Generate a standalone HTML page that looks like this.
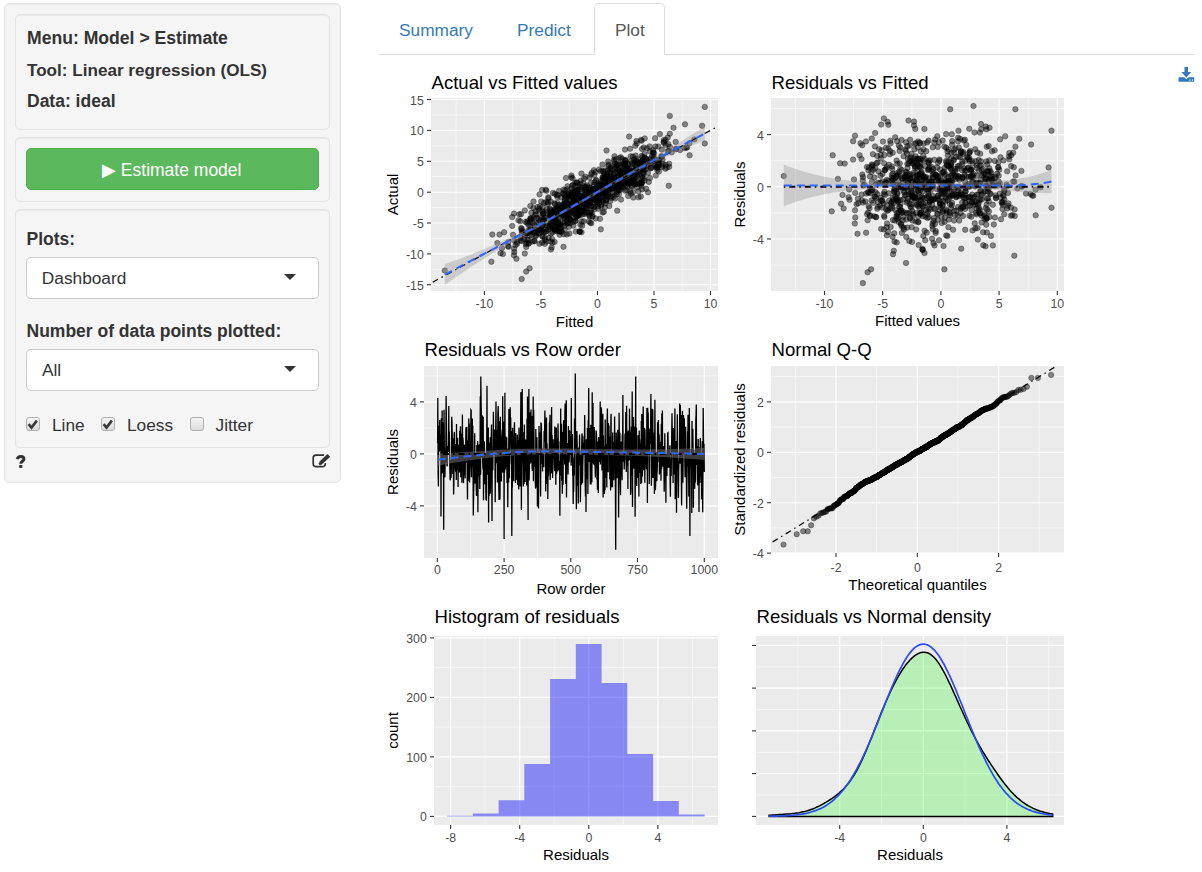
<!DOCTYPE html>
<html><head><meta charset="utf-8">
<style>
*{box-sizing:border-box;margin:0;padding:0}
html,body{width:1202px;height:872px;background:#fff;overflow:hidden;font-family:"Liberation Sans",sans-serif;color:#333}
.abs{position:absolute}
.well{position:absolute;background:#f5f5f5;border:1px solid #e3e3e3;border-radius:5px;box-shadow:inset 0 1px 1px rgba(0,0,0,.05)}
.t{position:absolute;white-space:nowrap;line-height:1}
.b{font-weight:bold;font-size:17.5px;color:#333}
.sel{position:absolute;background:#fff;border:1px solid #ccc;border-radius:5px}
.arrow{position:absolute;width:0;height:0;border-left:6px solid transparent;border-right:6px solid transparent;border-top:6px solid #333}
.cb{position:absolute;width:14px;height:14px;border:1px solid #b0b0b0;border-radius:3px;background:linear-gradient(#f4f4f4,#dcdcdc)}
.tab{position:absolute;font-size:17.3px;line-height:1;white-space:nowrap}
svg text{font-family:"Liberation Sans",sans-serif}
.tl{font-size:12.3px;fill:#4D4D4D}
.at{font-size:15px;fill:#000}
.tt{font-size:18.6px;fill:#000}
</style></head><body>
<div class="well" style="left:4px;top:3px;width:337px;height:480px"></div>
<div class="well" style="left:15px;top:14px;width:315px;height:116px"></div>
<div class="well" style="left:15px;top:137px;width:315px;height:65px"></div>
<div class="well" style="left:15px;top:209px;width:315px;height:239px"></div>

<div class="t b" style="left:27px;top:30px;font-size:17.6px">Menu: Model &gt; Estimate</div>
<div class="t b" style="left:27px;top:62px;font-size:17.1px">Tool: Linear regression (OLS)</div>
<div class="t b" style="left:27px;top:93px">Data: ideal</div>

<div class="abs" style="left:26px;top:148px;width:293px;height:42px;background:#5cb85c;border:1px solid #4cae4c;border-radius:5px"></div>
<div class="t" style="left:102px;top:162px;font-size:17.5px;color:#fff">&#9654; Estimate model</div>

<div class="t b" style="left:26.5px;top:231px">Plots:</div>
<div class="sel" style="left:26px;top:257px;width:293px;height:42px"></div>
<div class="t" style="left:41.8px;top:270px;font-size:17.3px;color:#333">Dashboard</div>
<div class="arrow" style="left:284px;top:274px"></div>

<div class="t b" style="left:26.5px;top:323px">Number of data points plotted:</div>
<div class="sel" style="left:26px;top:349px;width:293px;height:42px"></div>
<div class="t" style="left:42px;top:362px;font-size:17.3px;color:#333">All</div>
<div class="arrow" style="left:284px;top:366px"></div>

<div class="cb" style="left:26px;top:417px"></div>
<div class="t" style="left:52px;top:417px;font-size:17.3px;color:#333">Line</div>
<div class="cb" style="left:101px;top:417px"></div>
<div class="t" style="left:127px;top:417px;font-size:17.3px;color:#333">Loess</div>
<div class="cb" style="left:190px;top:417px"></div>
<div class="t" style="left:215.5px;top:417px;font-size:17.3px;color:#333">Jitter</div>


<!-- tabs -->
<div class="abs" style="left:379px;top:54px;width:815px;height:1px;background:#ddd"></div>
<div class="abs" style="left:594px;top:3px;width:71px;height:52px;background:#fff;border:1px solid #ddd;border-bottom:none;border-radius:5px 5px 0 0"></div>
<div class="tab" style="left:399px;top:22px;color:#337ab7">Summary</div>
<div class="tab" style="left:517px;top:22px;color:#337ab7">Predict</div>
<div class="tab" style="left:615px;top:22px;color:#555">Plot</div>

<svg class="abs" style="left:0;top:0" width="1202" height="872" viewBox="0 0 1202 872">
<!-- check marks -->
<path d="M28.6 424.2 l2.9 3.4 l5.4 -7" fill="none" stroke="#3a3a3a" stroke-width="2.6"/>
<path d="M103.6 424.2 l2.9 3.4 l5.4 -7" fill="none" stroke="#3a3a3a" stroke-width="2.6"/>
<!-- edit icon -->
<path d="M324 455.2 H316 a2.8 2.8 0 0 0 -2.8 2.8 V463.9 a2.8 2.8 0 0 0 2.8 2.8 H322.5 a2.8 2.8 0 0 0 2.8 -2.8 V463" fill="none" stroke="#333" stroke-width="1.7"/>
<line x1="320.6" y1="463.2" x2="328.8" y2="455.4" stroke="#f5f5f5" stroke-width="6"/>
<line x1="320.6" y1="463.2" x2="328.8" y2="455.4" stroke="#333" stroke-width="3.8"/>
<circle cx="320.3" cy="463.6" r="1.6" fill="#333"/>
<!-- question -->
<path d="M17.2 459.2 C17.8 456.8 19.3 456.4 20.8 456.4 C22.8 456.4 23.9 457.6 23.9 459 C23.9 461.2 20.8 461.4 20.8 463.8" fill="none" stroke="#333" stroke-width="3"/>
<rect x="19.2" y="465" width="3.1" height="2.9" fill="#333"/>
<!-- download icon -->
<g fill="#337ab7">
<rect x="1184.5" y="67" width="3.5" height="5.5"/>
<path d="M1181.3 72 h10 l-5 5.5 z"/>
<path d="M1178.5 77.3 h5.8 l2 2 l2 -2 h5.9 v4.4 h-15.7 z"/>
</g>
<rect x="1189.3" y="79.5" width="1.2" height="1.2" fill="#fff"/><rect x="1191.9" y="79.5" width="1" height="1.2" fill="#fff"/>
<defs>
<clipPath id="c1"><rect x="431" y="98" width="287" height="193"/></clipPath>
<clipPath id="c2"><rect x="771" y="98" width="293" height="193"/></clipPath>
<clipPath id="c3"><rect x="424" y="366" width="294" height="192"/></clipPath>
<clipPath id="c4"><rect x="771" y="366" width="293" height="187"/></clipPath>
<clipPath id="c5"><rect x="434" y="636" width="284" height="189"/></clipPath>
<clipPath id="c6"><rect x="756" y="636" width="308" height="189"/></clipPath>
</defs>
<rect x="431" y="98" width="287" height="193" fill="#EBEBEB"/>
<line x1="431" x2="718" y1="269.4" y2="269.4" stroke="#fff" stroke-width="0.55"/>
<line x1="431" x2="718" y1="238.5" y2="238.5" stroke="#fff" stroke-width="0.55"/>
<line x1="431" x2="718" y1="207.6" y2="207.6" stroke="#fff" stroke-width="0.55"/>
<line x1="431" x2="718" y1="176.7" y2="176.7" stroke="#fff" stroke-width="0.55"/>
<line x1="431" x2="718" y1="145.8" y2="145.8" stroke="#fff" stroke-width="0.55"/>
<line x1="431" x2="718" y1="114.9" y2="114.9" stroke="#fff" stroke-width="0.55"/>
<line y1="98" y2="291" x1="456.1" x2="456.1" stroke="#fff" stroke-width="0.55"/>
<line y1="98" y2="291" x1="512.7" x2="512.7" stroke="#fff" stroke-width="0.55"/>
<line y1="98" y2="291" x1="569.2" x2="569.2" stroke="#fff" stroke-width="0.55"/>
<line y1="98" y2="291" x1="625.7" x2="625.7" stroke="#fff" stroke-width="0.55"/>
<line y1="98" y2="291" x1="682.2" x2="682.2" stroke="#fff" stroke-width="0.55"/>
<line x1="431" x2="718" y1="284.8" y2="284.8" stroke="#fff" stroke-width="1.1"/>
<line x1="431" x2="718" y1="253.9" y2="253.9" stroke="#fff" stroke-width="1.1"/>
<line x1="431" x2="718" y1="223" y2="223" stroke="#fff" stroke-width="1.1"/>
<line x1="431" x2="718" y1="192.2" y2="192.2" stroke="#fff" stroke-width="1.1"/>
<line x1="431" x2="718" y1="161.3" y2="161.3" stroke="#fff" stroke-width="1.1"/>
<line x1="431" x2="718" y1="130.4" y2="130.4" stroke="#fff" stroke-width="1.1"/>
<line x1="431" x2="718" y1="99.5" y2="99.5" stroke="#fff" stroke-width="1.1"/>
<line y1="98" y2="291" x1="484.4" x2="484.4" stroke="#fff" stroke-width="1.1"/>
<line y1="98" y2="291" x1="540.9" x2="540.9" stroke="#fff" stroke-width="1.1"/>
<line y1="98" y2="291" x1="597.5" x2="597.5" stroke="#fff" stroke-width="1.1"/>
<line y1="98" y2="291" x1="654" x2="654" stroke="#fff" stroke-width="1.1"/>
<line y1="98" y2="291" x1="710.5" x2="710.5" stroke="#fff" stroke-width="1.1"/>
<g clip-path="url(#c1)">
<g fill="#000" fill-opacity="0.45" stroke="#000" stroke-opacity="0.45" stroke-width="0.7">
<circle cx="444.8" cy="270.5" r="2.75"/>
<circle cx="704.8" cy="106.9" r="2.75"/>
<circle cx="704.8" cy="143.4" r="2.75"/>
<circle cx="594.5" cy="209.3" r="2.75"/>
<circle cx="565.3" cy="196.4" r="2.75"/>
<circle cx="608.6" cy="178.8" r="2.75"/>
<circle cx="647.8" cy="163.6" r="2.75"/>
<circle cx="611.2" cy="177.3" r="2.75"/>
<circle cx="632.8" cy="156.7" r="2.75"/>
<circle cx="585.9" cy="196.9" r="2.75"/>
<circle cx="582.3" cy="196.6" r="2.75"/>
<circle cx="632.3" cy="171.1" r="2.75"/>
<circle cx="702.1" cy="125.8" r="2.75"/>
<circle cx="579.6" cy="231.7" r="2.75"/>
<circle cx="548" cy="202.2" r="2.75"/>
<circle cx="620.3" cy="179.8" r="2.75"/>
<circle cx="643.8" cy="173.6" r="2.75"/>
<circle cx="519.3" cy="214.3" r="2.75"/>
<circle cx="567.8" cy="217.6" r="2.75"/>
<circle cx="665.7" cy="139.9" r="2.75"/>
<circle cx="641.7" cy="156" r="2.75"/>
<circle cx="612.2" cy="189" r="2.75"/>
<circle cx="592.7" cy="189.2" r="2.75"/>
<circle cx="563.5" cy="246.8" r="2.75"/>
<circle cx="584.1" cy="178.5" r="2.75"/>
<circle cx="649.8" cy="151.3" r="2.75"/>
<circle cx="669.1" cy="163.7" r="2.75"/>
<circle cx="627.4" cy="186.9" r="2.75"/>
<circle cx="614.2" cy="192.5" r="2.75"/>
<circle cx="644.4" cy="164" r="2.75"/>
<circle cx="589.4" cy="200.8" r="2.75"/>
<circle cx="608" cy="188.7" r="2.75"/>
<circle cx="625" cy="149.6" r="2.75"/>
<circle cx="625.3" cy="160.8" r="2.75"/>
<circle cx="644.5" cy="157.6" r="2.75"/>
<circle cx="626.3" cy="181.2" r="2.75"/>
<circle cx="560.9" cy="218" r="2.75"/>
<circle cx="576.7" cy="199.7" r="2.75"/>
<circle cx="581.9" cy="198.7" r="2.75"/>
<circle cx="521.6" cy="230.5" r="2.75"/>
<circle cx="602.8" cy="188.3" r="2.75"/>
<circle cx="550.4" cy="216.5" r="2.75"/>
<circle cx="673.5" cy="127.8" r="2.75"/>
<circle cx="579.5" cy="197.6" r="2.75"/>
<circle cx="642.4" cy="157" r="2.75"/>
<circle cx="586.4" cy="198.6" r="2.75"/>
<circle cx="516.8" cy="241.9" r="2.75"/>
<circle cx="635.4" cy="184" r="2.75"/>
<circle cx="585" cy="210.7" r="2.75"/>
<circle cx="585.9" cy="208.8" r="2.75"/>
<circle cx="575.8" cy="206.8" r="2.75"/>
<circle cx="545.3" cy="232" r="2.75"/>
<circle cx="552.1" cy="218.4" r="2.75"/>
<circle cx="580.5" cy="183.7" r="2.75"/>
<circle cx="604.1" cy="173.7" r="2.75"/>
<circle cx="639.7" cy="162.8" r="2.75"/>
<circle cx="661.8" cy="149.6" r="2.75"/>
<circle cx="536.2" cy="235.2" r="2.75"/>
<circle cx="642.5" cy="160.4" r="2.75"/>
<circle cx="537" cy="218" r="2.75"/>
<circle cx="564.7" cy="229.3" r="2.75"/>
<circle cx="626.9" cy="190.3" r="2.75"/>
<circle cx="601.3" cy="181" r="2.75"/>
<circle cx="607.2" cy="176.3" r="2.75"/>
<circle cx="601.9" cy="196.7" r="2.75"/>
<circle cx="594.4" cy="189.5" r="2.75"/>
<circle cx="594.7" cy="188.9" r="2.75"/>
<circle cx="647.9" cy="173.1" r="2.75"/>
<circle cx="603.1" cy="186.4" r="2.75"/>
<circle cx="603.6" cy="190.2" r="2.75"/>
<circle cx="578.1" cy="215.1" r="2.75"/>
<circle cx="612.2" cy="169.9" r="2.75"/>
<circle cx="546.9" cy="222.8" r="2.75"/>
<circle cx="574.3" cy="210.4" r="2.75"/>
<circle cx="582.9" cy="207.8" r="2.75"/>
<circle cx="622.3" cy="170.9" r="2.75"/>
<circle cx="540.3" cy="230" r="2.75"/>
<circle cx="550.9" cy="233.4" r="2.75"/>
<circle cx="641.1" cy="164" r="2.75"/>
<circle cx="571.2" cy="207.1" r="2.75"/>
<circle cx="551.5" cy="223.4" r="2.75"/>
<circle cx="667.7" cy="151.2" r="2.75"/>
<circle cx="608.1" cy="195.1" r="2.75"/>
<circle cx="628.2" cy="164.3" r="2.75"/>
<circle cx="614.4" cy="177.9" r="2.75"/>
<circle cx="652.9" cy="152.7" r="2.75"/>
<circle cx="520.3" cy="221.2" r="2.75"/>
<circle cx="546.3" cy="231.2" r="2.75"/>
<circle cx="613.7" cy="173.6" r="2.75"/>
<circle cx="645.6" cy="161" r="2.75"/>
<circle cx="686.2" cy="147.8" r="2.75"/>
<circle cx="665.4" cy="168.7" r="2.75"/>
<circle cx="549.6" cy="225.5" r="2.75"/>
<circle cx="589.5" cy="177.8" r="2.75"/>
<circle cx="534.4" cy="231.9" r="2.75"/>
<circle cx="527.1" cy="222.8" r="2.75"/>
<circle cx="592.2" cy="189.4" r="2.75"/>
<circle cx="532.5" cy="241.6" r="2.75"/>
<circle cx="653.3" cy="161" r="2.75"/>
<circle cx="661.8" cy="167.2" r="2.75"/>
<circle cx="618.6" cy="176.2" r="2.75"/>
<circle cx="549.9" cy="214" r="2.75"/>
<circle cx="583.7" cy="199" r="2.75"/>
<circle cx="644.1" cy="178.3" r="2.75"/>
<circle cx="572.3" cy="210.8" r="2.75"/>
<circle cx="552" cy="219.2" r="2.75"/>
<circle cx="634.1" cy="159.5" r="2.75"/>
<circle cx="637.2" cy="162.6" r="2.75"/>
<circle cx="597.6" cy="195.4" r="2.75"/>
<circle cx="603.3" cy="193.1" r="2.75"/>
<circle cx="512.2" cy="225.9" r="2.75"/>
<circle cx="582.9" cy="210.9" r="2.75"/>
<circle cx="524.8" cy="253.6" r="2.75"/>
<circle cx="590.6" cy="189.4" r="2.75"/>
<circle cx="634.3" cy="179.6" r="2.75"/>
<circle cx="606.3" cy="200" r="2.75"/>
<circle cx="555" cy="227.8" r="2.75"/>
<circle cx="616.8" cy="164.7" r="2.75"/>
<circle cx="634.3" cy="181.9" r="2.75"/>
<circle cx="561.2" cy="197.5" r="2.75"/>
<circle cx="613.7" cy="196.8" r="2.75"/>
<circle cx="578.1" cy="211.1" r="2.75"/>
<circle cx="555.9" cy="221.2" r="2.75"/>
<circle cx="607.9" cy="180.9" r="2.75"/>
<circle cx="508.3" cy="242.2" r="2.75"/>
<circle cx="576.8" cy="182.5" r="2.75"/>
<circle cx="573" cy="184.8" r="2.75"/>
<circle cx="553.2" cy="227.4" r="2.75"/>
<circle cx="620.3" cy="174.2" r="2.75"/>
<circle cx="580.6" cy="197.7" r="2.75"/>
<circle cx="647.1" cy="148.2" r="2.75"/>
<circle cx="558.2" cy="219.9" r="2.75"/>
<circle cx="575" cy="191" r="2.75"/>
<circle cx="578.8" cy="214.7" r="2.75"/>
<circle cx="617.2" cy="210.7" r="2.75"/>
<circle cx="633" cy="192.2" r="2.75"/>
<circle cx="564.6" cy="222.7" r="2.75"/>
<circle cx="574" cy="204.1" r="2.75"/>
<circle cx="656.9" cy="167.3" r="2.75"/>
<circle cx="665.7" cy="145.1" r="2.75"/>
<circle cx="585.7" cy="207.1" r="2.75"/>
<circle cx="582.5" cy="214.5" r="2.75"/>
<circle cx="554.9" cy="214.7" r="2.75"/>
<circle cx="613.9" cy="184.8" r="2.75"/>
<circle cx="630.8" cy="180.6" r="2.75"/>
<circle cx="590.3" cy="212.2" r="2.75"/>
<circle cx="589.6" cy="216.4" r="2.75"/>
<circle cx="589.5" cy="192.3" r="2.75"/>
<circle cx="556.9" cy="223.6" r="2.75"/>
<circle cx="604" cy="194.9" r="2.75"/>
<circle cx="540.8" cy="217" r="2.75"/>
<circle cx="648" cy="192.3" r="2.75"/>
<circle cx="589.8" cy="195.4" r="2.75"/>
<circle cx="544" cy="232" r="2.75"/>
<circle cx="560" cy="208.4" r="2.75"/>
<circle cx="653.7" cy="159" r="2.75"/>
<circle cx="580.5" cy="196.8" r="2.75"/>
<circle cx="618.1" cy="184.4" r="2.75"/>
<circle cx="575.6" cy="220.8" r="2.75"/>
<circle cx="572.2" cy="211.5" r="2.75"/>
<circle cx="572.6" cy="178.3" r="2.75"/>
<circle cx="618.6" cy="190.5" r="2.75"/>
<circle cx="606.5" cy="150.5" r="2.75"/>
<circle cx="635.3" cy="145.8" r="2.75"/>
<circle cx="610.3" cy="169" r="2.75"/>
<circle cx="593.7" cy="195.4" r="2.75"/>
<circle cx="577.6" cy="204.5" r="2.75"/>
<circle cx="529.4" cy="230.9" r="2.75"/>
<circle cx="611.7" cy="166.2" r="2.75"/>
<circle cx="553.1" cy="221" r="2.75"/>
<circle cx="631.6" cy="180.8" r="2.75"/>
<circle cx="571.7" cy="188.5" r="2.75"/>
<circle cx="552.1" cy="238.9" r="2.75"/>
<circle cx="641.6" cy="164.5" r="2.75"/>
<circle cx="559.9" cy="213" r="2.75"/>
<circle cx="577.5" cy="197" r="2.75"/>
<circle cx="632.2" cy="172.5" r="2.75"/>
<circle cx="641.6" cy="182.5" r="2.75"/>
<circle cx="578" cy="215.9" r="2.75"/>
<circle cx="534.3" cy="241" r="2.75"/>
<circle cx="661.7" cy="156.8" r="2.75"/>
<circle cx="559.6" cy="234.7" r="2.75"/>
<circle cx="552.4" cy="217.5" r="2.75"/>
<circle cx="516.4" cy="258.7" r="2.75"/>
<circle cx="585.3" cy="197.3" r="2.75"/>
<circle cx="542.1" cy="190" r="2.75"/>
<circle cx="670" cy="147.1" r="2.75"/>
<circle cx="558.1" cy="221.9" r="2.75"/>
<circle cx="540.5" cy="233.1" r="2.75"/>
<circle cx="609.4" cy="179.2" r="2.75"/>
<circle cx="575.6" cy="191.5" r="2.75"/>
<circle cx="668.8" cy="185.8" r="2.75"/>
<circle cx="559.4" cy="205" r="2.75"/>
<circle cx="539.4" cy="243.8" r="2.75"/>
<circle cx="637.1" cy="165.2" r="2.75"/>
<circle cx="621.7" cy="178.3" r="2.75"/>
<circle cx="634.8" cy="169.9" r="2.75"/>
<circle cx="559.7" cy="231.7" r="2.75"/>
<circle cx="589.4" cy="213.9" r="2.75"/>
<circle cx="542.9" cy="214" r="2.75"/>
<circle cx="599.1" cy="200.3" r="2.75"/>
<circle cx="652.1" cy="156.1" r="2.75"/>
<circle cx="623.6" cy="163.9" r="2.75"/>
<circle cx="556.5" cy="231.2" r="2.75"/>
<circle cx="550.9" cy="249.5" r="2.75"/>
<circle cx="588" cy="194.8" r="2.75"/>
<circle cx="531.7" cy="235.6" r="2.75"/>
<circle cx="608.3" cy="193.8" r="2.75"/>
<circle cx="567.6" cy="204.6" r="2.75"/>
<circle cx="685" cy="124.3" r="2.75"/>
<circle cx="599.4" cy="189.4" r="2.75"/>
<circle cx="607.9" cy="185.4" r="2.75"/>
<circle cx="585.4" cy="190.5" r="2.75"/>
<circle cx="577.5" cy="191.5" r="2.75"/>
<circle cx="654" cy="153.2" r="2.75"/>
<circle cx="640.2" cy="166.7" r="2.75"/>
<circle cx="602.6" cy="212.4" r="2.75"/>
<circle cx="614" cy="179" r="2.75"/>
<circle cx="616.5" cy="165.7" r="2.75"/>
<circle cx="602.5" cy="164.5" r="2.75"/>
<circle cx="603.4" cy="189.7" r="2.75"/>
<circle cx="585.9" cy="202.9" r="2.75"/>
<circle cx="594.6" cy="182.3" r="2.75"/>
<circle cx="538.8" cy="219" r="2.75"/>
<circle cx="570.6" cy="220.4" r="2.75"/>
<circle cx="576.4" cy="202" r="2.75"/>
<circle cx="567.1" cy="189.3" r="2.75"/>
<circle cx="616.1" cy="159.2" r="2.75"/>
<circle cx="562.9" cy="193.4" r="2.75"/>
<circle cx="526.7" cy="243" r="2.75"/>
<circle cx="592.3" cy="216.8" r="2.75"/>
<circle cx="659.1" cy="164.5" r="2.75"/>
<circle cx="619.1" cy="164.6" r="2.75"/>
<circle cx="542.3" cy="211.2" r="2.75"/>
<circle cx="642.1" cy="189.4" r="2.75"/>
<circle cx="604.9" cy="170.4" r="2.75"/>
<circle cx="595.4" cy="190.8" r="2.75"/>
<circle cx="560.8" cy="211.9" r="2.75"/>
<circle cx="596.4" cy="194.1" r="2.75"/>
<circle cx="632.2" cy="186.2" r="2.75"/>
<circle cx="607.2" cy="178.3" r="2.75"/>
<circle cx="600.5" cy="183.3" r="2.75"/>
<circle cx="536.1" cy="214.2" r="2.75"/>
<circle cx="630.7" cy="182.3" r="2.75"/>
<circle cx="581.4" cy="173.6" r="2.75"/>
<circle cx="662.3" cy="165.7" r="2.75"/>
<circle cx="654.8" cy="159.3" r="2.75"/>
<circle cx="596.8" cy="200.4" r="2.75"/>
<circle cx="547.8" cy="203.9" r="2.75"/>
<circle cx="526.2" cy="271.5" r="2.75"/>
<circle cx="605.4" cy="178" r="2.75"/>
<circle cx="625.6" cy="185.6" r="2.75"/>
<circle cx="571.4" cy="177.4" r="2.75"/>
<circle cx="528.6" cy="232.8" r="2.75"/>
<circle cx="618.1" cy="188.2" r="2.75"/>
<circle cx="543.8" cy="213.1" r="2.75"/>
<circle cx="527.2" cy="233.3" r="2.75"/>
<circle cx="577.1" cy="209.6" r="2.75"/>
<circle cx="615.2" cy="182.3" r="2.75"/>
<circle cx="584.7" cy="191.2" r="2.75"/>
<circle cx="669.2" cy="166.8" r="2.75"/>
<circle cx="636.6" cy="172.5" r="2.75"/>
<circle cx="564.8" cy="216.7" r="2.75"/>
<circle cx="595.7" cy="218.4" r="2.75"/>
<circle cx="627.7" cy="173.3" r="2.75"/>
<circle cx="588" cy="194.9" r="2.75"/>
<circle cx="528.9" cy="243.3" r="2.75"/>
<circle cx="541.2" cy="201.5" r="2.75"/>
<circle cx="572.6" cy="204" r="2.75"/>
<circle cx="491.4" cy="261.7" r="2.75"/>
<circle cx="589" cy="189.6" r="2.75"/>
<circle cx="578.5" cy="196.1" r="2.75"/>
<circle cx="559.1" cy="190.9" r="2.75"/>
<circle cx="593.8" cy="185.1" r="2.75"/>
<circle cx="649.6" cy="146.4" r="2.75"/>
<circle cx="551.3" cy="213" r="2.75"/>
<circle cx="577" cy="208.2" r="2.75"/>
<circle cx="564.8" cy="199.1" r="2.75"/>
<circle cx="529.6" cy="268.3" r="2.75"/>
<circle cx="514.1" cy="248.8" r="2.75"/>
<circle cx="615.2" cy="198.4" r="2.75"/>
<circle cx="554.4" cy="203.2" r="2.75"/>
<circle cx="564.7" cy="210.5" r="2.75"/>
<circle cx="638.3" cy="161.5" r="2.75"/>
<circle cx="640.4" cy="165.1" r="2.75"/>
<circle cx="583.9" cy="212.5" r="2.75"/>
<circle cx="586" cy="195.9" r="2.75"/>
<circle cx="653.3" cy="150.1" r="2.75"/>
<circle cx="539" cy="209" r="2.75"/>
<circle cx="642.6" cy="168.2" r="2.75"/>
<circle cx="605.4" cy="188" r="2.75"/>
<circle cx="599.6" cy="192.1" r="2.75"/>
<circle cx="528.6" cy="243.6" r="2.75"/>
<circle cx="635" cy="161.7" r="2.75"/>
<circle cx="632.5" cy="183.3" r="2.75"/>
<circle cx="583" cy="201.1" r="2.75"/>
<circle cx="598" cy="189.2" r="2.75"/>
<circle cx="631.6" cy="185.9" r="2.75"/>
<circle cx="608.7" cy="183.4" r="2.75"/>
<circle cx="624.3" cy="168.4" r="2.75"/>
<circle cx="590.8" cy="210.6" r="2.75"/>
<circle cx="585.9" cy="199.3" r="2.75"/>
<circle cx="598.7" cy="184.8" r="2.75"/>
<circle cx="630" cy="179.1" r="2.75"/>
<circle cx="636.9" cy="187.4" r="2.75"/>
<circle cx="586.9" cy="185.4" r="2.75"/>
<circle cx="544.9" cy="217.6" r="2.75"/>
<circle cx="565" cy="201" r="2.75"/>
<circle cx="643.8" cy="167.8" r="2.75"/>
<circle cx="641.4" cy="183.6" r="2.75"/>
<circle cx="542.7" cy="224.4" r="2.75"/>
<circle cx="539.3" cy="210.5" r="2.75"/>
<circle cx="539.5" cy="194.4" r="2.75"/>
<circle cx="611" cy="179.3" r="2.75"/>
<circle cx="590.3" cy="222.7" r="2.75"/>
<circle cx="669.8" cy="133.7" r="2.75"/>
<circle cx="557.4" cy="197.1" r="2.75"/>
<circle cx="545.7" cy="189.7" r="2.75"/>
<circle cx="626.1" cy="176.2" r="2.75"/>
<circle cx="555.4" cy="215.5" r="2.75"/>
<circle cx="590.4" cy="202" r="2.75"/>
<circle cx="605.2" cy="203.4" r="2.75"/>
<circle cx="639.9" cy="181.9" r="2.75"/>
<circle cx="547.1" cy="209.3" r="2.75"/>
<circle cx="644.6" cy="180.6" r="2.75"/>
<circle cx="616.4" cy="167.8" r="2.75"/>
<circle cx="562.6" cy="206.6" r="2.75"/>
<circle cx="649.3" cy="160" r="2.75"/>
<circle cx="611.4" cy="197.9" r="2.75"/>
<circle cx="540.6" cy="220.7" r="2.75"/>
<circle cx="564.4" cy="203.3" r="2.75"/>
<circle cx="569.5" cy="211.8" r="2.75"/>
<circle cx="541.8" cy="230.5" r="2.75"/>
<circle cx="520.4" cy="237.9" r="2.75"/>
<circle cx="642" cy="182.8" r="2.75"/>
<circle cx="603.9" cy="171.9" r="2.75"/>
<circle cx="539.1" cy="229.2" r="2.75"/>
<circle cx="636.7" cy="143.5" r="2.75"/>
<circle cx="594.5" cy="206.7" r="2.75"/>
<circle cx="581.5" cy="232.2" r="2.75"/>
<circle cx="591.9" cy="172.8" r="2.75"/>
<circle cx="630.6" cy="173.4" r="2.75"/>
<circle cx="571.4" cy="175.5" r="2.75"/>
<circle cx="576.9" cy="216" r="2.75"/>
<circle cx="578.1" cy="209" r="2.75"/>
<circle cx="564.8" cy="204.3" r="2.75"/>
<circle cx="624.9" cy="163.4" r="2.75"/>
<circle cx="622.1" cy="158.9" r="2.75"/>
<circle cx="615.3" cy="186.9" r="2.75"/>
<circle cx="563.5" cy="214.5" r="2.75"/>
<circle cx="563.6" cy="189.6" r="2.75"/>
<circle cx="611.3" cy="176.2" r="2.75"/>
<circle cx="626.8" cy="171.3" r="2.75"/>
<circle cx="546.3" cy="202" r="2.75"/>
<circle cx="589.8" cy="202.7" r="2.75"/>
<circle cx="580.3" cy="209.6" r="2.75"/>
<circle cx="571.6" cy="194.3" r="2.75"/>
<circle cx="570.3" cy="200.6" r="2.75"/>
<circle cx="641.6" cy="140.8" r="2.75"/>
<circle cx="525.8" cy="244.3" r="2.75"/>
<circle cx="591.1" cy="174.6" r="2.75"/>
<circle cx="611.7" cy="179.5" r="2.75"/>
<circle cx="598.9" cy="194" r="2.75"/>
<circle cx="689.4" cy="143.3" r="2.75"/>
<circle cx="588.6" cy="203.2" r="2.75"/>
<circle cx="648.9" cy="162.1" r="2.75"/>
<circle cx="689.6" cy="155.3" r="2.75"/>
<circle cx="572.9" cy="222" r="2.75"/>
<circle cx="567" cy="197" r="2.75"/>
<circle cx="556" cy="212.2" r="2.75"/>
<circle cx="552.6" cy="232.6" r="2.75"/>
<circle cx="579.7" cy="200.3" r="2.75"/>
<circle cx="543.1" cy="214" r="2.75"/>
<circle cx="526.6" cy="233.4" r="2.75"/>
<circle cx="633.3" cy="197.5" r="2.75"/>
<circle cx="556.8" cy="214.7" r="2.75"/>
<circle cx="615" cy="186.2" r="2.75"/>
<circle cx="646.1" cy="188.8" r="2.75"/>
<circle cx="552.4" cy="242.7" r="2.75"/>
<circle cx="606.2" cy="195.6" r="2.75"/>
<circle cx="574.5" cy="191.4" r="2.75"/>
<circle cx="631.8" cy="171.7" r="2.75"/>
<circle cx="602.9" cy="178.9" r="2.75"/>
<circle cx="558.4" cy="208.3" r="2.75"/>
<circle cx="533.7" cy="218.1" r="2.75"/>
<circle cx="626.5" cy="168.2" r="2.75"/>
<circle cx="561.6" cy="231.9" r="2.75"/>
<circle cx="492.3" cy="234.6" r="2.75"/>
<circle cx="501.9" cy="248.2" r="2.75"/>
<circle cx="580.2" cy="187" r="2.75"/>
<circle cx="654.8" cy="164.1" r="2.75"/>
<circle cx="606.3" cy="192" r="2.75"/>
<circle cx="575" cy="201.9" r="2.75"/>
<circle cx="568.9" cy="216.1" r="2.75"/>
<circle cx="572.4" cy="209.2" r="2.75"/>
<circle cx="565" cy="209.7" r="2.75"/>
<circle cx="586.4" cy="198.3" r="2.75"/>
<circle cx="566" cy="212.9" r="2.75"/>
<circle cx="539.1" cy="230.4" r="2.75"/>
<circle cx="566" cy="198.4" r="2.75"/>
<circle cx="638.5" cy="163.9" r="2.75"/>
<circle cx="585.8" cy="187.2" r="2.75"/>
<circle cx="577" cy="182.6" r="2.75"/>
<circle cx="602.5" cy="177.3" r="2.75"/>
<circle cx="581.6" cy="187.5" r="2.75"/>
<circle cx="648.8" cy="181.9" r="2.75"/>
<circle cx="522" cy="232.8" r="2.75"/>
<circle cx="614.7" cy="168.4" r="2.75"/>
<circle cx="539.9" cy="206.3" r="2.75"/>
<circle cx="585.7" cy="212.8" r="2.75"/>
<circle cx="614.2" cy="177.9" r="2.75"/>
<circle cx="552.3" cy="219.3" r="2.75"/>
<circle cx="599.3" cy="192.5" r="2.75"/>
<circle cx="546.1" cy="241.6" r="2.75"/>
<circle cx="633.5" cy="176.1" r="2.75"/>
<circle cx="568.6" cy="205.5" r="2.75"/>
<circle cx="616.7" cy="192" r="2.75"/>
<circle cx="624.5" cy="182.4" r="2.75"/>
<circle cx="568.1" cy="211.2" r="2.75"/>
<circle cx="518.5" cy="220.3" r="2.75"/>
<circle cx="625.3" cy="164.7" r="2.75"/>
<circle cx="614.8" cy="164" r="2.75"/>
<circle cx="573.7" cy="217.5" r="2.75"/>
<circle cx="637.1" cy="176.5" r="2.75"/>
<circle cx="623.2" cy="187.4" r="2.75"/>
<circle cx="624.4" cy="172.8" r="2.75"/>
<circle cx="650.7" cy="158.4" r="2.75"/>
<circle cx="620.8" cy="157.2" r="2.75"/>
<circle cx="527.2" cy="239.7" r="2.75"/>
<circle cx="578" cy="193.7" r="2.75"/>
<circle cx="694.4" cy="139.4" r="2.75"/>
<circle cx="599.4" cy="202.5" r="2.75"/>
<circle cx="563.2" cy="203.9" r="2.75"/>
<circle cx="554.6" cy="209.2" r="2.75"/>
<circle cx="650" cy="163" r="2.75"/>
<circle cx="579.7" cy="204" r="2.75"/>
<circle cx="618.5" cy="176" r="2.75"/>
<circle cx="637" cy="174.2" r="2.75"/>
<circle cx="515.5" cy="245.2" r="2.75"/>
<circle cx="577.9" cy="189.8" r="2.75"/>
<circle cx="627.9" cy="170.2" r="2.75"/>
<circle cx="610" cy="172.8" r="2.75"/>
<circle cx="607.2" cy="178.2" r="2.75"/>
<circle cx="567.5" cy="223.2" r="2.75"/>
<circle cx="611.9" cy="184.3" r="2.75"/>
<circle cx="644.5" cy="154" r="2.75"/>
<circle cx="619" cy="189.9" r="2.75"/>
<circle cx="579.9" cy="196.3" r="2.75"/>
<circle cx="620.9" cy="171.7" r="2.75"/>
<circle cx="574.2" cy="213.3" r="2.75"/>
<circle cx="562.4" cy="215.4" r="2.75"/>
<circle cx="572.9" cy="191.1" r="2.75"/>
<circle cx="606.9" cy="181.9" r="2.75"/>
<circle cx="663.1" cy="164.1" r="2.75"/>
<circle cx="541.8" cy="226" r="2.75"/>
<circle cx="605.5" cy="193.1" r="2.75"/>
<circle cx="594.8" cy="197.8" r="2.75"/>
<circle cx="573.5" cy="213.8" r="2.75"/>
<circle cx="579.6" cy="231.3" r="2.75"/>
<circle cx="629.3" cy="168.7" r="2.75"/>
<circle cx="616.6" cy="185.3" r="2.75"/>
<circle cx="554.9" cy="193.8" r="2.75"/>
<circle cx="535.7" cy="236.3" r="2.75"/>
<circle cx="574.7" cy="198.9" r="2.75"/>
<circle cx="663.6" cy="141.7" r="2.75"/>
<circle cx="570.3" cy="219.7" r="2.75"/>
<circle cx="585.2" cy="202.1" r="2.75"/>
<circle cx="548.7" cy="237.8" r="2.75"/>
<circle cx="574.2" cy="194.5" r="2.75"/>
<circle cx="645.4" cy="158.5" r="2.75"/>
<circle cx="556.1" cy="229.4" r="2.75"/>
<circle cx="551.2" cy="213.8" r="2.75"/>
<circle cx="663.9" cy="139.9" r="2.75"/>
<circle cx="640" cy="171.1" r="2.75"/>
<circle cx="604.6" cy="176.3" r="2.75"/>
<circle cx="602.4" cy="187.4" r="2.75"/>
<circle cx="655.7" cy="165.4" r="2.75"/>
<circle cx="572" cy="185.8" r="2.75"/>
<circle cx="593.9" cy="170.2" r="2.75"/>
<circle cx="646.4" cy="158.9" r="2.75"/>
<circle cx="598" cy="206.1" r="2.75"/>
<circle cx="531.4" cy="212.8" r="2.75"/>
<circle cx="533.5" cy="201.6" r="2.75"/>
<circle cx="628.2" cy="196" r="2.75"/>
<circle cx="557.5" cy="213.5" r="2.75"/>
<circle cx="610.3" cy="187.3" r="2.75"/>
<circle cx="604.7" cy="183.5" r="2.75"/>
<circle cx="596.7" cy="187.4" r="2.75"/>
<circle cx="562.2" cy="207.2" r="2.75"/>
<circle cx="665.6" cy="164.8" r="2.75"/>
<circle cx="607.1" cy="173.5" r="2.75"/>
<circle cx="608.8" cy="189.3" r="2.75"/>
<circle cx="604.8" cy="192.2" r="2.75"/>
<circle cx="514.2" cy="240.5" r="2.75"/>
<circle cx="603.1" cy="187.1" r="2.75"/>
<circle cx="535.1" cy="215" r="2.75"/>
<circle cx="544.2" cy="219.7" r="2.75"/>
<circle cx="549.7" cy="212.6" r="2.75"/>
<circle cx="632.1" cy="168" r="2.75"/>
<circle cx="626.8" cy="168" r="2.75"/>
<circle cx="591.2" cy="201.1" r="2.75"/>
<circle cx="614.5" cy="156.3" r="2.75"/>
<circle cx="608.5" cy="190.2" r="2.75"/>
<circle cx="635.7" cy="173.1" r="2.75"/>
<circle cx="590.1" cy="191.7" r="2.75"/>
<circle cx="576.7" cy="194.1" r="2.75"/>
<circle cx="502.9" cy="254" r="2.75"/>
<circle cx="596.8" cy="200.3" r="2.75"/>
<circle cx="563.8" cy="234.3" r="2.75"/>
<circle cx="596.2" cy="199.6" r="2.75"/>
<circle cx="641.4" cy="186.1" r="2.75"/>
<circle cx="530.7" cy="230.3" r="2.75"/>
<circle cx="576.7" cy="213.7" r="2.75"/>
<circle cx="578" cy="186" r="2.75"/>
<circle cx="571.4" cy="193" r="2.75"/>
<circle cx="624.3" cy="164.5" r="2.75"/>
<circle cx="629.1" cy="136.6" r="2.75"/>
<circle cx="604.3" cy="186.4" r="2.75"/>
<circle cx="589.6" cy="196.3" r="2.75"/>
<circle cx="584.5" cy="214" r="2.75"/>
<circle cx="554.5" cy="241.9" r="2.75"/>
<circle cx="584.6" cy="203.5" r="2.75"/>
<circle cx="570.8" cy="195.8" r="2.75"/>
<circle cx="617.9" cy="176.9" r="2.75"/>
<circle cx="655.8" cy="175.6" r="2.75"/>
<circle cx="602.8" cy="201.4" r="2.75"/>
<circle cx="549.9" cy="215.3" r="2.75"/>
<circle cx="550.4" cy="241.5" r="2.75"/>
<circle cx="651" cy="168" r="2.75"/>
<circle cx="646.9" cy="162.1" r="2.75"/>
<circle cx="621.3" cy="181.4" r="2.75"/>
<circle cx="588.3" cy="196.5" r="2.75"/>
<circle cx="586.4" cy="188.9" r="2.75"/>
<circle cx="593.6" cy="199.7" r="2.75"/>
<circle cx="634.2" cy="171.1" r="2.75"/>
<circle cx="544.9" cy="243.8" r="2.75"/>
<circle cx="642" cy="176.3" r="2.75"/>
<circle cx="577.5" cy="203.6" r="2.75"/>
<circle cx="587.2" cy="208.5" r="2.75"/>
<circle cx="601.2" cy="204.8" r="2.75"/>
<circle cx="597.1" cy="189.4" r="2.75"/>
<circle cx="530.7" cy="218.9" r="2.75"/>
<circle cx="596.8" cy="184.3" r="2.75"/>
<circle cx="554.4" cy="229.6" r="2.75"/>
<circle cx="533.2" cy="231.9" r="2.75"/>
<circle cx="604.8" cy="187.9" r="2.75"/>
<circle cx="573.5" cy="199.9" r="2.75"/>
<circle cx="635.6" cy="169.7" r="2.75"/>
<circle cx="640.8" cy="162.8" r="2.75"/>
<circle cx="550.1" cy="209.6" r="2.75"/>
<circle cx="626.7" cy="171.3" r="2.75"/>
<circle cx="602.6" cy="170.9" r="2.75"/>
<circle cx="602" cy="191" r="2.75"/>
<circle cx="575.5" cy="218.1" r="2.75"/>
<circle cx="609.3" cy="206" r="2.75"/>
<circle cx="606.4" cy="185.5" r="2.75"/>
<circle cx="638.5" cy="197.3" r="2.75"/>
<circle cx="530" cy="222.1" r="2.75"/>
<circle cx="543.1" cy="220.5" r="2.75"/>
<circle cx="642.5" cy="178.2" r="2.75"/>
<circle cx="599.2" cy="203.2" r="2.75"/>
<circle cx="585.4" cy="186.4" r="2.75"/>
<circle cx="631.1" cy="161.6" r="2.75"/>
<circle cx="604.8" cy="207.3" r="2.75"/>
<circle cx="607.7" cy="170.6" r="2.75"/>
<circle cx="642.9" cy="159.8" r="2.75"/>
<circle cx="566" cy="178" r="2.75"/>
<circle cx="521.8" cy="228.8" r="2.75"/>
<circle cx="569.5" cy="211.3" r="2.75"/>
<circle cx="602.2" cy="186.4" r="2.75"/>
<circle cx="569.3" cy="195.2" r="2.75"/>
<circle cx="523.2" cy="231.8" r="2.75"/>
<circle cx="514.3" cy="252.1" r="2.75"/>
<circle cx="640.9" cy="178.5" r="2.75"/>
<circle cx="568.6" cy="194.1" r="2.75"/>
<circle cx="649.9" cy="178" r="2.75"/>
<circle cx="554" cy="211.2" r="2.75"/>
<circle cx="590" cy="187.8" r="2.75"/>
<circle cx="606.2" cy="200.9" r="2.75"/>
<circle cx="546.4" cy="190.7" r="2.75"/>
<circle cx="658.4" cy="163.2" r="2.75"/>
<circle cx="549.9" cy="208.5" r="2.75"/>
<circle cx="514" cy="213.6" r="2.75"/>
<circle cx="636.2" cy="167.8" r="2.75"/>
<circle cx="550.7" cy="222.8" r="2.75"/>
<circle cx="530.4" cy="218.2" r="2.75"/>
<circle cx="527.5" cy="221.3" r="2.75"/>
<circle cx="591" cy="182.9" r="2.75"/>
<circle cx="558" cy="205.3" r="2.75"/>
<circle cx="643.2" cy="172.7" r="2.75"/>
<circle cx="554.5" cy="221.3" r="2.75"/>
<circle cx="558.5" cy="224.6" r="2.75"/>
<circle cx="586.1" cy="197.5" r="2.75"/>
<circle cx="540.6" cy="229.7" r="2.75"/>
<circle cx="499.5" cy="234.5" r="2.75"/>
<circle cx="605.2" cy="178.3" r="2.75"/>
<circle cx="611.9" cy="179.2" r="2.75"/>
<circle cx="564.2" cy="222.6" r="2.75"/>
<circle cx="607.4" cy="196.7" r="2.75"/>
<circle cx="598.3" cy="208.7" r="2.75"/>
<circle cx="602.1" cy="183.7" r="2.75"/>
<circle cx="548.1" cy="229.4" r="2.75"/>
<circle cx="589.2" cy="215.2" r="2.75"/>
<circle cx="531.8" cy="220" r="2.75"/>
<circle cx="573.6" cy="202" r="2.75"/>
<circle cx="558" cy="213.6" r="2.75"/>
<circle cx="620.9" cy="183.2" r="2.75"/>
<circle cx="630.7" cy="173.9" r="2.75"/>
<circle cx="561" cy="210.1" r="2.75"/>
<circle cx="608.1" cy="161.5" r="2.75"/>
<circle cx="602.4" cy="194.5" r="2.75"/>
<circle cx="574.6" cy="196.5" r="2.75"/>
<circle cx="567.5" cy="186.3" r="2.75"/>
<circle cx="544.8" cy="211.6" r="2.75"/>
<circle cx="608.5" cy="164.5" r="2.75"/>
<circle cx="561" cy="214" r="2.75"/>
<circle cx="549.2" cy="226.3" r="2.75"/>
<circle cx="534.4" cy="225.5" r="2.75"/>
<circle cx="574.6" cy="199.4" r="2.75"/>
<circle cx="600.7" cy="171.3" r="2.75"/>
<circle cx="581.7" cy="221.5" r="2.75"/>
<circle cx="632.4" cy="164.1" r="2.75"/>
<circle cx="644.3" cy="162.9" r="2.75"/>
<circle cx="573.1" cy="202.2" r="2.75"/>
<circle cx="658.7" cy="159.7" r="2.75"/>
<circle cx="569" cy="226.8" r="2.75"/>
<circle cx="576.3" cy="211.7" r="2.75"/>
<circle cx="630.3" cy="191.5" r="2.75"/>
<circle cx="625.2" cy="160.6" r="2.75"/>
<circle cx="610.3" cy="196.5" r="2.75"/>
<circle cx="628.8" cy="172.5" r="2.75"/>
<circle cx="595" cy="199.7" r="2.75"/>
<circle cx="558.5" cy="224.5" r="2.75"/>
<circle cx="581.9" cy="196" r="2.75"/>
<circle cx="569.9" cy="223.2" r="2.75"/>
<circle cx="564.4" cy="194.5" r="2.75"/>
<circle cx="524.8" cy="210.4" r="2.75"/>
<circle cx="504.1" cy="232.2" r="2.75"/>
<circle cx="655.3" cy="146.5" r="2.75"/>
<circle cx="599.1" cy="200" r="2.75"/>
<circle cx="535.6" cy="211.3" r="2.75"/>
<circle cx="578.7" cy="201.1" r="2.75"/>
<circle cx="567.4" cy="195.1" r="2.75"/>
<circle cx="606.7" cy="184.5" r="2.75"/>
<circle cx="626.9" cy="167.8" r="2.75"/>
<circle cx="560" cy="224.8" r="2.75"/>
<circle cx="599.9" cy="197.5" r="2.75"/>
<circle cx="585" cy="200.8" r="2.75"/>
<circle cx="558.8" cy="230.7" r="2.75"/>
<circle cx="563.5" cy="193.7" r="2.75"/>
<circle cx="533.4" cy="208" r="2.75"/>
<circle cx="610.3" cy="201.1" r="2.75"/>
<circle cx="659.3" cy="160.3" r="2.75"/>
<circle cx="627.6" cy="182.9" r="2.75"/>
<circle cx="551" cy="216.1" r="2.75"/>
<circle cx="526.2" cy="246.9" r="2.75"/>
<circle cx="607.1" cy="176.7" r="2.75"/>
<circle cx="524.1" cy="239.1" r="2.75"/>
<circle cx="624.2" cy="176.3" r="2.75"/>
<circle cx="582.9" cy="195.5" r="2.75"/>
<circle cx="616.6" cy="194.2" r="2.75"/>
<circle cx="555.8" cy="209.2" r="2.75"/>
<circle cx="621.7" cy="186.6" r="2.75"/>
<circle cx="537.4" cy="207.1" r="2.75"/>
<circle cx="680.1" cy="150.1" r="2.75"/>
<circle cx="638.7" cy="172.8" r="2.75"/>
<circle cx="560.4" cy="228.2" r="2.75"/>
<circle cx="521.7" cy="279.1" r="2.75"/>
<circle cx="591.7" cy="212.8" r="2.75"/>
<circle cx="636.4" cy="160.7" r="2.75"/>
<circle cx="668.8" cy="150.7" r="2.75"/>
<circle cx="567.8" cy="204.4" r="2.75"/>
<circle cx="634.1" cy="183.6" r="2.75"/>
<circle cx="575.3" cy="213.3" r="2.75"/>
<circle cx="565.5" cy="215.3" r="2.75"/>
<circle cx="602.8" cy="177.7" r="2.75"/>
<circle cx="579.7" cy="211" r="2.75"/>
<circle cx="626.7" cy="168.9" r="2.75"/>
<circle cx="551.7" cy="247.4" r="2.75"/>
<circle cx="571.3" cy="210.8" r="2.75"/>
<circle cx="556.6" cy="194.9" r="2.75"/>
<circle cx="554.8" cy="210.2" r="2.75"/>
<circle cx="600.4" cy="192.6" r="2.75"/>
<circle cx="603.8" cy="178.6" r="2.75"/>
<circle cx="554.7" cy="229.4" r="2.75"/>
<circle cx="630.8" cy="193.6" r="2.75"/>
<circle cx="604.1" cy="186.2" r="2.75"/>
<circle cx="593" cy="189" r="2.75"/>
<circle cx="641.5" cy="167.5" r="2.75"/>
<circle cx="521.1" cy="228.1" r="2.75"/>
<circle cx="657.3" cy="167.9" r="2.75"/>
<circle cx="635" cy="184.2" r="2.75"/>
<circle cx="653.3" cy="152.4" r="2.75"/>
<circle cx="552.8" cy="212.5" r="2.75"/>
<circle cx="644.7" cy="138.4" r="2.75"/>
<circle cx="611.3" cy="188.3" r="2.75"/>
<circle cx="621.4" cy="181.1" r="2.75"/>
<circle cx="554.4" cy="216.7" r="2.75"/>
<circle cx="566.8" cy="208.1" r="2.75"/>
<circle cx="564" cy="217.9" r="2.75"/>
<circle cx="645.9" cy="169.1" r="2.75"/>
<circle cx="642.9" cy="169.5" r="2.75"/>
<circle cx="572.2" cy="196.2" r="2.75"/>
<circle cx="589.6" cy="190.5" r="2.75"/>
<circle cx="580.8" cy="201.4" r="2.75"/>
<circle cx="608.4" cy="166.2" r="2.75"/>
<circle cx="575.3" cy="206.2" r="2.75"/>
<circle cx="596.3" cy="201.4" r="2.75"/>
<circle cx="530.3" cy="206" r="2.75"/>
<circle cx="624.4" cy="182.3" r="2.75"/>
<circle cx="559.8" cy="208.9" r="2.75"/>
<circle cx="572.3" cy="211.5" r="2.75"/>
<circle cx="632.2" cy="163" r="2.75"/>
<circle cx="575.4" cy="220.9" r="2.75"/>
<circle cx="607.6" cy="175.4" r="2.75"/>
<circle cx="585.9" cy="190" r="2.75"/>
<circle cx="645" cy="169.4" r="2.75"/>
<circle cx="588.7" cy="187.6" r="2.75"/>
<circle cx="616.9" cy="184.5" r="2.75"/>
<circle cx="512.2" cy="217.1" r="2.75"/>
<circle cx="572.6" cy="196.2" r="2.75"/>
<circle cx="581.3" cy="201.1" r="2.75"/>
<circle cx="575.1" cy="193.9" r="2.75"/>
<circle cx="561.5" cy="231.2" r="2.75"/>
<circle cx="513.9" cy="255.2" r="2.75"/>
<circle cx="528.5" cy="230.2" r="2.75"/>
<circle cx="596.1" cy="180" r="2.75"/>
<circle cx="657.2" cy="170" r="2.75"/>
<circle cx="531" cy="229.8" r="2.75"/>
<circle cx="636.4" cy="141.1" r="2.75"/>
<circle cx="582.2" cy="225.8" r="2.75"/>
<circle cx="524.9" cy="235" r="2.75"/>
<circle cx="596" cy="180.6" r="2.75"/>
<circle cx="532.8" cy="223" r="2.75"/>
<circle cx="610.2" cy="167.7" r="2.75"/>
<circle cx="555.5" cy="222.1" r="2.75"/>
<circle cx="646.8" cy="161.5" r="2.75"/>
<circle cx="627.4" cy="163.4" r="2.75"/>
<circle cx="600.8" cy="184.7" r="2.75"/>
<circle cx="663.9" cy="142.9" r="2.75"/>
<circle cx="579.8" cy="231.7" r="2.75"/>
<circle cx="569.9" cy="211.8" r="2.75"/>
<circle cx="669.8" cy="115.9" r="2.75"/>
<circle cx="520.7" cy="240.5" r="2.75"/>
<circle cx="587.8" cy="199" r="2.75"/>
<circle cx="658.2" cy="146.5" r="2.75"/>
<circle cx="555" cy="230.6" r="2.75"/>
<circle cx="585.1" cy="199.9" r="2.75"/>
<circle cx="684.5" cy="147.9" r="2.75"/>
<circle cx="635.9" cy="177" r="2.75"/>
<circle cx="603" cy="200.6" r="2.75"/>
<circle cx="620" cy="171.2" r="2.75"/>
<circle cx="623.3" cy="169.1" r="2.75"/>
<circle cx="596.6" cy="193.2" r="2.75"/>
<circle cx="542.1" cy="242.6" r="2.75"/>
<circle cx="557.5" cy="202.9" r="2.75"/>
<circle cx="599.2" cy="190.2" r="2.75"/>
<circle cx="599.7" cy="184" r="2.75"/>
<circle cx="538.3" cy="233.4" r="2.75"/>
<circle cx="579.5" cy="207.3" r="2.75"/>
<circle cx="563.7" cy="205.7" r="2.75"/>
<circle cx="534.5" cy="240.9" r="2.75"/>
<circle cx="528.1" cy="240.1" r="2.75"/>
<circle cx="568.7" cy="192.3" r="2.75"/>
<circle cx="579.9" cy="215.6" r="2.75"/>
<circle cx="642" cy="148.9" r="2.75"/>
<circle cx="619.2" cy="163.8" r="2.75"/>
<circle cx="602.4" cy="200.2" r="2.75"/>
<circle cx="628.7" cy="170.3" r="2.75"/>
<circle cx="528.5" cy="224.9" r="2.75"/>
<circle cx="655.1" cy="138.2" r="2.75"/>
<circle cx="513" cy="234.8" r="2.75"/>
<circle cx="517.2" cy="243.7" r="2.75"/>
<circle cx="554.9" cy="218.4" r="2.75"/>
<circle cx="661.3" cy="156.1" r="2.75"/>
<circle cx="580.2" cy="189.2" r="2.75"/>
<circle cx="637" cy="184.2" r="2.75"/>
<circle cx="585.3" cy="187.2" r="2.75"/>
<circle cx="630.6" cy="173.4" r="2.75"/>
<circle cx="574" cy="201.7" r="2.75"/>
<circle cx="538.6" cy="222.4" r="2.75"/>
<circle cx="613.2" cy="187.6" r="2.75"/>
<circle cx="656.4" cy="167.3" r="2.75"/>
<circle cx="569.5" cy="210.3" r="2.75"/>
<circle cx="599.1" cy="169.4" r="2.75"/>
<circle cx="583.2" cy="183.1" r="2.75"/>
<circle cx="603.8" cy="212" r="2.75"/>
<circle cx="619.6" cy="158.1" r="2.75"/>
<circle cx="576.3" cy="190.5" r="2.75"/>
<circle cx="521" cy="214.2" r="2.75"/>
<circle cx="611.8" cy="180.6" r="2.75"/>
<circle cx="593.8" cy="191.5" r="2.75"/>
<circle cx="607.3" cy="186.2" r="2.75"/>
<circle cx="542.6" cy="236.5" r="2.75"/>
<circle cx="618.2" cy="173" r="2.75"/>
<circle cx="636.4" cy="158.7" r="2.75"/>
<circle cx="647" cy="160.2" r="2.75"/>
<circle cx="563.1" cy="205.3" r="2.75"/>
<circle cx="555.1" cy="204.4" r="2.75"/>
<circle cx="641" cy="139.9" r="2.75"/>
<circle cx="615.4" cy="179" r="2.75"/>
<circle cx="639.9" cy="184.1" r="2.75"/>
<circle cx="561.8" cy="214.3" r="2.75"/>
<circle cx="594.5" cy="198.1" r="2.75"/>
<circle cx="575.3" cy="182.8" r="2.75"/>
<circle cx="596.5" cy="203.8" r="2.75"/>
<circle cx="595.6" cy="172.1" r="2.75"/>
<circle cx="569.7" cy="218.8" r="2.75"/>
<circle cx="614.9" cy="183.5" r="2.75"/>
<circle cx="576.3" cy="204" r="2.75"/>
<circle cx="531" cy="218.2" r="2.75"/>
<circle cx="567.2" cy="202.7" r="2.75"/>
<circle cx="544.7" cy="240.1" r="2.75"/>
<circle cx="543.1" cy="225.7" r="2.75"/>
<circle cx="630.1" cy="148.7" r="2.75"/>
<circle cx="598.2" cy="193.5" r="2.75"/>
<circle cx="545.1" cy="238.1" r="2.75"/>
<circle cx="666.8" cy="167.6" r="2.75"/>
<circle cx="577.5" cy="202.2" r="2.75"/>
<circle cx="508.7" cy="246.8" r="2.75"/>
<circle cx="651" cy="168.3" r="2.75"/>
<circle cx="658.9" cy="171.6" r="2.75"/>
<circle cx="628.9" cy="183.8" r="2.75"/>
<circle cx="530" cy="235.5" r="2.75"/>
<circle cx="542.6" cy="207.1" r="2.75"/>
<circle cx="657.8" cy="163" r="2.75"/>
<circle cx="564.8" cy="206.1" r="2.75"/>
<circle cx="550.7" cy="201.6" r="2.75"/>
<circle cx="572.3" cy="197.2" r="2.75"/>
<circle cx="605.8" cy="184.7" r="2.75"/>
<circle cx="668.3" cy="144.2" r="2.75"/>
<circle cx="568.6" cy="217.8" r="2.75"/>
<circle cx="521.9" cy="240.9" r="2.75"/>
<circle cx="671.7" cy="152.3" r="2.75"/>
<circle cx="570.8" cy="201" r="2.75"/>
<circle cx="627.7" cy="182.9" r="2.75"/>
<circle cx="555.7" cy="221.8" r="2.75"/>
<circle cx="593.9" cy="206.9" r="2.75"/>
<circle cx="622.8" cy="164.1" r="2.75"/>
<circle cx="536.5" cy="232.8" r="2.75"/>
<circle cx="565" cy="190.6" r="2.75"/>
<circle cx="598.2" cy="196.7" r="2.75"/>
<circle cx="548.6" cy="198.3" r="2.75"/>
<circle cx="587.8" cy="203.3" r="2.75"/>
<circle cx="612.8" cy="188.4" r="2.75"/>
<circle cx="609" cy="190" r="2.75"/>
<circle cx="569.2" cy="213.8" r="2.75"/>
<circle cx="497.4" cy="243.1" r="2.75"/>
<circle cx="617.3" cy="191.1" r="2.75"/>
<circle cx="558.7" cy="231.3" r="2.75"/>
<circle cx="586.5" cy="205.3" r="2.75"/>
<circle cx="577.1" cy="193.4" r="2.75"/>
<circle cx="507.8" cy="246" r="2.75"/>
<circle cx="625.2" cy="183.8" r="2.75"/>
<circle cx="555.3" cy="218.5" r="2.75"/>
<circle cx="580.4" cy="224.7" r="2.75"/>
<circle cx="587.2" cy="197.6" r="2.75"/>
<circle cx="642" cy="173.3" r="2.75"/>
<circle cx="550" cy="228.2" r="2.75"/>
<circle cx="591.2" cy="205.8" r="2.75"/>
<circle cx="603.2" cy="187.1" r="2.75"/>
<circle cx="564.3" cy="209.9" r="2.75"/>
<circle cx="582" cy="190.7" r="2.75"/>
<circle cx="615.3" cy="172.3" r="2.75"/>
<circle cx="586.5" cy="204.7" r="2.75"/>
<circle cx="570.1" cy="204.6" r="2.75"/>
<circle cx="579" cy="206.8" r="2.75"/>
<circle cx="547.1" cy="226.2" r="2.75"/>
<circle cx="569.2" cy="207.8" r="2.75"/>
<circle cx="641.4" cy="168.2" r="2.75"/>
<circle cx="585.9" cy="194.4" r="2.75"/>
<circle cx="605.8" cy="199.6" r="2.75"/>
<circle cx="621" cy="199.6" r="2.75"/>
<circle cx="565.9" cy="211.7" r="2.75"/>
<circle cx="570.2" cy="212.1" r="2.75"/>
<circle cx="620.9" cy="189.8" r="2.75"/>
<circle cx="588.9" cy="195.5" r="2.75"/>
<circle cx="613.6" cy="174.7" r="2.75"/>
<circle cx="643.8" cy="147.5" r="2.75"/>
<circle cx="643.9" cy="159.6" r="2.75"/>
<circle cx="676.1" cy="149.2" r="2.75"/>
<circle cx="580.3" cy="201" r="2.75"/>
<circle cx="618.9" cy="194.3" r="2.75"/>
<circle cx="621.2" cy="166.9" r="2.75"/>
<circle cx="534" cy="229.4" r="2.75"/>
<circle cx="549.7" cy="227.2" r="2.75"/>
<circle cx="597" cy="202.1" r="2.75"/>
<circle cx="543.7" cy="219.4" r="2.75"/>
<circle cx="569.5" cy="196.3" r="2.75"/>
<circle cx="614.1" cy="161.5" r="2.75"/>
<circle cx="638.5" cy="191.3" r="2.75"/>
<circle cx="621.3" cy="179.8" r="2.75"/>
<circle cx="554.7" cy="220.5" r="2.75"/>
<circle cx="551" cy="211.3" r="2.75"/>
<circle cx="546.1" cy="217.3" r="2.75"/>
<circle cx="600" cy="218.8" r="2.75"/>
<circle cx="622.5" cy="173.5" r="2.75"/>
<circle cx="572.8" cy="205.4" r="2.75"/>
<circle cx="594.4" cy="175" r="2.75"/>
<circle cx="624.3" cy="177.1" r="2.75"/>
<circle cx="568.7" cy="209.1" r="2.75"/>
<circle cx="556.6" cy="226.5" r="2.75"/>
<circle cx="592.5" cy="215.9" r="2.75"/>
<circle cx="500.5" cy="253.2" r="2.75"/>
<circle cx="627.8" cy="179.2" r="2.75"/>
<circle cx="632.4" cy="176.8" r="2.75"/>
<circle cx="535.6" cy="229.4" r="2.75"/>
<circle cx="659.9" cy="134.1" r="2.75"/>
<circle cx="533" cy="232.1" r="2.75"/>
<circle cx="614.1" cy="159.8" r="2.75"/>
<circle cx="617.1" cy="164.9" r="2.75"/>
<circle cx="597.3" cy="190.7" r="2.75"/>
<circle cx="575.1" cy="185.8" r="2.75"/>
<circle cx="551.6" cy="225" r="2.75"/>
<circle cx="588.9" cy="221.4" r="2.75"/>
<circle cx="588.9" cy="205.3" r="2.75"/>
<circle cx="567.8" cy="203.8" r="2.75"/>
<circle cx="580.8" cy="180.8" r="2.75"/>
<circle cx="560.4" cy="224" r="2.75"/>
<circle cx="625.3" cy="190.7" r="2.75"/>
<circle cx="604.9" cy="186.7" r="2.75"/>
<circle cx="544.2" cy="202.7" r="2.75"/>
<circle cx="604" cy="188" r="2.75"/>
<circle cx="676" cy="148.8" r="2.75"/>
<circle cx="625.8" cy="159.7" r="2.75"/>
<circle cx="525.7" cy="221.9" r="2.75"/>
<circle cx="600" cy="194.1" r="2.75"/>
<circle cx="635.4" cy="182.5" r="2.75"/>
<circle cx="621" cy="186.8" r="2.75"/>
<circle cx="609.7" cy="172.6" r="2.75"/>
<circle cx="580.3" cy="211" r="2.75"/>
<circle cx="621.1" cy="177" r="2.75"/>
<circle cx="612.3" cy="195.3" r="2.75"/>
<circle cx="569.4" cy="233.5" r="2.75"/>
<circle cx="563.9" cy="226" r="2.75"/>
<circle cx="621.1" cy="184.4" r="2.75"/>
<circle cx="618.1" cy="170.1" r="2.75"/>
<circle cx="553.6" cy="222" r="2.75"/>
<circle cx="557.9" cy="195.1" r="2.75"/>
<circle cx="572.1" cy="194.5" r="2.75"/>
<circle cx="675.7" cy="141.9" r="2.75"/>
<circle cx="573.4" cy="225.5" r="2.75"/>
<circle cx="566.6" cy="221.3" r="2.75"/>
<circle cx="548.2" cy="197.3" r="2.75"/>
<circle cx="592.5" cy="191.7" r="2.75"/>
<circle cx="600.8" cy="229.3" r="2.75"/>
<circle cx="633.5" cy="181" r="2.75"/>
<circle cx="642.9" cy="167.5" r="2.75"/>
<circle cx="601" cy="192.7" r="2.75"/>
<circle cx="687.1" cy="147.4" r="2.75"/>
<circle cx="530.4" cy="226.5" r="2.75"/>
<circle cx="561.4" cy="211.9" r="2.75"/>
<circle cx="640.8" cy="196.6" r="2.75"/>
<circle cx="635.6" cy="155.6" r="2.75"/>
<circle cx="647.3" cy="164.4" r="2.75"/>
<circle cx="657.9" cy="166.4" r="2.75"/>
<circle cx="618.2" cy="168.9" r="2.75"/>
<circle cx="565.6" cy="207.7" r="2.75"/>
<circle cx="566.8" cy="234.5" r="2.75"/>
<circle cx="662.5" cy="159.5" r="2.75"/>
<circle cx="536.4" cy="223.6" r="2.75"/>
<circle cx="634.8" cy="178.1" r="2.75"/>
<circle cx="578.6" cy="214.6" r="2.75"/>
<circle cx="601" cy="206.8" r="2.75"/>
<circle cx="562.2" cy="211.9" r="2.75"/>
<circle cx="542.3" cy="236" r="2.75"/>
<circle cx="559.2" cy="225.3" r="2.75"/>
<circle cx="667.7" cy="137.6" r="2.75"/>
<circle cx="630.8" cy="156.2" r="2.75"/>
<circle cx="553" cy="192.9" r="2.75"/>
<circle cx="584.1" cy="204.8" r="2.75"/>
<circle cx="575.5" cy="206.1" r="2.75"/>
<circle cx="566.3" cy="205.4" r="2.75"/>
<circle cx="566.9" cy="217" r="2.75"/>
<circle cx="560.9" cy="226.3" r="2.75"/>
<circle cx="567.5" cy="223.5" r="2.75"/>
<circle cx="556.9" cy="207.3" r="2.75"/>
<circle cx="624.9" cy="177.1" r="2.75"/>
<circle cx="607.5" cy="183.7" r="2.75"/>
<circle cx="575.8" cy="231.6" r="2.75"/>
<circle cx="581.4" cy="206.3" r="2.75"/>
<circle cx="620.2" cy="185.1" r="2.75"/>
<circle cx="563.3" cy="207.6" r="2.75"/>
<circle cx="639.6" cy="183" r="2.75"/>
<circle cx="634.6" cy="164.3" r="2.75"/>
<circle cx="591.7" cy="205.9" r="2.75"/>
<circle cx="628.7" cy="180.3" r="2.75"/>
<circle cx="557.8" cy="223.3" r="2.75"/>
<circle cx="602.4" cy="190.1" r="2.75"/>
<circle cx="583.7" cy="221.3" r="2.75"/>
<circle cx="650.8" cy="167.1" r="2.75"/>
<circle cx="653.6" cy="156.2" r="2.75"/>
<circle cx="576.7" cy="197.5" r="2.75"/>
<circle cx="591.3" cy="223.3" r="2.75"/>
<circle cx="619.3" cy="185.2" r="2.75"/>
<circle cx="585.5" cy="176.8" r="2.75"/>
<circle cx="578.7" cy="195.5" r="2.75"/>
<circle cx="605.8" cy="188.4" r="2.75"/>
<circle cx="577.2" cy="198.4" r="2.75"/>
<circle cx="544.9" cy="229.4" r="2.75"/>
</g>
<polygon points="444.8,264.1 449.2,262.6 453.6,261 458.1,259.4 462.5,257.8 466.9,256.1 471.3,254.4 475.7,252.6 480.1,250.8 484.5,249 488.9,247.1 493.3,245.2 497.7,243.2 502.1,241.3 506.5,239.2 510.9,237.2 515.3,235.1 519.8,233 524.2,230.8 528.6,228.6 533,226.3 537.4,224 541.8,221.7 546.2,219.4 550.6,217 555,214.6 559.4,212.2 563.8,209.7 568.2,207.3 572.6,204.8 577,202.3 581.5,199.8 585.9,197.2 590.3,194.7 594.7,192.2 599.1,189.7 603.5,187.1 607.9,184.6 612.3,182 616.7,179.4 621.1,176.9 625.5,174.3 629.9,171.8 634.3,169.2 638.7,166.6 643.1,164 647.6,161.4 652,158.8 656.4,156.2 660.8,153.6 665.2,151 669.6,148.4 674,145.7 678.4,143 682.8,140.3 687.2,137.6 691.6,134.8 696,132.1 700.4,129.2 704.8,126.4 704.8,140.6 700.4,142.3 696,144.1 691.6,145.9 687.2,147.7 682.8,149.6 678.4,151.5 674,153.5 669.6,155.5 665.2,157.6 660.8,159.7 656.4,161.8 652,164 647.6,166.3 643.1,168.5 638.7,170.8 634.3,173.2 629.9,175.5 625.5,177.9 621.1,180.4 616.7,182.8 612.3,185.3 607.9,187.8 603.5,190.3 599.1,192.8 594.7,195.3 590.3,197.8 585.9,200.3 581.5,202.9 577,205.4 572.6,207.9 568.2,210.4 563.8,212.9 559.4,215.3 555,217.8 550.6,220.3 546.2,222.8 541.8,225.2 537.4,227.7 533,230.2 528.6,232.7 524.2,235.2 519.8,237.6 515.3,240.2 510.9,242.7 506.5,245.2 502.1,247.8 497.7,250.4 493.3,253 488.9,255.7 484.5,258.4 480.1,261.2 475.7,264 471.3,266.8 466.9,269.7 462.5,272.7 458.1,275.7 453.6,278.8 449.2,281.9 444.8,285.1" fill="#999" fill-opacity="0.4"/>
<line x1="427.9" y1="284.8" x2="721.8" y2="124.2" stroke="#000" stroke-width="1.2" stroke-dasharray="1.5 4 6 4"/>
<polyline points="444.8,274.6 449.2,272.3 453.6,269.9 458.1,267.6 462.5,265.2 466.9,262.9 471.3,260.6 475.7,258.3 480.1,256 484.5,253.7 488.9,251.4 493.3,249.1 497.7,246.8 502.1,244.5 506.5,242.2 510.9,239.9 515.3,237.6 519.8,235.3 524.2,233 528.6,230.6 533,228.3 537.4,225.9 541.8,223.5 546.2,221.1 550.6,218.7 555,216.2 559.4,213.8 563.8,211.3 568.2,208.8 572.6,206.3 577,203.8 581.5,201.3 585.9,198.8 590.3,196.3 594.7,193.7 599.1,191.2 603.5,188.7 607.9,186.2 612.3,183.6 616.7,181.1 621.1,178.6 625.5,176.1 629.9,173.6 634.3,171.2 638.7,168.7 643.1,166.3 647.6,163.8 652,161.4 656.4,159 660.8,156.7 665.2,154.3 669.6,151.9 674,149.6 678.4,147.3 682.8,145 687.2,142.7 691.6,140.4 696,138.1 700.4,135.8 704.8,133.5" fill="none" stroke="#3366FF" stroke-width="2" stroke-dasharray="8 5"/>
</g>
<line x1="427" x2="431" y1="284.8" y2="284.8" stroke="#333" stroke-width="1.1"/>
<text x="423.8" y="289.8" class="tl" text-anchor="end">-15</text>
<line x1="427" x2="431" y1="253.9" y2="253.9" stroke="#333" stroke-width="1.1"/>
<text x="423.8" y="258.9" class="tl" text-anchor="end">-10</text>
<line x1="427" x2="431" y1="223" y2="223" stroke="#333" stroke-width="1.1"/>
<text x="423.8" y="228" class="tl" text-anchor="end">-5</text>
<line x1="427" x2="431" y1="192.2" y2="192.2" stroke="#333" stroke-width="1.1"/>
<text x="423.8" y="197.2" class="tl" text-anchor="end">0</text>
<line x1="427" x2="431" y1="161.3" y2="161.3" stroke="#333" stroke-width="1.1"/>
<text x="423.8" y="166.3" class="tl" text-anchor="end">5</text>
<line x1="427" x2="431" y1="130.4" y2="130.4" stroke="#333" stroke-width="1.1"/>
<text x="423.8" y="135.4" class="tl" text-anchor="end">10</text>
<line x1="427" x2="431" y1="99.5" y2="99.5" stroke="#333" stroke-width="1.1"/>
<text x="423.8" y="104.5" class="tl" text-anchor="end">15</text>
<line y1="291" y2="295" x1="484.4" x2="484.4" stroke="#333" stroke-width="1.1"/>
<text x="484.4" y="307.8" class="tl" text-anchor="middle">-10</text>
<line y1="291" y2="295" x1="540.9" x2="540.9" stroke="#333" stroke-width="1.1"/>
<text x="540.9" y="307.8" class="tl" text-anchor="middle">-5</text>
<line y1="291" y2="295" x1="597.5" x2="597.5" stroke="#333" stroke-width="1.1"/>
<text x="597.5" y="307.8" class="tl" text-anchor="middle">0</text>
<line y1="291" y2="295" x1="654" x2="654" stroke="#333" stroke-width="1.1"/>
<text x="654" y="307.8" class="tl" text-anchor="middle">5</text>
<line y1="291" y2="295" x1="710.5" x2="710.5" stroke="#333" stroke-width="1.1"/>
<text x="710.5" y="307.8" class="tl" text-anchor="middle">10</text>
<text x="431.5" y="88.8" class="tt">Actual vs Fitted values</text>
<text x="574.5" y="326.6" class="at" text-anchor="middle">Fitted</text>
<text transform="translate(397.8 194.5) rotate(-90)" class="at" text-anchor="middle">Actual</text>
<rect x="771" y="98" width="293" height="193" fill="#EBEBEB"/>
<line x1="771" x2="1064" y1="265.1" y2="265.1" stroke="#fff" stroke-width="0.55"/>
<line x1="771" x2="1064" y1="212.9" y2="212.9" stroke="#fff" stroke-width="0.55"/>
<line x1="771" x2="1064" y1="160.7" y2="160.7" stroke="#fff" stroke-width="0.55"/>
<line x1="771" x2="1064" y1="108.5" y2="108.5" stroke="#fff" stroke-width="0.55"/>
<line y1="98" y2="291" x1="795.4" x2="795.4" stroke="#fff" stroke-width="0.55"/>
<line y1="98" y2="291" x1="853.6" x2="853.6" stroke="#fff" stroke-width="0.55"/>
<line y1="98" y2="291" x1="911.8" x2="911.8" stroke="#fff" stroke-width="0.55"/>
<line y1="98" y2="291" x1="970" x2="970" stroke="#fff" stroke-width="0.55"/>
<line y1="98" y2="291" x1="1028.2" x2="1028.2" stroke="#fff" stroke-width="0.55"/>
<line x1="771" x2="1064" y1="239" y2="239" stroke="#fff" stroke-width="1.1"/>
<line x1="771" x2="1064" y1="186.8" y2="186.8" stroke="#fff" stroke-width="1.1"/>
<line x1="771" x2="1064" y1="134.6" y2="134.6" stroke="#fff" stroke-width="1.1"/>
<line y1="98" y2="291" x1="824.5" x2="824.5" stroke="#fff" stroke-width="1.1"/>
<line y1="98" y2="291" x1="882.7" x2="882.7" stroke="#fff" stroke-width="1.1"/>
<line y1="98" y2="291" x1="940.9" x2="940.9" stroke="#fff" stroke-width="1.1"/>
<line y1="98" y2="291" x1="999.1" x2="999.1" stroke="#fff" stroke-width="1.1"/>
<line y1="98" y2="291" x1="1057.3" x2="1057.3" stroke="#fff" stroke-width="1.1"/>
<g clip-path="url(#c2)">
<g fill="#000" fill-opacity="0.45" stroke="#000" stroke-opacity="0.45" stroke-width="0.7">
<circle cx="783.8" cy="176.1" r="2.75"/>
<circle cx="1051.5" cy="130.7" r="2.75"/>
<circle cx="1051.5" cy="207.7" r="2.75"/>
<circle cx="937.8" cy="219.7" r="2.75"/>
<circle cx="907.8" cy="158.7" r="2.75"/>
<circle cx="952.4" cy="171.4" r="2.75"/>
<circle cx="992.8" cy="184.6" r="2.75"/>
<circle cx="955.1" cy="171.3" r="2.75"/>
<circle cx="977.3" cy="152.6" r="2.75"/>
<circle cx="929" cy="183.6" r="2.75"/>
<circle cx="925.3" cy="178.8" r="2.75"/>
<circle cx="976.7" cy="182.5" r="2.75"/>
<circle cx="1048.6" cy="167.4" r="2.75"/>
<circle cx="922.5" cy="249.7" r="2.75"/>
<circle cx="890" cy="151" r="2.75"/>
<circle cx="964.4" cy="187" r="2.75"/>
<circle cx="988.7" cy="201.3" r="2.75"/>
<circle cx="860.5" cy="143.3" r="2.75"/>
<circle cx="910.4" cy="206.4" r="2.75"/>
<circle cx="1011.2" cy="155.2" r="2.75"/>
<circle cx="986.4" cy="161.4" r="2.75"/>
<circle cx="956" cy="197.2" r="2.75"/>
<circle cx="936.1" cy="175.2" r="2.75"/>
<circle cx="906" cy="263" r="2.75"/>
<circle cx="927.1" cy="142.5" r="2.75"/>
<circle cx="994.8" cy="160.9" r="2.75"/>
<circle cx="1014.6" cy="209.4" r="2.75"/>
<circle cx="971.7" cy="210.3" r="2.75"/>
<circle cx="958.1" cy="206.9" r="2.75"/>
<circle cx="989.2" cy="181.4" r="2.75"/>
<circle cx="932.7" cy="195.7" r="2.75"/>
<circle cx="951.8" cy="191.7" r="2.75"/>
<circle cx="969.3" cy="128.8" r="2.75"/>
<circle cx="969.5" cy="152.8" r="2.75"/>
<circle cx="989.3" cy="168.2" r="2.75"/>
<circle cx="970.6" cy="197" r="2.75"/>
<circle cx="903.3" cy="199.3" r="2.75"/>
<circle cx="919.5" cy="178.8" r="2.75"/>
<circle cx="924.9" cy="182.8" r="2.75"/>
<circle cx="862.8" cy="180.4" r="2.75"/>
<circle cx="946.4" cy="184.9" r="2.75"/>
<circle cx="892.4" cy="184" r="2.75"/>
<circle cx="1019.2" cy="138.7" r="2.75"/>
<circle cx="922.4" cy="177.6" r="2.75"/>
<circle cx="987.2" cy="164.4" r="2.75"/>
<circle cx="929.6" cy="187.7" r="2.75"/>
<circle cx="857.9" cy="198.8" r="2.75"/>
<circle cx="979.9" cy="213.3" r="2.75"/>
<circle cx="928.1" cy="211.6" r="2.75"/>
<circle cx="929" cy="208.6" r="2.75"/>
<circle cx="918.6" cy="192.8" r="2.75"/>
<circle cx="887.2" cy="210.8" r="2.75"/>
<circle cx="894.2" cy="189.9" r="2.75"/>
<circle cx="923.5" cy="149.4" r="2.75"/>
<circle cx="947.8" cy="155.6" r="2.75"/>
<circle cx="984.5" cy="173.6" r="2.75"/>
<circle cx="1007.2" cy="171.3" r="2.75"/>
<circle cx="877.8" cy="207" r="2.75"/>
<circle cx="987.3" cy="171.6" r="2.75"/>
<circle cx="878.6" cy="171.5" r="2.75"/>
<circle cx="907.2" cy="227.6" r="2.75"/>
<circle cx="971.3" cy="216.8" r="2.75"/>
<circle cx="944.8" cy="167.7" r="2.75"/>
<circle cx="951" cy="164.7" r="2.75"/>
<circle cx="945.4" cy="201.5" r="2.75"/>
<circle cx="937.8" cy="177.8" r="2.75"/>
<circle cx="938.1" cy="176.8" r="2.75"/>
<circle cx="992.9" cy="204.8" r="2.75"/>
<circle cx="946.7" cy="181.1" r="2.75"/>
<circle cx="947.2" cy="189.8" r="2.75"/>
<circle cx="921" cy="212.9" r="2.75"/>
<circle cx="956.1" cy="156.9" r="2.75"/>
<circle cx="888.8" cy="193.2" r="2.75"/>
<circle cx="917" cy="198.7" r="2.75"/>
<circle cx="926" cy="203.1" r="2.75"/>
<circle cx="966.4" cy="170.6" r="2.75"/>
<circle cx="882.1" cy="200.9" r="2.75"/>
<circle cx="892.9" cy="220.1" r="2.75"/>
<circle cx="985.9" cy="177.7" r="2.75"/>
<circle cx="913.9" cy="188" r="2.75"/>
<circle cx="893.6" cy="199.8" r="2.75"/>
<circle cx="1013.2" cy="181.5" r="2.75"/>
<circle cx="951.8" cy="205.3" r="2.75"/>
<circle cx="972.6" cy="163.5" r="2.75"/>
<circle cx="958.4" cy="176.3" r="2.75"/>
<circle cx="998" cy="167.5" r="2.75"/>
<circle cx="861.5" cy="159.1" r="2.75"/>
<circle cx="888.2" cy="210.2" r="2.75"/>
<circle cx="957.7" cy="166.3" r="2.75"/>
<circle cx="990.5" cy="176.6" r="2.75"/>
<circle cx="1032.2" cy="195.4" r="2.75"/>
<circle cx="1010.9" cy="215.7" r="2.75"/>
<circle cx="891.6" cy="202" r="2.75"/>
<circle cx="932.8" cy="147.3" r="2.75"/>
<circle cx="876" cy="197.9" r="2.75"/>
<circle cx="868.5" cy="170.3" r="2.75"/>
<circle cx="935.5" cy="174.9" r="2.75"/>
<circle cx="874" cy="216.3" r="2.75"/>
<circle cx="998.4" cy="185.6" r="2.75"/>
<circle cx="1007.1" cy="208.4" r="2.75"/>
<circle cx="962.7" cy="177.6" r="2.75"/>
<circle cx="891.9" cy="178" r="2.75"/>
<circle cx="926.8" cy="185.5" r="2.75"/>
<circle cx="988.9" cy="211.4" r="2.75"/>
<circle cx="915" cy="197.2" r="2.75"/>
<circle cx="894.1" cy="191.5" r="2.75"/>
<circle cx="978.6" cy="160.1" r="2.75"/>
<circle cx="981.8" cy="170.4" r="2.75"/>
<circle cx="941.1" cy="193.9" r="2.75"/>
<circle cx="946.9" cy="195.5" r="2.75"/>
<circle cx="853.1" cy="159.6" r="2.75"/>
<circle cx="925.9" cy="209.7" r="2.75"/>
<circle cx="866.1" cy="232.7" r="2.75"/>
<circle cx="933.9" cy="173.1" r="2.75"/>
<circle cx="978.8" cy="202.9" r="2.75"/>
<circle cx="950" cy="213.5" r="2.75"/>
<circle cx="897.2" cy="213.1" r="2.75"/>
<circle cx="960.9" cy="151.1" r="2.75"/>
<circle cx="978.9" cy="207.8" r="2.75"/>
<circle cx="903.6" cy="156.2" r="2.75"/>
<circle cx="957.6" cy="215.4" r="2.75"/>
<circle cx="921" cy="204.4" r="2.75"/>
<circle cx="898.2" cy="200.2" r="2.75"/>
<circle cx="951.6" cy="175" r="2.75"/>
<circle cx="849.1" cy="189.6" r="2.75"/>
<circle cx="919.7" cy="142.6" r="2.75"/>
<circle cx="915.8" cy="143.1" r="2.75"/>
<circle cx="895.4" cy="210.2" r="2.75"/>
<circle cx="964.4" cy="175.2" r="2.75"/>
<circle cx="923.6" cy="179.1" r="2.75"/>
<circle cx="992" cy="151.3" r="2.75"/>
<circle cx="900.5" cy="200.1" r="2.75"/>
<circle cx="917.8" cy="158.5" r="2.75"/>
<circle cx="921.7" cy="212.9" r="2.75"/>
<circle cx="961.2" cy="248.7" r="2.75"/>
<circle cx="977.5" cy="228" r="2.75"/>
<circle cx="907.1" cy="213.5" r="2.75"/>
<circle cx="916.8" cy="185.1" r="2.75"/>
<circle cx="1002.1" cy="202.9" r="2.75"/>
<circle cx="1011.1" cy="166.1" r="2.75"/>
<circle cx="928.8" cy="204.8" r="2.75"/>
<circle cx="925.5" cy="216.8" r="2.75"/>
<circle cx="897.1" cy="185.3" r="2.75"/>
<circle cx="957.8" cy="190.2" r="2.75"/>
<circle cx="975.2" cy="201" r="2.75"/>
<circle cx="933.5" cy="221" r="2.75"/>
<circle cx="932.8" cy="229.1" r="2.75"/>
<circle cx="932.7" cy="177.9" r="2.75"/>
<circle cx="899.1" cy="206.5" r="2.75"/>
<circle cx="947.6" cy="200.2" r="2.75"/>
<circle cx="882.5" cy="173.9" r="2.75"/>
<circle cx="992.9" cy="245.4" r="2.75"/>
<circle cx="933" cy="184.9" r="2.75"/>
<circle cx="885.9" cy="209.2" r="2.75"/>
<circle cx="902.3" cy="177.9" r="2.75"/>
<circle cx="998.8" cy="181.7" r="2.75"/>
<circle cx="923.4" cy="177.1" r="2.75"/>
<circle cx="962.2" cy="194.3" r="2.75"/>
<circle cx="918.4" cy="222.1" r="2.75"/>
<circle cx="914.9" cy="198.6" r="2.75"/>
<circle cx="915.3" cy="128.9" r="2.75"/>
<circle cx="962.6" cy="207.6" r="2.75"/>
<circle cx="950.2" cy="109.2" r="2.75"/>
<circle cx="979.8" cy="132.6" r="2.75"/>
<circle cx="954.1" cy="152.7" r="2.75"/>
<circle cx="937.1" cy="189.3" r="2.75"/>
<circle cx="920.5" cy="190" r="2.75"/>
<circle cx="870.9" cy="190.3" r="2.75"/>
<circle cx="955.5" cy="148.4" r="2.75"/>
<circle cx="895.2" cy="196.5" r="2.75"/>
<circle cx="976.1" cy="202.2" r="2.75"/>
<circle cx="914.4" cy="149.4" r="2.75"/>
<circle cx="894.2" cy="233.3" r="2.75"/>
<circle cx="986.4" cy="179.3" r="2.75"/>
<circle cx="902.2" cy="187.5" r="2.75"/>
<circle cx="920.4" cy="174.1" r="2.75"/>
<circle cx="976.6" cy="185.3" r="2.75"/>
<circle cx="986.4" cy="217.4" r="2.75"/>
<circle cx="920.8" cy="214.5" r="2.75"/>
<circle cx="875.9" cy="217.1" r="2.75"/>
<circle cx="1007.1" cy="186.2" r="2.75"/>
<circle cx="901.9" cy="232.9" r="2.75"/>
<circle cx="894.6" cy="188.5" r="2.75"/>
<circle cx="857.5" cy="233.8" r="2.75"/>
<circle cx="928.4" cy="183.7" r="2.75"/>
<circle cx="883.9" cy="118.4" r="2.75"/>
<circle cx="1015.6" cy="175.4" r="2.75"/>
<circle cx="900.4" cy="204.3" r="2.75"/>
<circle cx="882.2" cy="207.6" r="2.75"/>
<circle cx="953.3" cy="173.4" r="2.75"/>
<circle cx="918.4" cy="160.2" r="2.75"/>
<circle cx="1014.3" cy="255.7" r="2.75"/>
<circle cx="901.7" cy="170" r="2.75"/>
<circle cx="881.1" cy="228.9" r="2.75"/>
<circle cx="981.7" cy="175.5" r="2.75"/>
<circle cx="965.8" cy="185.5" r="2.75"/>
<circle cx="979.3" cy="182.9" r="2.75"/>
<circle cx="902.1" cy="226.8" r="2.75"/>
<circle cx="932.6" cy="223.4" r="2.75"/>
<circle cx="884.7" cy="169.9" r="2.75"/>
<circle cx="942.5" cy="205.8" r="2.75"/>
<circle cx="997.1" cy="173.8" r="2.75"/>
<circle cx="967.8" cy="157.2" r="2.75"/>
<circle cx="898.7" cy="222" r="2.75"/>
<circle cx="893" cy="254.2" r="2.75"/>
<circle cx="931.2" cy="181.5" r="2.75"/>
<circle cx="873.2" cy="202.8" r="2.75"/>
<circle cx="952" cy="202.7" r="2.75"/>
<circle cx="910.2" cy="178.7" r="2.75"/>
<circle cx="1031.1" cy="144.5" r="2.75"/>
<circle cx="942.9" cy="183.2" r="2.75"/>
<circle cx="951.7" cy="184.7" r="2.75"/>
<circle cx="928.5" cy="169.4" r="2.75"/>
<circle cx="920.3" cy="162.4" r="2.75"/>
<circle cx="999.2" cy="169.8" r="2.75"/>
<circle cx="984.9" cy="182.3" r="2.75"/>
<circle cx="946.2" cy="235.4" r="2.75"/>
<circle cx="958" cy="178.1" r="2.75"/>
<circle cx="960.6" cy="153" r="2.75"/>
<circle cx="946.1" cy="134.1" r="2.75"/>
<circle cx="947.1" cy="188.5" r="2.75"/>
<circle cx="929" cy="196.1" r="2.75"/>
<circle cx="938" cy="162.7" r="2.75"/>
<circle cx="880.5" cy="175.8" r="2.75"/>
<circle cx="913.2" cy="215.4" r="2.75"/>
<circle cx="919.3" cy="183.4" r="2.75"/>
<circle cx="909.6" cy="145.6" r="2.75"/>
<circle cx="960.1" cy="138.8" r="2.75"/>
<circle cx="905.3" cy="149.5" r="2.75"/>
<circle cx="868.1" cy="212.6" r="2.75"/>
<circle cx="935.6" cy="233" r="2.75"/>
<circle cx="1004.4" cy="199.6" r="2.75"/>
<circle cx="963.2" cy="153.7" r="2.75"/>
<circle cx="884.1" cy="163.3" r="2.75"/>
<circle cx="986.8" cy="232.5" r="2.75"/>
<circle cx="948.5" cy="149.5" r="2.75"/>
<circle cx="938.8" cy="181.6" r="2.75"/>
<circle cx="903.1" cy="186.3" r="2.75"/>
<circle cx="939.9" cy="189.7" r="2.75"/>
<circle cx="976.6" cy="214.4" r="2.75"/>
<circle cx="950.9" cy="168.8" r="2.75"/>
<circle cx="944.1" cy="171.6" r="2.75"/>
<circle cx="877.7" cy="162.5" r="2.75"/>
<circle cx="975.1" cy="204.4" r="2.75"/>
<circle cx="924.4" cy="129" r="2.75"/>
<circle cx="1007.7" cy="205.7" r="2.75"/>
<circle cx="999.9" cy="183.7" r="2.75"/>
<circle cx="940.2" cy="203.4" r="2.75"/>
<circle cx="889.8" cy="154.3" r="2.75"/>
<circle cx="867.6" cy="272.3" r="2.75"/>
<circle cx="949.1" cy="166" r="2.75"/>
<circle cx="969.9" cy="205.4" r="2.75"/>
<circle cx="914" cy="125.4" r="2.75"/>
<circle cx="870.1" cy="193.2" r="2.75"/>
<circle cx="962.2" cy="202.4" r="2.75"/>
<circle cx="885.7" cy="169.1" r="2.75"/>
<circle cx="868.6" cy="192.7" r="2.75"/>
<circle cx="920" cy="200.2" r="2.75"/>
<circle cx="959.1" cy="186.5" r="2.75"/>
<circle cx="927.8" cy="170.1" r="2.75"/>
<circle cx="1014.8" cy="216" r="2.75"/>
<circle cx="981.2" cy="190.5" r="2.75"/>
<circle cx="907.3" cy="200.9" r="2.75"/>
<circle cx="939.1" cy="240.3" r="2.75"/>
<circle cx="972" cy="181.9" r="2.75"/>
<circle cx="931.2" cy="181.7" r="2.75"/>
<circle cx="870.3" cy="215.6" r="2.75"/>
<circle cx="883" cy="141.6" r="2.75"/>
<circle cx="915.3" cy="183.2" r="2.75"/>
<circle cx="831.7" cy="211.3" r="2.75"/>
<circle cx="932.2" cy="171.6" r="2.75"/>
<circle cx="921.4" cy="173.2" r="2.75"/>
<circle cx="901.5" cy="140" r="2.75"/>
<circle cx="937.1" cy="167.6" r="2.75"/>
<circle cx="994.6" cy="150.3" r="2.75"/>
<circle cx="893.4" cy="177.7" r="2.75"/>
<circle cx="919.8" cy="197" r="2.75"/>
<circle cx="907.3" cy="163.9" r="2.75"/>
<circle cx="871.1" cy="269.3" r="2.75"/>
<circle cx="855" cy="210.3" r="2.75"/>
<circle cx="959.2" cy="220.6" r="2.75"/>
<circle cx="896.6" cy="160.5" r="2.75"/>
<circle cx="907.2" cy="187.8" r="2.75"/>
<circle cx="983" cy="169.2" r="2.75"/>
<circle cx="985.1" cy="179.2" r="2.75"/>
<circle cx="926.9" cy="214.2" r="2.75"/>
<circle cx="929.1" cy="181.6" r="2.75"/>
<circle cx="998.4" cy="162.4" r="2.75"/>
<circle cx="880.7" cy="155" r="2.75"/>
<circle cx="987.4" cy="188.4" r="2.75"/>
<circle cx="949.1" cy="187.2" r="2.75"/>
<circle cx="943.1" cy="189" r="2.75"/>
<circle cx="870" cy="216.1" r="2.75"/>
<circle cx="979.6" cy="165.7" r="2.75"/>
<circle cx="977" cy="208.5" r="2.75"/>
<circle cx="926" cy="189" r="2.75"/>
<circle cx="941.5" cy="181.2" r="2.75"/>
<circle cx="976" cy="212.9" r="2.75"/>
<circle cx="952.4" cy="181.2" r="2.75"/>
<circle cx="968.5" cy="167.6" r="2.75"/>
<circle cx="934.1" cy="218.1" r="2.75"/>
<circle cx="929" cy="188.5" r="2.75"/>
<circle cx="942.2" cy="172.8" r="2.75"/>
<circle cx="974.4" cy="196.9" r="2.75"/>
<circle cx="981.6" cy="222.4" r="2.75"/>
<circle cx="930" cy="160.4" r="2.75"/>
<circle cx="886.8" cy="179.9" r="2.75"/>
<circle cx="907.5" cy="167.9" r="2.75"/>
<circle cx="988.6" cy="188.9" r="2.75"/>
<circle cx="986.1" cy="219.4" r="2.75"/>
<circle cx="884.5" cy="191.7" r="2.75"/>
<circle cx="881" cy="158.4" r="2.75"/>
<circle cx="881.2" cy="124.6" r="2.75"/>
<circle cx="954.8" cy="175.3" r="2.75"/>
<circle cx="933.5" cy="243.1" r="2.75"/>
<circle cx="1015.4" cy="146.7" r="2.75"/>
<circle cx="899.6" cy="151" r="2.75"/>
<circle cx="887.6" cy="121.8" r="2.75"/>
<circle cx="970.4" cy="186.3" r="2.75"/>
<circle cx="897.6" cy="187.5" r="2.75"/>
<circle cx="933.6" cy="199.5" r="2.75"/>
<circle cx="948.9" cy="219.6" r="2.75"/>
<circle cx="984.6" cy="214.2" r="2.75"/>
<circle cx="889" cy="164.8" r="2.75"/>
<circle cx="989.4" cy="216.9" r="2.75"/>
<circle cx="960.4" cy="157.3" r="2.75"/>
<circle cx="905" cy="177.1" r="2.75"/>
<circle cx="994.3" cy="178.6" r="2.75"/>
<circle cx="955.2" cy="215.1" r="2.75"/>
<circle cx="882.4" cy="181.5" r="2.75"/>
<circle cx="906.9" cy="172.3" r="2.75"/>
<circle cx="912.1" cy="196.1" r="2.75"/>
<circle cx="883.6" cy="203.6" r="2.75"/>
<circle cx="861.6" cy="194.5" r="2.75"/>
<circle cx="986.8" cy="218.5" r="2.75"/>
<circle cx="947.5" cy="151.5" r="2.75"/>
<circle cx="880.8" cy="197.8" r="2.75"/>
<circle cx="981.3" cy="129.3" r="2.75"/>
<circle cx="937.8" cy="214.1" r="2.75"/>
<circle cx="924.5" cy="253" r="2.75"/>
<circle cx="935.2" cy="139.5" r="2.75"/>
<circle cx="975" cy="185.5" r="2.75"/>
<circle cx="914" cy="121.6" r="2.75"/>
<circle cx="919.8" cy="213.5" r="2.75"/>
<circle cx="921" cy="200.2" r="2.75"/>
<circle cx="907.2" cy="174.7" r="2.75"/>
<circle cx="969.2" cy="157.7" r="2.75"/>
<circle cx="966.3" cy="144.9" r="2.75"/>
<circle cx="959.3" cy="196.3" r="2.75"/>
<circle cx="906" cy="194.9" r="2.75"/>
<circle cx="906" cy="142.3" r="2.75"/>
<circle cx="955.1" cy="169.1" r="2.75"/>
<circle cx="971.1" cy="176.7" r="2.75"/>
<circle cx="888.2" cy="148.6" r="2.75"/>
<circle cx="933" cy="200.2" r="2.75"/>
<circle cx="923.2" cy="203.8" r="2.75"/>
<circle cx="914.2" cy="161.5" r="2.75"/>
<circle cx="912.9" cy="173.3" r="2.75"/>
<circle cx="986.4" cy="129.3" r="2.75"/>
<circle cx="867.1" cy="214.2" r="2.75"/>
<circle cx="934.4" cy="142.6" r="2.75"/>
<circle cx="955.6" cy="176.6" r="2.75"/>
<circle cx="942.4" cy="192.3" r="2.75"/>
<circle cx="1035.6" cy="189.7" r="2.75"/>
<circle cx="931.8" cy="200" r="2.75"/>
<circle cx="993.9" cy="182.8" r="2.75"/>
<circle cx="1035.7" cy="215.3" r="2.75"/>
<circle cx="915.7" cy="221.6" r="2.75"/>
<circle cx="909.6" cy="161.9" r="2.75"/>
<circle cx="898.2" cy="181.3" r="2.75"/>
<circle cx="894.8" cy="220.6" r="2.75"/>
<circle cx="922.6" cy="183.5" r="2.75"/>
<circle cx="884.9" cy="170.2" r="2.75"/>
<circle cx="868" cy="192.2" r="2.75"/>
<circle cx="977.8" cy="239.6" r="2.75"/>
<circle cx="899.1" cy="187.6" r="2.75"/>
<circle cx="959" cy="194.5" r="2.75"/>
<circle cx="991" cy="235.9" r="2.75"/>
<circle cx="894.5" cy="241.6" r="2.75"/>
<circle cx="949.9" cy="204.1" r="2.75"/>
<circle cx="917.2" cy="158.7" r="2.75"/>
<circle cx="976.2" cy="183.2" r="2.75"/>
<circle cx="946.6" cy="165.1" r="2.75"/>
<circle cx="900.7" cy="175.9" r="2.75"/>
<circle cx="875.2" cy="167.9" r="2.75"/>
<circle cx="970.8" cy="169.7" r="2.75"/>
<circle cx="904" cy="229.5" r="2.75"/>
<circle cx="832.7" cy="155.2" r="2.75"/>
<circle cx="842.5" cy="194.9" r="2.75"/>
<circle cx="923.2" cy="156" r="2.75"/>
<circle cx="999.9" cy="193.6" r="2.75"/>
<circle cx="950" cy="196.6" r="2.75"/>
<circle cx="917.8" cy="181.4" r="2.75"/>
<circle cx="911.5" cy="204.3" r="2.75"/>
<circle cx="915.1" cy="194" r="2.75"/>
<circle cx="907.4" cy="186.4" r="2.75"/>
<circle cx="929.5" cy="187" r="2.75"/>
<circle cx="908.5" cy="194.3" r="2.75"/>
<circle cx="880.8" cy="200.2" r="2.75"/>
<circle cx="908.6" cy="163.7" r="2.75"/>
<circle cx="983.2" cy="174.6" r="2.75"/>
<circle cx="928.9" cy="162.9" r="2.75"/>
<circle cx="919.9" cy="143.2" r="2.75"/>
<circle cx="946.1" cy="161.1" r="2.75"/>
<circle cx="924.6" cy="158.8" r="2.75"/>
<circle cx="993.8" cy="224.5" r="2.75"/>
<circle cx="863.2" cy="185.6" r="2.75"/>
<circle cx="958.7" cy="156.5" r="2.75"/>
<circle cx="881.7" cy="150.2" r="2.75"/>
<circle cx="928.8" cy="217" r="2.75"/>
<circle cx="958.1" cy="176.1" r="2.75"/>
<circle cx="894.4" cy="192" r="2.75"/>
<circle cx="942.9" cy="189.7" r="2.75"/>
<circle cx="888" cy="232" r="2.75"/>
<circle cx="978" cy="194.6" r="2.75"/>
<circle cx="911.2" cy="181.7" r="2.75"/>
<circle cx="960.7" cy="208.7" r="2.75"/>
<circle cx="968.7" cy="197.3" r="2.75"/>
<circle cx="910.7" cy="193.1" r="2.75"/>
<circle cx="859.6" cy="155.2" r="2.75"/>
<circle cx="969.6" cy="161.1" r="2.75"/>
<circle cx="958.8" cy="147.4" r="2.75"/>
<circle cx="916.4" cy="212.9" r="2.75"/>
<circle cx="981.8" cy="199.6" r="2.75"/>
<circle cx="967.4" cy="206.4" r="2.75"/>
<circle cx="968.7" cy="177.1" r="2.75"/>
<circle cx="995.7" cy="177" r="2.75"/>
<circle cx="964.9" cy="139.8" r="2.75"/>
<circle cx="868.6" cy="206.2" r="2.75"/>
<circle cx="920.9" cy="167.8" r="2.75"/>
<circle cx="1040.7" cy="187.2" r="2.75"/>
<circle cx="942.9" cy="210.9" r="2.75"/>
<circle cx="905.7" cy="172.1" r="2.75"/>
<circle cx="896.7" cy="173.3" r="2.75"/>
<circle cx="995.1" cy="186" r="2.75"/>
<circle cx="922.7" cy="191.4" r="2.75"/>
<circle cx="962.5" cy="176.9" r="2.75"/>
<circle cx="981.7" cy="194.6" r="2.75"/>
<circle cx="856.5" cy="204.2" r="2.75"/>
<circle cx="920.7" cy="159.2" r="2.75"/>
<circle cx="972.3" cy="175.5" r="2.75"/>
<circle cx="953.8" cy="160.3" r="2.75"/>
<circle cx="950.9" cy="168.6" r="2.75"/>
<circle cx="910.1" cy="217.8" r="2.75"/>
<circle cx="955.8" cy="187" r="2.75"/>
<circle cx="989.3" cy="160.4" r="2.75"/>
<circle cx="963.1" cy="206.9" r="2.75"/>
<circle cx="922.8" cy="175.2" r="2.75"/>
<circle cx="965.1" cy="170.7" r="2.75"/>
<circle cx="916.9" cy="204.5" r="2.75"/>
<circle cx="904.8" cy="195.4" r="2.75"/>
<circle cx="915.6" cy="156.3" r="2.75"/>
<circle cx="950.7" cy="176" r="2.75"/>
<circle cx="1008.5" cy="203.4" r="2.75"/>
<circle cx="883.6" cy="194" r="2.75"/>
<circle cx="949.2" cy="198.1" r="2.75"/>
<circle cx="938.1" cy="195.6" r="2.75"/>
<circle cx="916.2" cy="204.8" r="2.75"/>
<circle cx="922.5" cy="248.9" r="2.75"/>
<circle cx="973.7" cy="174.1" r="2.75"/>
<circle cx="960.6" cy="194.4" r="2.75"/>
<circle cx="897.1" cy="141.2" r="2.75"/>
<circle cx="877.3" cy="208.8" r="2.75"/>
<circle cx="917.4" cy="174.7" r="2.75"/>
<circle cx="1009" cy="156.5" r="2.75"/>
<circle cx="913" cy="213.7" r="2.75"/>
<circle cx="928.3" cy="193.6" r="2.75"/>
<circle cx="890.7" cy="226.9" r="2.75"/>
<circle cx="916.9" cy="164.8" r="2.75"/>
<circle cx="990.3" cy="171.1" r="2.75"/>
<circle cx="898.3" cy="217.8" r="2.75"/>
<circle cx="893.2" cy="179.1" r="2.75"/>
<circle cx="1009.3" cy="153" r="2.75"/>
<circle cx="984.7" cy="191.5" r="2.75"/>
<circle cx="948.3" cy="161.5" r="2.75"/>
<circle cx="946" cy="182.5" r="2.75"/>
<circle cx="1000.9" cy="197.5" r="2.75"/>
<circle cx="914.7" cy="143.9" r="2.75"/>
<circle cx="937.3" cy="136.3" r="2.75"/>
<circle cx="991.3" cy="173" r="2.75"/>
<circle cx="941.5" cy="217" r="2.75"/>
<circle cx="872.9" cy="154.2" r="2.75"/>
<circle cx="875.1" cy="133" r="2.75"/>
<circle cx="972.5" cy="230.4" r="2.75"/>
<circle cx="899.8" cy="185.7" r="2.75"/>
<circle cx="954.1" cy="191.5" r="2.75"/>
<circle cx="948.4" cy="176.9" r="2.75"/>
<circle cx="940.2" cy="175.9" r="2.75"/>
<circle cx="904.6" cy="177.8" r="2.75"/>
<circle cx="1011" cy="207.6" r="2.75"/>
<circle cx="950.9" cy="158.7" r="2.75"/>
<circle cx="952.6" cy="194" r="2.75"/>
<circle cx="948.5" cy="195.3" r="2.75"/>
<circle cx="855.2" cy="192.9" r="2.75"/>
<circle cx="946.7" cy="182.6" r="2.75"/>
<circle cx="876.7" cy="163" r="2.75"/>
<circle cx="886.1" cy="183.5" r="2.75"/>
<circle cx="891.8" cy="174.9" r="2.75"/>
<circle cx="976.6" cy="175.7" r="2.75"/>
<circle cx="971.1" cy="169.7" r="2.75"/>
<circle cx="934.5" cy="198.6" r="2.75"/>
<circle cx="958.5" cy="130.7" r="2.75"/>
<circle cx="952.2" cy="195.4" r="2.75"/>
<circle cx="980.3" cy="190.8" r="2.75"/>
<circle cx="933.3" cy="177.3" r="2.75"/>
<circle cx="919.5" cy="167" r="2.75"/>
<circle cx="843.6" cy="208.4" r="2.75"/>
<circle cx="940.2" cy="203.4" r="2.75"/>
<circle cx="906.3" cy="237" r="2.75"/>
<circle cx="939.6" cy="201" r="2.75"/>
<circle cx="986.2" cy="224.7" r="2.75"/>
<circle cx="872.2" cy="190.5" r="2.75"/>
<circle cx="919.6" cy="208.4" r="2.75"/>
<circle cx="920.8" cy="151.4" r="2.75"/>
<circle cx="914.1" cy="158.6" r="2.75"/>
<circle cx="968.6" cy="159.4" r="2.75"/>
<circle cx="973.5" cy="106" r="2.75"/>
<circle cx="948" cy="182.6" r="2.75"/>
<circle cx="932.8" cy="186.5" r="2.75"/>
<circle cx="927.6" cy="218" r="2.75"/>
<circle cx="896.7" cy="242.4" r="2.75"/>
<circle cx="927.7" cy="196" r="2.75"/>
<circle cx="913.5" cy="163.7" r="2.75"/>
<circle cx="962" cy="178.2" r="2.75"/>
<circle cx="1001" cy="219.2" r="2.75"/>
<circle cx="946.4" cy="212.6" r="2.75"/>
<circle cx="891.9" cy="180.7" r="2.75"/>
<circle cx="892.5" cy="236.7" r="2.75"/>
<circle cx="996" cy="197.6" r="2.75"/>
<circle cx="991.8" cy="180.5" r="2.75"/>
<circle cx="965.4" cy="191.6" r="2.75"/>
<circle cx="931.5" cy="185.4" r="2.75"/>
<circle cx="929.5" cy="167.2" r="2.75"/>
<circle cx="936.9" cy="198.2" r="2.75"/>
<circle cx="978.7" cy="184.7" r="2.75"/>
<circle cx="886.8" cy="235.3" r="2.75"/>
<circle cx="986.7" cy="204.6" r="2.75"/>
<circle cx="920.3" cy="188" r="2.75"/>
<circle cx="930.3" cy="209.5" r="2.75"/>
<circle cx="944.8" cy="217.8" r="2.75"/>
<circle cx="940.6" cy="180.5" r="2.75"/>
<circle cx="872.2" cy="166.3" r="2.75"/>
<circle cx="940.2" cy="169.4" r="2.75"/>
<circle cx="896.5" cy="216.2" r="2.75"/>
<circle cx="874.8" cy="196.7" r="2.75"/>
<circle cx="948.5" cy="186.3" r="2.75"/>
<circle cx="916.3" cy="175.7" r="2.75"/>
<circle cx="980.2" cy="183.4" r="2.75"/>
<circle cx="985.6" cy="174.8" r="2.75"/>
<circle cx="892.1" cy="168.9" r="2.75"/>
<circle cx="971" cy="176.6" r="2.75"/>
<circle cx="946.2" cy="147.8" r="2.75"/>
<circle cx="945.5" cy="189.6" r="2.75"/>
<circle cx="918.3" cy="216.4" r="2.75"/>
<circle cx="953.1" cy="229.7" r="2.75"/>
<circle cx="950.2" cy="183.1" r="2.75"/>
<circle cx="983.2" cy="245.2" r="2.75"/>
<circle cx="871.4" cy="172.1" r="2.75"/>
<circle cx="884.9" cy="183.9" r="2.75"/>
<circle cx="987.3" cy="209.4" r="2.75"/>
<circle cx="942.7" cy="212.2" r="2.75"/>
<circle cx="928.5" cy="160.7" r="2.75"/>
<circle cx="975.6" cy="161.2" r="2.75"/>
<circle cx="948.4" cy="227.2" r="2.75"/>
<circle cx="951.4" cy="153" r="2.75"/>
<circle cx="987.7" cy="171" r="2.75"/>
<circle cx="908.5" cy="120.6" r="2.75"/>
<circle cx="863" cy="177" r="2.75"/>
<circle cx="912.1" cy="194.9" r="2.75"/>
<circle cx="945.7" cy="180.1" r="2.75"/>
<circle cx="911.9" cy="160.8" r="2.75"/>
<circle cx="864.4" cy="184.8" r="2.75"/>
<circle cx="855.3" cy="217.4" r="2.75"/>
<circle cx="985.7" cy="208.1" r="2.75"/>
<circle cx="911.1" cy="157.5" r="2.75"/>
<circle cx="994.9" cy="217.4" r="2.75"/>
<circle cx="896.2" cy="176.8" r="2.75"/>
<circle cx="933.3" cy="169.1" r="2.75"/>
<circle cx="949.9" cy="215.4" r="2.75"/>
<circle cx="888.4" cy="124.8" r="2.75"/>
<circle cx="1003.6" cy="196.1" r="2.75"/>
<circle cx="891.9" cy="166.4" r="2.75"/>
<circle cx="855" cy="135.7" r="2.75"/>
<circle cx="980.8" cy="180" r="2.75"/>
<circle cx="892.7" cy="197.6" r="2.75"/>
<circle cx="871.9" cy="164.4" r="2.75"/>
<circle cx="868.9" cy="167.6" r="2.75"/>
<circle cx="934.3" cy="159.8" r="2.75"/>
<circle cx="900.3" cy="169" r="2.75"/>
<circle cx="988" cy="198.4" r="2.75"/>
<circle cx="896.7" cy="198.8" r="2.75"/>
<circle cx="900.8" cy="210.4" r="2.75"/>
<circle cx="929.2" cy="185" r="2.75"/>
<circle cx="882.4" cy="200.6" r="2.75"/>
<circle cx="840.1" cy="163.3" r="2.75"/>
<circle cx="948.9" cy="166.5" r="2.75"/>
<circle cx="955.7" cy="176.1" r="2.75"/>
<circle cx="906.7" cy="212.8" r="2.75"/>
<circle cx="951.2" cy="207.9" r="2.75"/>
<circle cx="941.8" cy="222.9" r="2.75"/>
<circle cx="945.7" cy="174.3" r="2.75"/>
<circle cx="890.1" cy="208.5" r="2.75"/>
<circle cx="932.4" cy="225.9" r="2.75"/>
<circle cx="873.3" cy="169.7" r="2.75"/>
<circle cx="916.4" cy="180" r="2.75"/>
<circle cx="900.3" cy="186.5" r="2.75"/>
<circle cx="965.1" cy="195" r="2.75"/>
<circle cx="975.2" cy="186.6" r="2.75"/>
<circle cx="903.4" cy="182.7" r="2.75"/>
<circle cx="951.8" cy="134.2" r="2.75"/>
<circle cx="946" cy="197.5" r="2.75"/>
<circle cx="917.4" cy="169.6" r="2.75"/>
<circle cx="910.1" cy="139.8" r="2.75"/>
<circle cx="886.7" cy="167.2" r="2.75"/>
<circle cx="952.2" cy="141.1" r="2.75"/>
<circle cx="903.3" cy="190.8" r="2.75"/>
<circle cx="891.3" cy="203.3" r="2.75"/>
<circle cx="876" cy="184.5" r="2.75"/>
<circle cx="917.4" cy="175.7" r="2.75"/>
<circle cx="944.3" cy="146.6" r="2.75"/>
<circle cx="924.6" cy="230.7" r="2.75"/>
<circle cx="976.9" cy="168" r="2.75"/>
<circle cx="989.2" cy="179.1" r="2.75"/>
<circle cx="915.8" cy="179.9" r="2.75"/>
<circle cx="1004" cy="189" r="2.75"/>
<circle cx="911.6" cy="227.2" r="2.75"/>
<circle cx="919.1" cy="203.6" r="2.75"/>
<circle cx="974.7" cy="223.3" r="2.75"/>
<circle cx="969.5" cy="152.2" r="2.75"/>
<circle cx="954.2" cy="210.9" r="2.75"/>
<circle cx="973.1" cy="181.5" r="2.75"/>
<circle cx="938.3" cy="199.8" r="2.75"/>
<circle cx="900.8" cy="210.2" r="2.75"/>
<circle cx="924.9" cy="177.1" r="2.75"/>
<circle cx="912.5" cy="220.6" r="2.75"/>
<circle cx="906.8" cy="153.6" r="2.75"/>
<circle cx="866" cy="141.4" r="2.75"/>
<circle cx="844.7" cy="163.6" r="2.75"/>
<circle cx="1000.5" cy="157.2" r="2.75"/>
<circle cx="942.6" cy="205.2" r="2.75"/>
<circle cx="877.2" cy="155.9" r="2.75"/>
<circle cx="921.6" cy="184.2" r="2.75"/>
<circle cx="910" cy="158.4" r="2.75"/>
<circle cx="950.4" cy="181.2" r="2.75"/>
<circle cx="971.2" cy="169.3" r="2.75"/>
<circle cx="902.3" cy="212.5" r="2.75"/>
<circle cx="943.4" cy="201" r="2.75"/>
<circle cx="928.1" cy="190.7" r="2.75"/>
<circle cx="901.1" cy="223.6" r="2.75"/>
<circle cx="905.9" cy="150.8" r="2.75"/>
<circle cx="875" cy="146.4" r="2.75"/>
<circle cx="954.1" cy="220.5" r="2.75"/>
<circle cx="1004.5" cy="190.9" r="2.75"/>
<circle cx="971.9" cy="202.1" r="2.75"/>
<circle cx="893.1" cy="183.8" r="2.75"/>
<circle cx="867.6" cy="220.3" r="2.75"/>
<circle cx="950.9" cy="165.3" r="2.75"/>
<circle cx="865.4" cy="201.4" r="2.75"/>
<circle cx="968.5" cy="184.3" r="2.75"/>
<circle cx="925.9" cy="177" r="2.75"/>
<circle cx="960.6" cy="213.2" r="2.75"/>
<circle cx="898" cy="174.7" r="2.75"/>
<circle cx="965.9" cy="203" r="2.75"/>
<circle cx="879.1" cy="149.2" r="2.75"/>
<circle cx="1026" cy="193.5" r="2.75"/>
<circle cx="983.3" cy="193.6" r="2.75"/>
<circle cx="902.7" cy="220.2" r="2.75"/>
<circle cx="862.9" cy="283.1" r="2.75"/>
<circle cx="935" cy="223.9" r="2.75"/>
<circle cx="981" cy="165.3" r="2.75"/>
<circle cx="1014.4" cy="181.7" r="2.75"/>
<circle cx="910.4" cy="178.5" r="2.75"/>
<circle cx="978.7" cy="211.1" r="2.75"/>
<circle cx="918.1" cy="206" r="2.75"/>
<circle cx="908" cy="198.8" r="2.75"/>
<circle cx="946.4" cy="162.5" r="2.75"/>
<circle cx="922.6" cy="206.2" r="2.75"/>
<circle cx="971.1" cy="171.4" r="2.75"/>
<circle cx="893.8" cy="250.7" r="2.75"/>
<circle cx="914" cy="196.1" r="2.75"/>
<circle cx="898.8" cy="145.5" r="2.75"/>
<circle cx="897" cy="175.7" r="2.75"/>
<circle cx="943.9" cy="191.1" r="2.75"/>
<circle cx="947.4" cy="165.5" r="2.75"/>
<circle cx="896.9" cy="216.1" r="2.75"/>
<circle cx="975.3" cy="228.4" r="2.75"/>
<circle cx="947.8" cy="181.9" r="2.75"/>
<circle cx="936.3" cy="175.1" r="2.75"/>
<circle cx="986.3" cy="185.6" r="2.75"/>
<circle cx="862.3" cy="174.5" r="2.75"/>
<circle cx="1002.6" cy="204.7" r="2.75"/>
<circle cx="979.6" cy="213.3" r="2.75"/>
<circle cx="998.4" cy="167.2" r="2.75"/>
<circle cx="894.9" cy="178.3" r="2.75"/>
<circle cx="989.5" cy="127.8" r="2.75"/>
<circle cx="955.1" cy="194.6" r="2.75"/>
<circle cx="965.6" cy="191.2" r="2.75"/>
<circle cx="896.6" cy="189" r="2.75"/>
<circle cx="909.3" cy="185.2" r="2.75"/>
<circle cx="906.5" cy="202.6" r="2.75"/>
<circle cx="990.8" cy="194" r="2.75"/>
<circle cx="987.7" cy="191.5" r="2.75"/>
<circle cx="914.9" cy="166.3" r="2.75"/>
<circle cx="932.8" cy="174.4" r="2.75"/>
<circle cx="923.8" cy="187.1" r="2.75"/>
<circle cx="952.1" cy="144.6" r="2.75"/>
<circle cx="918.1" cy="190.8" r="2.75"/>
<circle cx="939.7" cy="205.1" r="2.75"/>
<circle cx="871.8" cy="138.5" r="2.75"/>
<circle cx="968.6" cy="197.1" r="2.75"/>
<circle cx="902.2" cy="178.7" r="2.75"/>
<circle cx="915" cy="198.6" r="2.75"/>
<circle cx="976.7" cy="165.3" r="2.75"/>
<circle cx="918.2" cy="222.1" r="2.75"/>
<circle cx="951.4" cy="163.2" r="2.75"/>
<circle cx="929" cy="169" r="2.75"/>
<circle cx="989.9" cy="193.6" r="2.75"/>
<circle cx="931.9" cy="167.1" r="2.75"/>
<circle cx="960.9" cy="193" r="2.75"/>
<circle cx="853.1" cy="141.2" r="2.75"/>
<circle cx="915.3" cy="166.7" r="2.75"/>
<circle cx="924.3" cy="187" r="2.75"/>
<circle cx="917.9" cy="164.7" r="2.75"/>
<circle cx="903.9" cy="227.8" r="2.75"/>
<circle cx="854.8" cy="223.6" r="2.75"/>
<circle cx="869.9" cy="187.6" r="2.75"/>
<circle cx="939.5" cy="159.5" r="2.75"/>
<circle cx="1002.4" cy="209" r="2.75"/>
<circle cx="872.4" cy="189.5" r="2.75"/>
<circle cx="981" cy="124" r="2.75"/>
<circle cx="925.2" cy="240.2" r="2.75"/>
<circle cx="866.2" cy="193.6" r="2.75"/>
<circle cx="939.4" cy="160.7" r="2.75"/>
<circle cx="874.4" cy="177.5" r="2.75"/>
<circle cx="954" cy="149.8" r="2.75"/>
<circle cx="897.8" cy="201.8" r="2.75"/>
<circle cx="991.7" cy="179" r="2.75"/>
<circle cx="971.7" cy="160.7" r="2.75"/>
<circle cx="944.4" cy="175" r="2.75"/>
<circle cx="1009.3" cy="159.3" r="2.75"/>
<circle cx="922.7" cy="249.9" r="2.75"/>
<circle cx="912.5" cy="196.5" r="2.75"/>
<circle cx="1015.4" cy="109.2" r="2.75"/>
<circle cx="861.9" cy="200.3" r="2.75"/>
<circle cx="930.9" cy="190.1" r="2.75"/>
<circle cx="1003.5" cy="160.4" r="2.75"/>
<circle cx="897.2" cy="218.9" r="2.75"/>
<circle cx="928.2" cy="189" r="2.75"/>
<circle cx="1030.5" cy="193.9" r="2.75"/>
<circle cx="980.5" cy="199.1" r="2.75"/>
<circle cx="946.6" cy="211.1" r="2.75"/>
<circle cx="964.1" cy="168.6" r="2.75"/>
<circle cx="967.5" cy="168.1" r="2.75"/>
<circle cx="940.1" cy="188.1" r="2.75"/>
<circle cx="883.9" cy="229.4" r="2.75"/>
<circle cx="899.8" cy="163.4" r="2.75"/>
<circle cx="942.7" cy="184.8" r="2.75"/>
<circle cx="943.3" cy="172.2" r="2.75"/>
<circle cx="880" cy="205.7" r="2.75"/>
<circle cx="922.5" cy="198.1" r="2.75"/>
<circle cx="906.1" cy="176.4" r="2.75"/>
<circle cx="876.1" cy="217.1" r="2.75"/>
<circle cx="869.5" cy="208.2" r="2.75"/>
<circle cx="911.3" cy="153.8" r="2.75"/>
<circle cx="922.8" cy="216.2" r="2.75"/>
<circle cx="986.8" cy="146.8" r="2.75"/>
<circle cx="963.3" cy="152" r="2.75"/>
<circle cx="946" cy="209.5" r="2.75"/>
<circle cx="973.1" cy="176.8" r="2.75"/>
<circle cx="869.9" cy="176.4" r="2.75"/>
<circle cx="1000.2" cy="139.3" r="2.75"/>
<circle cx="854" cy="179.4" r="2.75"/>
<circle cx="858.3" cy="203.2" r="2.75"/>
<circle cx="897.1" cy="193.1" r="2.75"/>
<circle cx="1006.6" cy="184.4" r="2.75"/>
<circle cx="923.1" cy="160.6" r="2.75"/>
<circle cx="981.7" cy="215.7" r="2.75"/>
<circle cx="928.4" cy="162.5" r="2.75"/>
<circle cx="975" cy="185.4" r="2.75"/>
<circle cx="916.8" cy="179.9" r="2.75"/>
<circle cx="880.3" cy="182.8" r="2.75"/>
<circle cx="957.1" cy="195.4" r="2.75"/>
<circle cx="1001.6" cy="202.3" r="2.75"/>
<circle cx="912.1" cy="192.8" r="2.75"/>
<circle cx="942.6" cy="140.6" r="2.75"/>
<circle cx="926.3" cy="151.2" r="2.75"/>
<circle cx="947.4" cy="236" r="2.75"/>
<circle cx="963.7" cy="140.5" r="2.75"/>
<circle cx="919.2" cy="159" r="2.75"/>
<circle cx="862.2" cy="145.2" r="2.75"/>
<circle cx="955.7" cy="178.9" r="2.75"/>
<circle cx="937.1" cy="181.1" r="2.75"/>
<circle cx="951.1" cy="185.6" r="2.75"/>
<circle cx="884.4" cy="217.1" r="2.75"/>
<circle cx="962.2" cy="170.2" r="2.75"/>
<circle cx="981" cy="161.2" r="2.75"/>
<circle cx="991.9" cy="176.6" r="2.75"/>
<circle cx="905.5" cy="175" r="2.75"/>
<circle cx="897.3" cy="163.7" r="2.75"/>
<circle cx="985.8" cy="126.6" r="2.75"/>
<circle cx="959.4" cy="179.7" r="2.75"/>
<circle cx="984.7" cy="218.8" r="2.75"/>
<circle cx="904.2" cy="192.4" r="2.75"/>
<circle cx="937.9" cy="195.9" r="2.75"/>
<circle cx="918.1" cy="141.4" r="2.75"/>
<circle cx="940" cy="210.5" r="2.75"/>
<circle cx="939" cy="142.3" r="2.75"/>
<circle cx="912.3" cy="211.1" r="2.75"/>
<circle cx="958.8" cy="188.5" r="2.75"/>
<circle cx="919.1" cy="187.5" r="2.75"/>
<circle cx="872.5" cy="165.2" r="2.75"/>
<circle cx="909.8" cy="174.3" r="2.75"/>
<circle cx="886.6" cy="227.2" r="2.75"/>
<circle cx="885" cy="194.9" r="2.75"/>
<circle cx="974.5" cy="132.5" r="2.75"/>
<circle cx="941.7" cy="190.5" r="2.75"/>
<circle cx="887" cy="223.4" r="2.75"/>
<circle cx="1012.3" cy="215.1" r="2.75"/>
<circle cx="920.3" cy="184.9" r="2.75"/>
<circle cx="849.5" cy="199.8" r="2.75"/>
<circle cx="996" cy="198.3" r="2.75"/>
<circle cx="1004.2" cy="214.3" r="2.75"/>
<circle cx="973.2" cy="205.3" r="2.75"/>
<circle cx="871.5" cy="200.5" r="2.75"/>
<circle cx="884.4" cy="155" r="2.75"/>
<circle cx="1003.1" cy="195" r="2.75"/>
<circle cx="907.3" cy="178.6" r="2.75"/>
<circle cx="892.7" cy="152.8" r="2.75"/>
<circle cx="915" cy="168.4" r="2.75"/>
<circle cx="949.5" cy="180.6" r="2.75"/>
<circle cx="1013.8" cy="167.3" r="2.75"/>
<circle cx="911.2" cy="207.6" r="2.75"/>
<circle cx="863.1" cy="202.6" r="2.75"/>
<circle cx="1017.4" cy="188.4" r="2.75"/>
<circle cx="913.5" cy="174.7" r="2.75"/>
<circle cx="972" cy="202.2" r="2.75"/>
<circle cx="897.9" cy="201.2" r="2.75"/>
<circle cx="937.2" cy="213.8" r="2.75"/>
<circle cx="967" cy="156.9" r="2.75"/>
<circle cx="878.1" cy="202.2" r="2.75"/>
<circle cx="907.5" cy="146.1" r="2.75"/>
<circle cx="941.7" cy="197.2" r="2.75"/>
<circle cx="890.6" cy="143.3" r="2.75"/>
<circle cx="931" cy="199.2" r="2.75"/>
<circle cx="956.7" cy="196.7" r="2.75"/>
<circle cx="952.8" cy="195.6" r="2.75"/>
<circle cx="911.8" cy="199.8" r="2.75"/>
<circle cx="837.9" cy="178.9" r="2.75"/>
<circle cx="961.3" cy="207.5" r="2.75"/>
<circle cx="901" cy="224.8" r="2.75"/>
<circle cx="929.6" cy="201.9" r="2.75"/>
<circle cx="920" cy="166" r="2.75"/>
<circle cx="848.6" cy="197.2" r="2.75"/>
<circle cx="969.5" cy="201.2" r="2.75"/>
<circle cx="897.5" cy="193.8" r="2.75"/>
<circle cx="923.3" cy="235.9" r="2.75"/>
<circle cx="930.4" cy="186.6" r="2.75"/>
<circle cx="986.8" cy="198.4" r="2.75"/>
<circle cx="892.1" cy="208.3" r="2.75"/>
<circle cx="934.4" cy="208.3" r="2.75"/>
<circle cx="946.8" cy="182.6" r="2.75"/>
<circle cx="906.8" cy="185.9" r="2.75"/>
<circle cx="925" cy="166" r="2.75"/>
<circle cx="959.3" cy="165.6" r="2.75"/>
<circle cx="929.7" cy="200.7" r="2.75"/>
<circle cx="912.7" cy="181.5" r="2.75"/>
<circle cx="922" cy="196.5" r="2.75"/>
<circle cx="889.1" cy="200.6" r="2.75"/>
<circle cx="911.8" cy="187.1" r="2.75"/>
<circle cx="986.1" cy="186.8" r="2.75"/>
<circle cx="929" cy="178.2" r="2.75"/>
<circle cx="949.5" cy="212.3" r="2.75"/>
<circle cx="965.2" cy="229.8" r="2.75"/>
<circle cx="908.4" cy="191.6" r="2.75"/>
<circle cx="912.9" cy="197.5" r="2.75"/>
<circle cx="965.1" cy="208.9" r="2.75"/>
<circle cx="932.1" cy="184" r="2.75"/>
<circle cx="957.6" cy="168.6" r="2.75"/>
<circle cx="988.6" cy="146" r="2.75"/>
<circle cx="988.7" cy="171.7" r="2.75"/>
<circle cx="1021.9" cy="186.8" r="2.75"/>
<circle cx="923.2" cy="185.7" r="2.75"/>
<circle cx="963" cy="216" r="2.75"/>
<circle cx="965.3" cy="160.8" r="2.75"/>
<circle cx="875.6" cy="192.2" r="2.75"/>
<circle cx="891.8" cy="205.8" r="2.75"/>
<circle cx="940.5" cy="207.3" r="2.75"/>
<circle cx="885.6" cy="182.3" r="2.75"/>
<circle cx="912.1" cy="163.3" r="2.75"/>
<circle cx="958" cy="141.3" r="2.75"/>
<circle cx="983.1" cy="232.3" r="2.75"/>
<circle cx="965.5" cy="188.2" r="2.75"/>
<circle cx="896.9" cy="197.4" r="2.75"/>
<circle cx="893" cy="173.7" r="2.75"/>
<circle cx="888.1" cy="180.8" r="2.75"/>
<circle cx="943.5" cy="246" r="2.75"/>
<circle cx="966.7" cy="176.4" r="2.75"/>
<circle cx="915.5" cy="186.3" r="2.75"/>
<circle cx="937.8" cy="147" r="2.75"/>
<circle cx="968.5" cy="186" r="2.75"/>
<circle cx="911.3" cy="189.5" r="2.75"/>
<circle cx="898.9" cy="212.2" r="2.75"/>
<circle cx="935.8" cy="231.1" r="2.75"/>
<circle cx="841.1" cy="203.8" r="2.75"/>
<circle cx="972.2" cy="194.6" r="2.75"/>
<circle cx="976.9" cy="194.7" r="2.75"/>
<circle cx="877.2" cy="194.1" r="2.75"/>
<circle cx="1005.2" cy="136.3" r="2.75"/>
<circle cx="874.5" cy="196.8" r="2.75"/>
<circle cx="958.1" cy="137.7" r="2.75"/>
<circle cx="961.2" cy="152" r="2.75"/>
<circle cx="940.7" cy="183.6" r="2.75"/>
<circle cx="917.9" cy="147.6" r="2.75"/>
<circle cx="893.7" cy="203.3" r="2.75"/>
<circle cx="932.1" cy="238.7" r="2.75"/>
<circle cx="932.1" cy="204.7" r="2.75"/>
<circle cx="910.4" cy="177.3" r="2.75"/>
<circle cx="923.7" cy="143.5" r="2.75"/>
<circle cx="902.8" cy="211.3" r="2.75"/>
<circle cx="969.5" cy="215.7" r="2.75"/>
<circle cx="948.6" cy="183.9" r="2.75"/>
<circle cx="886" cy="147.7" r="2.75"/>
<circle cx="947.6" cy="185.5" r="2.75"/>
<circle cx="1021.8" cy="185.9" r="2.75"/>
<circle cx="970.1" cy="150.9" r="2.75"/>
<circle cx="867" cy="166.9" r="2.75"/>
<circle cx="943.6" cy="193.8" r="2.75"/>
<circle cx="980" cy="210.1" r="2.75"/>
<circle cx="965.1" cy="202.7" r="2.75"/>
<circle cx="953.5" cy="159.6" r="2.75"/>
<circle cx="923.3" cy="206.9" r="2.75"/>
<circle cx="965.2" cy="182" r="2.75"/>
<circle cx="956.2" cy="210.6" r="2.75"/>
<circle cx="912" cy="241.9" r="2.75"/>
<circle cx="906.3" cy="219.6" r="2.75"/>
<circle cx="965.2" cy="197.7" r="2.75"/>
<circle cx="962.2" cy="164.1" r="2.75"/>
<circle cx="895.7" cy="199.3" r="2.75"/>
<circle cx="900.2" cy="147.4" r="2.75"/>
<circle cx="914.8" cy="162.6" r="2.75"/>
<circle cx="1021.4" cy="170.9" r="2.75"/>
<circle cx="916.2" cy="229.4" r="2.75"/>
<circle cx="909.1" cy="212.7" r="2.75"/>
<circle cx="890.2" cy="140.8" r="2.75"/>
<circle cx="935.8" cy="180.2" r="2.75"/>
<circle cx="944.4" cy="269.3" r="2.75"/>
<circle cx="978" cy="204.9" r="2.75"/>
<circle cx="987.7" cy="187.3" r="2.75"/>
<circle cx="944.6" cy="192.1" r="2.75"/>
<circle cx="1033.2" cy="195.8" r="2.75"/>
<circle cx="871.9" cy="181.9" r="2.75"/>
<circle cx="903.8" cy="186.9" r="2.75"/>
<circle cx="985.5" cy="246.3" r="2.75"/>
<circle cx="980.2" cy="153.7" r="2.75"/>
<circle cx="992.2" cy="185.7" r="2.75"/>
<circle cx="1003.1" cy="202.1" r="2.75"/>
<circle cx="962.3" cy="161.6" r="2.75"/>
<circle cx="908.1" cy="182.9" r="2.75"/>
<circle cx="909.3" cy="240.9" r="2.75"/>
<circle cx="1007.9" cy="192.9" r="2.75"/>
<circle cx="878" cy="182.7" r="2.75"/>
<circle cx="979.4" cy="200.2" r="2.75"/>
<circle cx="921.5" cy="212.5" r="2.75"/>
<circle cx="944.6" cy="221.9" r="2.75"/>
<circle cx="904.6" cy="187.8" r="2.75"/>
<circle cx="884.1" cy="215.7" r="2.75"/>
<circle cx="901.5" cy="212.7" r="2.75"/>
<circle cx="1013.2" cy="152.7" r="2.75"/>
<circle cx="975.2" cy="149.2" r="2.75"/>
<circle cx="895.2" cy="137.2" r="2.75"/>
<circle cx="927.1" cy="198.1" r="2.75"/>
<circle cx="918.3" cy="190.9" r="2.75"/>
<circle cx="908.8" cy="178.9" r="2.75"/>
<circle cx="909.5" cy="204" r="2.75"/>
<circle cx="903.3" cy="216.9" r="2.75"/>
<circle cx="910" cy="218.5" r="2.75"/>
<circle cx="899.1" cy="171.9" r="2.75"/>
<circle cx="969.2" cy="186.8" r="2.75"/>
<circle cx="951.2" cy="180.5" r="2.75"/>
<circle cx="918.6" cy="245.1" r="2.75"/>
<circle cx="924.3" cy="198.1" r="2.75"/>
<circle cx="964.4" cy="198.3" r="2.75"/>
<circle cx="905.8" cy="180.1" r="2.75"/>
<circle cx="984.3" cy="216.1" r="2.75"/>
<circle cx="979.1" cy="170.8" r="2.75"/>
<circle cx="934.9" cy="209.2" r="2.75"/>
<circle cx="973" cy="197.8" r="2.75"/>
<circle cx="900.1" cy="206.9" r="2.75"/>
<circle cx="946" cy="188.1" r="2.75"/>
<circle cx="926.7" cy="232.6" r="2.75"/>
<circle cx="995.8" cy="195.4" r="2.75"/>
<circle cx="998.7" cy="175.7" r="2.75"/>
<circle cx="919.5" cy="174.1" r="2.75"/>
<circle cx="934.5" cy="245.4" r="2.75"/>
<circle cx="963.4" cy="197.3" r="2.75"/>
<circle cx="928.6" cy="140.6" r="2.75"/>
<circle cx="921.6" cy="172.3" r="2.75"/>
<circle cx="949.5" cy="188.5" r="2.75"/>
<circle cx="920.1" cy="176.7" r="2.75"/>
<circle cx="886.8" cy="204.9" r="2.75"/>
</g>
<polygon points="783.8,164.6 788.3,166.4 792.8,168.1 797.4,169.6 801.9,171.1 806.4,172.4 811,173.6 815.5,174.8 820.1,175.8 824.6,176.8 829.1,177.6 833.7,178.4 838.2,179.1 842.7,179.7 847.3,180.2 851.8,180.7 856.4,181.1 860.9,181.5 865.4,181.8 870,182.1 874.5,182.3 879.1,182.4 883.6,182.6 888.1,182.7 892.7,182.8 897.2,182.8 901.7,182.9 906.3,182.9 910.8,182.9 915.4,182.9 919.9,182.9 924.4,182.9 929,182.9 933.5,182.9 938,182.9 942.6,182.8 947.1,182.8 951.7,182.7 956.2,182.7 960.7,182.6 965.3,182.5 969.8,182.3 974.3,182.2 978.9,182 983.4,181.8 988,181.6 992.5,181.3 997,181 1001.6,180.6 1006.1,180.2 1010.6,179.8 1015.2,179.3 1019.7,178.6 1024.3,177.8 1028.8,176.9 1033.3,175.8 1037.9,174.5 1042.4,173.1 1046.9,171.6 1051.5,169.8 1051.5,193.3 1046.9,193.3 1042.4,193.1 1037.9,193 1033.3,192.8 1028.8,192.6 1024.3,192.3 1019.7,192 1015.2,191.6 1010.6,191.2 1006.1,190.7 1001.6,190.4 997,190 992.5,189.7 988,189.4 983.4,189.2 978.9,189 974.3,188.8 969.8,188.6 965.3,188.5 960.7,188.4 956.2,188.3 951.7,188.3 947.1,188.2 942.6,188.2 938,188.1 933.5,188.1 929,188.1 924.4,188.1 919.9,188.1 915.4,188.1 910.8,188.1 906.3,188.1 901.7,188.1 897.2,188.2 892.7,188.2 888.1,188.3 883.6,188.4 879.1,188.5 874.5,188.7 870,188.9 865.4,189.2 860.9,189.5 856.4,189.9 851.8,190.3 847.3,190.8 842.7,191.3 838.2,191.9 833.7,192.6 829.1,193.4 824.6,194.2 820.1,195.2 815.5,196.2 811,197.3 806.4,198.6 801.9,199.9 797.4,201.3 792.8,202.9 788.3,204.6 783.8,206.4" fill="#999" fill-opacity="0.4"/>
<line x1="783.8" y1="186.8" x2="1051.5" y2="186.8" stroke="#000" stroke-width="2" stroke-dasharray="1.5 4 6 4"/>
<polyline points="783.8,185.5 788.3,185.5 792.8,185.5 797.4,185.5 801.9,185.5 806.4,185.5 811,185.5 815.5,185.5 820.1,185.5 824.6,185.5 829.1,185.5 833.7,185.5 838.2,185.5 842.7,185.5 847.3,185.5 851.8,185.5 856.4,185.5 860.9,185.5 865.4,185.5 870,185.5 874.5,185.5 879.1,185.5 883.6,185.5 888.1,185.5 892.7,185.5 897.2,185.5 901.7,185.5 906.3,185.5 910.8,185.5 915.4,185.5 919.9,185.5 924.4,185.5 929,185.5 933.5,185.5 938,185.5 942.6,185.5 947.1,185.5 951.7,185.5 956.2,185.5 960.7,185.5 965.3,185.5 969.8,185.5 974.3,185.5 978.9,185.5 983.4,185.5 988,185.5 992.5,185.5 997,185.5 1001.6,185.5 1006.1,185.5 1010.6,185.5 1015.2,185.4 1019.7,185.3 1024.3,185.1 1028.8,184.7 1033.3,184.3 1037.9,183.8 1042.4,183.1 1046.9,182.4 1051.5,181.6" fill="none" stroke="#3366FF" stroke-width="2" stroke-dasharray="8 5"/>
</g>
<line x1="767" x2="771" y1="239" y2="239" stroke="#333" stroke-width="1.1"/>
<text x="763.8" y="244" class="tl" text-anchor="end">-4</text>
<line x1="767" x2="771" y1="186.8" y2="186.8" stroke="#333" stroke-width="1.1"/>
<text x="763.8" y="191.8" class="tl" text-anchor="end">0</text>
<line x1="767" x2="771" y1="134.6" y2="134.6" stroke="#333" stroke-width="1.1"/>
<text x="763.8" y="139.6" class="tl" text-anchor="end">4</text>
<line y1="291" y2="295" x1="824.5" x2="824.5" stroke="#333" stroke-width="1.1"/>
<text x="824.5" y="307.8" class="tl" text-anchor="middle">-10</text>
<line y1="291" y2="295" x1="882.7" x2="882.7" stroke="#333" stroke-width="1.1"/>
<text x="882.7" y="307.8" class="tl" text-anchor="middle">-5</text>
<line y1="291" y2="295" x1="940.9" x2="940.9" stroke="#333" stroke-width="1.1"/>
<text x="940.9" y="307.8" class="tl" text-anchor="middle">0</text>
<line y1="291" y2="295" x1="999.1" x2="999.1" stroke="#333" stroke-width="1.1"/>
<text x="999.1" y="307.8" class="tl" text-anchor="middle">5</text>
<line y1="291" y2="295" x1="1057.3" x2="1057.3" stroke="#333" stroke-width="1.1"/>
<text x="1057.3" y="307.8" class="tl" text-anchor="middle">10</text>
<text x="771.5" y="89.3" class="tt">Residuals vs Fitted</text>
<text x="917.5" y="326.2" class="at" text-anchor="middle">Fitted values</text>
<text transform="translate(744.8 194.5) rotate(-90)" class="at" text-anchor="middle">Residuals</text>
<rect x="424" y="366" width="294" height="192" fill="#EBEBEB"/>
<line x1="424" x2="718" y1="531.9" y2="531.9" stroke="#fff" stroke-width="0.55"/>
<line x1="424" x2="718" y1="479.9" y2="479.9" stroke="#fff" stroke-width="0.55"/>
<line x1="424" x2="718" y1="427.9" y2="427.9" stroke="#fff" stroke-width="0.55"/>
<line x1="424" x2="718" y1="375.9" y2="375.9" stroke="#fff" stroke-width="0.55"/>
<line y1="366" y2="558" x1="470.7" x2="470.7" stroke="#fff" stroke-width="0.55"/>
<line y1="366" y2="558" x1="537.4" x2="537.4" stroke="#fff" stroke-width="0.55"/>
<line y1="366" y2="558" x1="604.2" x2="604.2" stroke="#fff" stroke-width="0.55"/>
<line y1="366" y2="558" x1="670.9" x2="670.9" stroke="#fff" stroke-width="0.55"/>
<line x1="424" x2="718" y1="505.9" y2="505.9" stroke="#fff" stroke-width="1.1"/>
<line x1="424" x2="718" y1="453.9" y2="453.9" stroke="#fff" stroke-width="1.1"/>
<line x1="424" x2="718" y1="401.9" y2="401.9" stroke="#fff" stroke-width="1.1"/>
<line y1="366" y2="558" x1="437.3" x2="437.3" stroke="#fff" stroke-width="1.1"/>
<line y1="366" y2="558" x1="504.1" x2="504.1" stroke="#fff" stroke-width="1.1"/>
<line y1="366" y2="558" x1="570.8" x2="570.8" stroke="#fff" stroke-width="1.1"/>
<line y1="366" y2="558" x1="637.5" x2="637.5" stroke="#fff" stroke-width="1.1"/>
<line y1="366" y2="558" x1="704.3" x2="704.3" stroke="#fff" stroke-width="1.1"/>
<g clip-path="url(#c3)">
<polyline points="437.6,443.2 437.8,398 438.1,474.7 438.4,486.6 438.6,425.9 438.9,438.6 439.2,451.7 439.4,438.5 439.7,419.9 440,450.7 440.2,445.9 440.5,449.6 440.8,434.6 441,516.6 441.3,418.3 441.6,454.1 441.8,468.3 442.1,410.6 442.4,473.4 442.6,422.4 442.9,428.6 443.2,464.3 443.4,442.3 443.7,529.8 444,409.8 444.2,428.1 444.5,476.4 444.8,477.3 445,473.9 445.3,448.5 445.6,462.8 445.8,458.7 446.1,396.1 446.4,420 446.6,435.4 446.9,464.1 447.2,466.3 447.4,445.9 447.7,449.9 448,447.5 448.2,452 448.5,451.1 448.8,406 449,444.8 449.3,431.6 449.6,454.8 449.8,465.9 450.1,480.3 450.4,478.6 450.7,475.6 450.9,459.9 451.2,477.8 451.5,457 451.7,416.7 452,422.8 452.3,440.8 452.5,438.4 452.8,474 453.1,438.8 453.3,438.7 453.6,494.6 453.9,483.8 454.1,434.9 454.4,431.9 454.7,468.6 454.9,444.9 455.2,443.9 455.5,471.8 455.7,448.2 456,456.8 456.3,479.9 456.5,424.1 456.8,460.3 457.1,465.8 457.3,470.2 457.6,437.8 457.9,467.9 458.1,487.1 458.4,444.8 458.7,455.1 458.9,466.8 459.2,448.6 459.5,472.4 459.7,430.7 460,443.4 460.3,434.7 460.5,426.3 460.8,477.3 461.1,433.5 461.3,443.8 461.6,462.5 461.9,482.7 462.1,469 462.4,414.5 462.7,464.9 462.9,437.5 463.2,442.1 463.5,483.3 463.7,452.7 464,475.4 464.3,444.7 464.5,445.1 464.8,452.6 465.1,478.4 465.3,464.2 465.6,458.6 465.9,427.3 466.1,437.5 466.4,461 466.7,462.6 466.9,426.8 467.2,476.7 467.5,499.6 467.7,440.3 468,469.9 468.3,480.5 468.5,480.1 468.8,418.4 469.1,474.8 469.3,423.5 469.6,482.4 469.9,471.4 470.1,467.3 470.4,442.1 470.7,456.7 470.9,409.9 471.2,410.4 471.5,477.2 471.7,442.3 472,446.2 472.3,418.6 472.5,467.2 472.8,425.8 473.1,479.9 473.3,515.5 473.6,494.9 473.9,480.4 474.1,452.2 474.4,469.9 474.7,433.3 474.9,471.8 475.2,483.8 475.5,452.4 475.7,457.3 476,468 476.3,487.9 476.5,496 476.8,445 477.1,473.5 477.4,467.2 477.6,441 477.9,512.3 478.2,452 478.4,476.2 478.7,445 479,448.8 479.2,444.2 479.5,461.4 479.8,489.1 480,465.6 480.3,396.2 480.6,474.7 480.8,376.5 481.1,399.9 481.4,419.9 481.6,456.4 481.9,457.1 482.2,457.4 482.4,415.6 482.7,463.5 483,469.3 483.2,416.7 483.5,500.2 483.8,446.4 484,454.6 484.3,441.2 484.6,452.4 484.8,484.3 485.1,481.5 485.4,484.1 485.6,453.3 485.9,499.8 486.2,455.6 486.4,500.7 486.7,450.8 487,385.8 487.2,442.5 487.5,471.3 487.8,474.6 488,440.5 488.3,427.4 488.6,522.5 488.8,437.2 489.1,495.9 489.4,442.6 489.6,452.6 489.9,450 490.2,493.8 490.4,490.4 490.7,437.1 491,472.9 491.2,440.9 491.5,424.4 491.8,489 492,521 492.3,448.7 492.6,469.8 492.8,469.8 493.1,445.8 493.4,411.8 493.6,450.3 493.9,451.8 494.2,436.6 494.4,429.6 494.7,436.9 495,449.4 495.2,502.3 495.5,445.2 495.8,420.2 496,401.4 496.3,455.6 496.6,463.2 496.8,429.9 497.1,443 497.4,482.4 497.6,450.5 497.9,412.9 498.2,406.1 498.4,416.8 498.7,479.6 499,499.9 499.2,466.6 499.5,420.9 499.8,430.5 500,499.5 500.3,416.8 500.6,448.7 500.8,453.4 501.1,456.7 501.4,481.4 501.6,436 501.9,438.7 502.2,429.7 502.4,471.4 502.7,396.3 503,472.7 503.2,450.8 503.5,470.4 503.8,421.6 504.1,539 504.3,433.2 504.6,472.4 504.9,392.8 505.1,460.3 505.4,469.4 505.7,436.3 505.9,459.7 506.2,467.3 506.5,453.6 506.7,437.3 507,483 507.3,457.6 507.5,468 507.8,507.2 508.1,449 508.3,448.8 508.6,482.6 508.9,408.9 509.1,450.3 509.4,478.3 509.7,438.8 509.9,440.4 510.2,407.3 510.5,434.8 510.7,417.5 511,444.8 511.3,464.1 511.5,431.1 511.8,536.1 512.1,477.3 512.3,487.5 512.6,427.7 512.9,454.9 513.1,436.3 513.4,446.4 513.7,481.2 513.9,448.7 514.2,429.6 514.5,422.2 514.7,455.5 515,454.3 515.3,456.1 515.5,483.1 515.8,432.9 516.1,475.6 516.3,456.1 516.6,448.3 516.9,479.9 517.1,448.3 517.4,434.7 517.7,485.1 517.9,455.6 518.2,439.9 518.5,463.9 518.7,489.4 519,427.6 519.3,447.1 519.5,435.1 519.8,456 520.1,486.4 520.3,458.8 520.6,425.6 520.9,391.9 521.1,442.4 521.4,510 521.7,414 521.9,418.2 522.2,389.1 522.5,453.4 522.7,454.6 523,466.5 523.3,486.5 523.5,481.2 523.8,432 524.1,483.9 524.3,424.5 524.6,444.2 524.9,445.8 525.1,482.1 525.4,448.6 525.7,439.4 525.9,463.1 526.2,470.6 526.5,461.6 526.7,485.5 527,418.7 527.3,464.9 527.5,396.6 527.8,481.1 528.1,519.9 528.3,406.8 528.6,452.6 528.9,388.9 529.1,480.5 529.4,467.2 529.7,441.9 529.9,424.9 530.2,412.2 530.5,463.3 530.8,462 531,409.6 531.3,436.2 531.6,443.8 531.8,415.9 532.1,467.2 532.4,470.9 532.6,428.7 532.9,440.4 533.2,396.6 533.4,481.2 533.7,409.8 534,443.8 534.2,459.4 534.5,456.8 534.8,467 535,449.9 535.3,482.2 535.6,488.6 535.8,429.1 536.1,448.4 536.4,487.6 536.6,450.6 536.9,437.3 537.2,459.3 537.4,506.5 537.7,454.7 538,461.5 538.2,502.8 538.5,508.5 538.8,471.1 539,425.9 539.3,450.3 539.6,432.3 539.8,443 540.1,435.1 540.4,436.8 540.6,496.4 540.9,422.4 541.2,462 541.4,423.2 541.7,460.7 542,463.7 542.2,448.5 542.5,471.4 542.8,461.1 543,453.5 543.3,454.1 543.6,461.4 543.8,467.2 544.1,430.9 544.4,441.7 544.6,430.1 544.9,410.4 545.2,428.3 545.4,426 545.7,491.5 546,452.7 546.2,423.7 546.5,417.5 546.8,484 547,443.2 547.3,459.1 547.6,456.8 547.8,498.9 548.1,461.6 548.4,448.8 548.6,475.7 548.9,464.4 549.2,460.2 549.4,422.4 549.7,428.3 550,414.7 550.2,479.9 550.5,466.6 550.8,473.5 551,444.2 551.3,444.1 551.6,407.1 551.8,473.2 552.1,434.9 552.4,454.3 552.6,477.9 552.9,439.2 553.2,440.4 553.4,453.1 553.7,458.5 554,444.1 554.2,461.6 554.5,471.3 554.8,426.5 555,442.7 555.3,427.5 555.6,435.8 555.8,484.8 556.1,454.1 556.4,427.6 556.6,474 556.9,442.4 557.2,437.9 557.5,471.6 557.7,462.5 558,423.5 558.3,443.2 558.5,470.4 558.8,461.1 559.1,465.2 559.3,462.6 559.6,471.9 559.9,515.8 560.1,441.2 560.4,461.5 560.7,408.5 560.9,475.8 561.2,441.8 561.5,423.7 561.7,480.7 562,460.7 562.3,493.8 562.5,432 562.8,438.2 563.1,484.8 563.3,446.2 563.6,420.3 563.9,458.6 564.1,428.7 564.4,449.6 564.7,464.6 564.9,411.2 565.2,403.6 565.5,440.2 565.7,483.9 566,421.4 566.3,400.3 566.5,497.4 566.8,452.8 567.1,458.5 567.3,444.1 567.6,443.1 567.9,445 568.1,474.6 568.4,425.9 568.7,461 568.9,462.3 569.2,460 569.5,449.7 569.7,430.2 570,450.6 570.3,442 570.5,442.9 570.8,436.8 571.1,465.7 571.3,398 571.6,462.5 571.9,457.9 572.1,444.4 572.4,434.1 572.7,475.5 572.9,470.4 573.2,503.9 573.5,468 573.7,491.7 574,457.6 574.3,475.4 574.5,418.6 574.8,425.9 575.1,426.6 575.3,373.4 575.6,449.8 575.9,453.6 576.1,485 576.4,509.3 576.7,463 576.9,430.9 577.2,445.4 577.5,486.2 577.7,479.6 578,447.9 578.3,503.6 578.5,464.6 578.8,447.6 579.1,458.7 579.3,452.5 579.6,434.4 579.9,465.3 580.1,451.8 580.4,502.2 580.7,471.6 580.9,455.1 581.2,476.5 581.5,484.8 581.7,447.7 582,433.4 582.3,436.6 582.5,483.2 582.8,463.8 583.1,453.4 583.3,442.8 583.6,450.5 583.9,442 584.1,436.1 584.4,443.7 584.7,415.1 585,456.7 585.2,483.4 585.5,496.6 585.8,450.2 586,512.1 586.3,439.3 586.6,451.1 586.8,476.4 587.1,479.2 587.4,427.9 587.6,428.4 587.9,494.1 588.2,420.3 588.4,438.2 588.7,387.9 589,444.1 589.2,462 589.5,447.2 589.8,428 590,452 590.3,484.4 590.6,475.1 590.8,424.7 591.1,484.4 591.4,443.9 591.6,436.3 591.9,482.3 592.2,392.2 592.4,463.1 592.7,433.5 593,403 593.2,447.1 593.5,464.6 593.8,431.6 594,434.8 594.3,427 594.6,436.2 594.8,465.5 595.1,465.9 595.4,477.4 595.6,452.1 595.9,467.6 596.2,430.5 596.4,433.6 596.7,443.2 597,479.8 597.2,475 597.5,489.8 597.8,441.4 598,475.5 598.3,492.9 598.6,436.9 598.8,447.1 599.1,453.6 599.4,462 599.6,453.7 599.9,449.8 600.2,401.5 600.4,464.6 600.7,436.8 601,407.1 601.2,434.3 601.5,408.4 601.8,457.9 602,470.4 602.3,451.6 602.6,442.8 602.8,413.8 603.1,497.6 603.4,435.2 603.6,446.3 603.9,447 604.2,456.1 604.4,494.1 604.7,470.6 605,490.3 605.2,419.5 605.5,477.9 605.8,448.6 606,466.9 606.3,477.2 606.6,444.2 606.8,487.6 607.1,420.8 607.4,408.6 607.6,430.8 607.9,424.4 608.2,472.2 608.4,423.1 608.7,451.3 609,425.6 609.2,448.3 609.5,436.4 609.8,479.5 610,468.1 610.3,457.7 610.6,490.6 610.9,418 611.1,413.7 611.4,487.5 611.7,458 611.9,469.1 612.2,450.9 612.5,487.2 612.7,432.5 613,468.4 613.3,451.4 613.5,444.1 613.8,480.2 614.1,441.8 614.3,470.1 614.6,416.4 614.9,460.6 615.1,460.6 615.4,487.1 615.7,549.8 615.9,490.8 616.2,432.5 616.5,448.8 616.7,445.6 617,478.1 617.3,473 617.5,465.9 617.8,429.7 618.1,473.3 618.3,438.6 618.6,517.6 618.9,463.2 619.1,412.7 619.4,442.9 619.7,458.2 619.9,432.7 620.2,483.1 620.5,495.3 620.7,449 621,442.2 621.3,452.7 621.5,441.6 621.8,471.7 622.1,480.3 622.3,434.4 622.6,445.4 622.9,395.1 623.1,461.7 623.4,458.3 623.7,456.1 623.9,452.3 624.2,469.6 624.5,461.1 624.7,458.6 625,433.5 625.3,441.5 625.5,454.2 625.8,411.9 626.1,457.9 626.3,472.1 626.6,405.8 626.9,464.1 627.1,445.8 627.4,465.7 627.7,432.5 627.9,489.1 628.2,430.4 628.5,436.2 628.7,460.7 629,434.3 629.3,460.1 629.5,408.5 629.8,433.9 630.1,454.1 630.3,431.8 630.6,494.7 630.9,490.6 631.1,454.6 631.4,426.7 631.7,476 631.9,456.6 632.2,391.4 632.5,507.1 632.7,460.7 633,427.9 633.3,444.6 633.5,417 633.8,468.8 634.1,446.1 634.3,427.9 634.6,442.1 634.9,426.6 635.1,516.7 635.4,463.5 635.7,376.5 635.9,467.4 636.2,457.2 636.5,427.6 636.7,485.9 637,456.1 637.3,461 637.5,466.2 637.8,478.1 638.1,435.8 638.4,435.2 638.6,455.2 638.9,496.4 639.2,430.6 639.4,451.9 639.7,439.4 640,472.8 640.2,465.2 640.5,443.5 640.8,484.1 641,475.2 641.3,421 641.6,483.1 641.8,414.1 642.1,419.3 642.4,476.5 642.6,443.9 642.9,443.5 643.2,406.6 643.4,446.5 643.7,470.2 644,460.1 644.2,451.5 644.5,427.8 644.8,482.7 645,429.6 645.3,452.5 645.6,447 645.8,450 646.1,462.5 646.4,469.3 646.6,459.9 646.9,407.9 647.2,418.5 647.4,502.9 647.7,407.8 648,426.2 648.2,412.4 648.5,446 648.8,448.2 649,452.7 649.3,484.1 649.6,437.4 649.8,428.4 650.1,443.7 650.4,442.1 650.6,430.9 650.9,394 651.2,446.8 651.4,485.8 651.7,459.5 652,463 652.2,408.7 652.5,477.5 652.8,409.5 653,478.1 653.3,455.6 653.6,454.6 653.8,432.4 654.1,441.5 654.4,494.1 654.6,462 654.9,399.8 655.2,457.6 655.4,490.3 655.7,482.1 656,452 656.2,466.8 656.5,465.3 656.8,481.3 657,472.4 657.3,467.6 657.6,422.2 657.8,462.1 658.1,445.8 658.4,420.1 658.6,435.6 658.9,447.7 659.2,434.5 659.4,474.6 659.7,469.6 660,455.4 660.2,441.8 660.5,469.3 660.8,468.2 661,480.8 661.3,424.1 661.6,469.3 661.8,413.4 662.1,464.3 662.4,410.6 662.6,466.3 662.9,463.7 663.2,462.7 663.4,466.9 663.7,446.1 664,474.5 664.2,491.7 664.5,468.9 664.8,433.2 665.1,464.2 665.3,468.2 665.6,460.8 665.9,502.8 666.1,453.7 666.4,465.5 666.7,475.3 666.9,475.3 667.2,449.7 667.5,453.1 667.7,433.1 668,432.8 668.3,467.8 668.5,448.6 668.8,463.6 669.1,467.6 669.3,454.2 669.6,453.9 669.9,445.3 670.1,479.3 670.4,496.8 670.7,458.7 670.9,464.5 671.2,475.9 671.5,451.1 671.7,435.8 672,413.3 672.3,438.9 672.5,453.9 672.8,452.8 673.1,483 673.3,428 673.6,459.3 673.9,472.8 674.1,474.3 674.4,449.4 674.7,430.5 674.9,408.6 675.2,499.3 675.5,455.3 675.7,464.5 676,440.9 676.3,447.9 676.5,512.8 676.8,443.5 677.1,453.4 677.3,414.2 677.6,453.1 677.9,456.6 678.1,479.2 678.4,498.1 678.7,470.8 678.9,461.6 679.2,461.8 679.5,461.1 679.7,403.6 680,463.8 680.3,405 680.5,419.3 680.8,450.7 681.1,414.9 681.3,470.4 681.6,505.6 681.9,471.7 682.1,444.4 682.4,410.7 682.7,478.3 682.9,482.7 683.2,451 683.5,414.9 683.7,452.6 684,453 684.3,418.2 684.5,434 684.8,460.9 685.1,477.2 685.3,469.7 685.6,426.8 685.9,473.9 686.1,449.1 686.4,477.6 686.7,508.8 686.9,486.6 687.2,464.8 687.5,431.3 687.7,466.4 688,414.7 688.3,429.7 688.5,438.1 688.8,496.4 689.1,479.7 689.3,408.1 689.6,447.3 689.9,536.1 690.1,471.9 690.4,454.4 690.7,459.2 691,462.9 691.2,449 691.5,454 691.8,513.1 692,420.9 692.3,452.9 692.6,469.1 692.8,428.8 693.1,450 693.4,507.8 693.6,460 693.9,449.8 694.2,467.2 694.4,479.5 694.7,488.8 695,454.9 695.2,482.7 695.5,479.7 695.8,419.9 696,416.5 696.3,404.5 696.6,465.1 696.8,458 697.1,446 697.4,471.1 697.6,483.8 697.9,485.5 698.2,439.1 698.4,453.9 698.7,447.7 699,512 699.2,465.1 699.5,465.3 699.8,447.2 700,483.1 700.3,437.9 700.6,476.2 700.8,464.9 701.1,473.9 701.4,455.2 701.6,499.5 701.9,462.5 702.2,442.8 702.4,441.2 702.7,512.2 703,464.4 703.2,407.9 703.5,439.4 703.8,455.6 704,443.8 704.3,471.9" fill="none" stroke="#000" stroke-width="1.3"/>
<polygon points="437.6,453.6 443,453.4 448.5,453.1 453.9,452.8 459.3,452.4 464.8,452.1 470.2,451.7 475.7,451.4 481.1,451 486.6,450.7 492,450.4 497.4,450 502.9,449.7 508.3,449.5 513.8,449.2 519.2,449 524.7,448.8 530.1,448.7 535.6,448.5 541,448.5 546.4,448.4 551.9,448.4 557.3,448.4 562.8,448.5 568.2,448.6 573.7,448.7 579.1,448.8 584.5,448.9 590,449 595.4,449.1 600.9,449.2 606.3,449.2 611.8,449.3 617.2,449.4 622.6,449.4 628.1,449.4 633.5,449.4 639,449.5 644.4,449.4 649.9,449.4 655.3,449.3 660.8,449.3 666.2,449.2 671.6,449.1 677.1,448.9 682.5,448.7 688,448.6 693.4,448.3 698.9,448.1 704.3,447.8 704.3,460 698.9,459.5 693.4,459.1 688,458.7 682.5,458.3 677.1,457.9 671.6,457.6 666.2,457.3 660.8,457 655.3,456.7 649.9,456.5 644.4,456.2 639,456 633.5,455.8 628.1,455.7 622.6,455.5 617.2,455.4 611.8,455.2 606.3,455.1 600.9,455 595.4,454.9 590,454.7 584.5,454.6 579.1,454.5 573.7,454.4 568.2,454.4 562.8,454.3 557.3,454.2 551.9,454.2 546.4,454.2 541,454.3 535.6,454.4 530.1,454.6 524.7,454.8 519.2,455.1 513.8,455.4 508.3,455.9 502.9,456.3 497.4,456.8 492,457.4 486.6,458 481.1,458.7 475.7,459.5 470.2,460.2 464.8,461.1 459.3,461.9 453.9,462.8 448.5,463.8 443,464.8 437.6,465.8" fill="#999" fill-opacity="0.4"/>
<line x1="437.6" y1="453.9" x2="704.3" y2="453.9" stroke="#000" stroke-width="2" stroke-dasharray="1.5 4 6 4"/>
<polyline points="437.6,459.7 443,459.1 448.5,458.4 453.9,457.8 459.3,457.2 464.8,456.6 470.2,456 475.7,455.4 481.1,454.9 486.6,454.4 492,453.9 497.4,453.4 502.9,453 508.3,452.7 513.8,452.3 519.2,452 524.7,451.8 530.1,451.6 535.6,451.5 541,451.4 546.4,451.3 551.9,451.3 557.3,451.3 562.8,451.4 568.2,451.5 573.7,451.6 579.1,451.7 584.5,451.8 590,451.9 595.4,452 600.9,452.1 606.3,452.2 611.8,452.3 617.2,452.4 622.6,452.5 628.1,452.6 633.5,452.6 639,452.7 644.4,452.8 649.9,452.9 655.3,453 660.8,453.1 666.2,453.2 671.6,453.3 677.1,453.4 682.5,453.5 688,453.6 693.4,453.7 698.9,453.8 704.3,453.9" fill="none" stroke="#3366FF" stroke-width="2" stroke-dasharray="8 5"/>
</g>
<line x1="420" x2="424" y1="505.9" y2="505.9" stroke="#333" stroke-width="1.1"/>
<text x="416.8" y="510.9" class="tl" text-anchor="end">-4</text>
<line x1="420" x2="424" y1="453.9" y2="453.9" stroke="#333" stroke-width="1.1"/>
<text x="416.8" y="458.9" class="tl" text-anchor="end">0</text>
<line x1="420" x2="424" y1="401.9" y2="401.9" stroke="#333" stroke-width="1.1"/>
<text x="416.8" y="406.9" class="tl" text-anchor="end">4</text>
<line y1="558" y2="562" x1="437.3" x2="437.3" stroke="#333" stroke-width="1.1"/>
<text x="437.3" y="574.2" class="tl" text-anchor="middle">0</text>
<line y1="558" y2="562" x1="504.1" x2="504.1" stroke="#333" stroke-width="1.1"/>
<text x="504.1" y="574.2" class="tl" text-anchor="middle">250</text>
<line y1="558" y2="562" x1="570.8" x2="570.8" stroke="#333" stroke-width="1.1"/>
<text x="570.8" y="574.2" class="tl" text-anchor="middle">500</text>
<line y1="558" y2="562" x1="637.5" x2="637.5" stroke="#333" stroke-width="1.1"/>
<text x="637.5" y="574.2" class="tl" text-anchor="middle">750</text>
<line y1="558" y2="562" x1="704.3" x2="704.3" stroke="#333" stroke-width="1.1"/>
<text x="704.3" y="574.2" class="tl" text-anchor="middle">1000</text>
<text x="424.5" y="356" class="tt">Residuals vs Row order</text>
<text x="571" y="593.7" class="at" text-anchor="middle">Row order</text>
<text transform="translate(397.9 462) rotate(-90)" class="at" text-anchor="middle">Residuals</text>
<rect x="771" y="366" width="293" height="187" fill="#EBEBEB"/>
<line x1="771" x2="1064" y1="527.9" y2="527.9" stroke="#fff" stroke-width="0.55"/>
<line x1="771" x2="1064" y1="477.5" y2="477.5" stroke="#fff" stroke-width="0.55"/>
<line x1="771" x2="1064" y1="427.1" y2="427.1" stroke="#fff" stroke-width="0.55"/>
<line x1="771" x2="1064" y1="376.7" y2="376.7" stroke="#fff" stroke-width="0.55"/>
<line y1="366" y2="553" x1="795.3" x2="795.3" stroke="#fff" stroke-width="0.55"/>
<line y1="366" y2="553" x1="876.6" x2="876.6" stroke="#fff" stroke-width="0.55"/>
<line y1="366" y2="553" x1="957.9" x2="957.9" stroke="#fff" stroke-width="0.55"/>
<line y1="366" y2="553" x1="1039.2" x2="1039.2" stroke="#fff" stroke-width="0.55"/>
<line x1="771" x2="1064" y1="553.1" y2="553.1" stroke="#fff" stroke-width="1.1"/>
<line x1="771" x2="1064" y1="502.7" y2="502.7" stroke="#fff" stroke-width="1.1"/>
<line x1="771" x2="1064" y1="452.3" y2="452.3" stroke="#fff" stroke-width="1.1"/>
<line x1="771" x2="1064" y1="401.9" y2="401.9" stroke="#fff" stroke-width="1.1"/>
<line y1="366" y2="553" x1="836" x2="836" stroke="#fff" stroke-width="1.1"/>
<line y1="366" y2="553" x1="917.3" x2="917.3" stroke="#fff" stroke-width="1.1"/>
<line y1="366" y2="553" x1="998.6" x2="998.6" stroke="#fff" stroke-width="1.1"/>
<g clip-path="url(#c4)">
<line x1="754.7" y1="553.1" x2="1079.9" y2="351.5" stroke="#000" stroke-width="1.2" stroke-dasharray="1.5 4 6 4"/>
<g fill="#000" fill-opacity="0.45" stroke="#000" stroke-opacity="0.45" stroke-width="0.7">
<circle cx="783.5" cy="544.6" r="2.7"/>
<circle cx="796.7" cy="534.2" r="2.7"/>
<circle cx="803.2" cy="531.3" r="2.7"/>
<circle cx="807.7" cy="531.3" r="2.7"/>
<circle cx="811.1" cy="525.3" r="2.7"/>
<circle cx="813.9" cy="518.3" r="2.7"/>
<circle cx="816.3" cy="516.8" r="2.7"/>
<circle cx="818.4" cy="515.7" r="2.7"/>
<circle cx="820.3" cy="513.5" r="2.7"/>
<circle cx="822" cy="512.7" r="2.7"/>
<circle cx="823.5" cy="512.6" r="2.7"/>
<circle cx="824.9" cy="511.8" r="2.7"/>
<circle cx="826.2" cy="511.6" r="2.7"/>
<circle cx="827.4" cy="509.3" r="2.7"/>
<circle cx="828.5" cy="509" r="2.7"/>
<circle cx="829.6" cy="508.4" r="2.7"/>
<circle cx="830.6" cy="508.4" r="2.7"/>
<circle cx="831.6" cy="508.2" r="2.7"/>
<circle cx="832.5" cy="508.2" r="2.7"/>
<circle cx="833.4" cy="506.3" r="2.7"/>
<circle cx="834.2" cy="505.6" r="2.7"/>
<circle cx="835" cy="505.1" r="2.7"/>
<circle cx="835.8" cy="504.8" r="2.7"/>
<circle cx="836.6" cy="504.2" r="2.7"/>
<circle cx="837.3" cy="503.6" r="2.7"/>
<circle cx="838" cy="503.5" r="2.7"/>
<circle cx="838.6" cy="502.9" r="2.7"/>
<circle cx="839.3" cy="502" r="2.7"/>
<circle cx="839.9" cy="500.4" r="2.7"/>
<circle cx="840.5" cy="500.1" r="2.7"/>
<circle cx="841.1" cy="499.5" r="2.7"/>
<circle cx="841.7" cy="499.4" r="2.7"/>
<circle cx="842.3" cy="499.3" r="2.7"/>
<circle cx="842.8" cy="498.9" r="2.7"/>
<circle cx="843.4" cy="498.7" r="2.7"/>
<circle cx="843.9" cy="497.3" r="2.7"/>
<circle cx="844.4" cy="496.9" r="2.7"/>
<circle cx="844.9" cy="496.6" r="2.7"/>
<circle cx="845.4" cy="496.5" r="2.7"/>
<circle cx="845.9" cy="496.3" r="2.7"/>
<circle cx="846.4" cy="496.2" r="2.7"/>
<circle cx="846.8" cy="496.1" r="2.7"/>
<circle cx="847.3" cy="495.9" r="2.7"/>
<circle cx="847.7" cy="495.6" r="2.7"/>
<circle cx="848.2" cy="494.8" r="2.7"/>
<circle cx="848.6" cy="494.3" r="2.7"/>
<circle cx="849" cy="494.1" r="2.7"/>
<circle cx="849.4" cy="493.5" r="2.7"/>
<circle cx="849.8" cy="493.4" r="2.7"/>
<circle cx="850.2" cy="493.2" r="2.7"/>
<circle cx="850.6" cy="493.2" r="2.7"/>
<circle cx="851" cy="493.2" r="2.7"/>
<circle cx="851.4" cy="492.8" r="2.7"/>
<circle cx="851.8" cy="492.7" r="2.7"/>
<circle cx="852.2" cy="492.2" r="2.7"/>
<circle cx="852.5" cy="491.8" r="2.7"/>
<circle cx="852.9" cy="491.6" r="2.7"/>
<circle cx="853.2" cy="491.4" r="2.7"/>
<circle cx="853.6" cy="491" r="2.7"/>
<circle cx="853.9" cy="491" r="2.7"/>
<circle cx="854.3" cy="491" r="2.7"/>
<circle cx="854.6" cy="490.7" r="2.7"/>
<circle cx="854.9" cy="490.6" r="2.7"/>
<circle cx="855.3" cy="489.8" r="2.7"/>
<circle cx="855.6" cy="488.7" r="2.7"/>
<circle cx="855.9" cy="488.6" r="2.7"/>
<circle cx="856.2" cy="488.5" r="2.7"/>
<circle cx="856.5" cy="487.8" r="2.7"/>
<circle cx="856.9" cy="487.6" r="2.7"/>
<circle cx="857.2" cy="487.6" r="2.7"/>
<circle cx="857.5" cy="487.4" r="2.7"/>
<circle cx="857.8" cy="487.3" r="2.7"/>
<circle cx="858.1" cy="487.3" r="2.7"/>
<circle cx="858.3" cy="486.8" r="2.7"/>
<circle cx="858.6" cy="486.4" r="2.7"/>
<circle cx="858.9" cy="486.1" r="2.7"/>
<circle cx="859.2" cy="486.1" r="2.7"/>
<circle cx="859.5" cy="486" r="2.7"/>
<circle cx="859.8" cy="485.9" r="2.7"/>
<circle cx="860" cy="485.7" r="2.7"/>
<circle cx="860.3" cy="485" r="2.7"/>
<circle cx="860.6" cy="484.7" r="2.7"/>
<circle cx="860.9" cy="484.7" r="2.7"/>
<circle cx="861.1" cy="484.7" r="2.7"/>
<circle cx="861.4" cy="484.6" r="2.7"/>
<circle cx="861.7" cy="484.4" r="2.7"/>
<circle cx="861.9" cy="484.3" r="2.7"/>
<circle cx="862.2" cy="484.2" r="2.7"/>
<circle cx="862.4" cy="483.8" r="2.7"/>
<circle cx="862.7" cy="483.8" r="2.7"/>
<circle cx="862.9" cy="483.7" r="2.7"/>
<circle cx="863.2" cy="483.5" r="2.7"/>
<circle cx="863.4" cy="483.4" r="2.7"/>
<circle cx="863.7" cy="483.1" r="2.7"/>
<circle cx="863.9" cy="482.9" r="2.7"/>
<circle cx="864.1" cy="482.7" r="2.7"/>
<circle cx="864.4" cy="482.7" r="2.7"/>
<circle cx="864.6" cy="482.3" r="2.7"/>
<circle cx="864.9" cy="482.2" r="2.7"/>
<circle cx="865.1" cy="482" r="2.7"/>
<circle cx="865.3" cy="482" r="2.7"/>
<circle cx="865.6" cy="482" r="2.7"/>
<circle cx="865.8" cy="481.7" r="2.7"/>
<circle cx="866" cy="481.6" r="2.7"/>
<circle cx="866.2" cy="481.6" r="2.7"/>
<circle cx="866.5" cy="481.3" r="2.7"/>
<circle cx="866.7" cy="481.3" r="2.7"/>
<circle cx="866.9" cy="481.3" r="2.7"/>
<circle cx="867.1" cy="481.2" r="2.7"/>
<circle cx="867.3" cy="481.2" r="2.7"/>
<circle cx="867.5" cy="481.1" r="2.7"/>
<circle cx="867.8" cy="481.1" r="2.7"/>
<circle cx="868" cy="481.1" r="2.7"/>
<circle cx="868.2" cy="481.1" r="2.7"/>
<circle cx="868.4" cy="480.7" r="2.7"/>
<circle cx="868.6" cy="480.6" r="2.7"/>
<circle cx="868.8" cy="480.5" r="2.7"/>
<circle cx="869" cy="480.4" r="2.7"/>
<circle cx="869.2" cy="480.4" r="2.7"/>
<circle cx="869.4" cy="480.4" r="2.7"/>
<circle cx="869.6" cy="480.4" r="2.7"/>
<circle cx="869.8" cy="480.3" r="2.7"/>
<circle cx="870" cy="480.3" r="2.7"/>
<circle cx="870.2" cy="480" r="2.7"/>
<circle cx="870.4" cy="480" r="2.7"/>
<circle cx="870.6" cy="480" r="2.7"/>
<circle cx="870.8" cy="480" r="2.7"/>
<circle cx="871" cy="479.9" r="2.7"/>
<circle cx="871.2" cy="479.7" r="2.7"/>
<circle cx="871.4" cy="479.7" r="2.7"/>
<circle cx="871.6" cy="479.7" r="2.7"/>
<circle cx="871.8" cy="479.6" r="2.7"/>
<circle cx="872" cy="479.4" r="2.7"/>
<circle cx="872.2" cy="479.4" r="2.7"/>
<circle cx="872.4" cy="478.8" r="2.7"/>
<circle cx="872.6" cy="478.7" r="2.7"/>
<circle cx="872.7" cy="478.6" r="2.7"/>
<circle cx="872.9" cy="478.5" r="2.7"/>
<circle cx="873.1" cy="478.5" r="2.7"/>
<circle cx="873.3" cy="478.5" r="2.7"/>
<circle cx="873.5" cy="478.5" r="2.7"/>
<circle cx="873.7" cy="478.2" r="2.7"/>
<circle cx="873.8" cy="478.1" r="2.7"/>
<circle cx="874" cy="477.9" r="2.7"/>
<circle cx="874.2" cy="477.9" r="2.7"/>
<circle cx="874.4" cy="477.8" r="2.7"/>
<circle cx="874.6" cy="477.7" r="2.7"/>
<circle cx="874.7" cy="477.7" r="2.7"/>
<circle cx="874.9" cy="477.5" r="2.7"/>
<circle cx="875.1" cy="477.5" r="2.7"/>
<circle cx="875.3" cy="477.3" r="2.7"/>
<circle cx="875.4" cy="477.3" r="2.7"/>
<circle cx="875.6" cy="477.3" r="2.7"/>
<circle cx="875.8" cy="477.3" r="2.7"/>
<circle cx="875.9" cy="477.2" r="2.7"/>
<circle cx="876.1" cy="477.1" r="2.7"/>
<circle cx="876.3" cy="477.1" r="2.7"/>
<circle cx="876.5" cy="477" r="2.7"/>
<circle cx="876.6" cy="477" r="2.7"/>
<circle cx="876.8" cy="477" r="2.7"/>
<circle cx="877" cy="476.9" r="2.7"/>
<circle cx="877.1" cy="476.7" r="2.7"/>
<circle cx="877.3" cy="476.7" r="2.7"/>
<circle cx="877.5" cy="476.6" r="2.7"/>
<circle cx="877.6" cy="476.1" r="2.7"/>
<circle cx="877.8" cy="475.9" r="2.7"/>
<circle cx="877.9" cy="475.8" r="2.7"/>
<circle cx="878.1" cy="475.8" r="2.7"/>
<circle cx="878.3" cy="475.6" r="2.7"/>
<circle cx="878.4" cy="475.6" r="2.7"/>
<circle cx="878.6" cy="475.6" r="2.7"/>
<circle cx="878.8" cy="475.4" r="2.7"/>
<circle cx="878.9" cy="475.4" r="2.7"/>
<circle cx="879.1" cy="475.3" r="2.7"/>
<circle cx="879.2" cy="475.1" r="2.7"/>
<circle cx="879.4" cy="475" r="2.7"/>
<circle cx="879.5" cy="474.9" r="2.7"/>
<circle cx="879.7" cy="474.8" r="2.7"/>
<circle cx="879.9" cy="474.8" r="2.7"/>
<circle cx="880" cy="474.8" r="2.7"/>
<circle cx="880.2" cy="474.7" r="2.7"/>
<circle cx="880.3" cy="474.7" r="2.7"/>
<circle cx="880.5" cy="474.7" r="2.7"/>
<circle cx="880.6" cy="474.3" r="2.7"/>
<circle cx="880.8" cy="474.1" r="2.7"/>
<circle cx="880.9" cy="474" r="2.7"/>
<circle cx="881.1" cy="474" r="2.7"/>
<circle cx="881.2" cy="474" r="2.7"/>
<circle cx="881.4" cy="473.8" r="2.7"/>
<circle cx="881.5" cy="473.8" r="2.7"/>
<circle cx="881.7" cy="473.6" r="2.7"/>
<circle cx="881.8" cy="473.4" r="2.7"/>
<circle cx="882" cy="473.4" r="2.7"/>
<circle cx="882.1" cy="473.2" r="2.7"/>
<circle cx="882.3" cy="473.1" r="2.7"/>
<circle cx="882.4" cy="473.1" r="2.7"/>
<circle cx="882.6" cy="473.1" r="2.7"/>
<circle cx="882.7" cy="473" r="2.7"/>
<circle cx="882.9" cy="473" r="2.7"/>
<circle cx="883" cy="473" r="2.7"/>
<circle cx="883.2" cy="472.9" r="2.7"/>
<circle cx="883.3" cy="472.9" r="2.7"/>
<circle cx="883.4" cy="472.8" r="2.7"/>
<circle cx="883.6" cy="472.7" r="2.7"/>
<circle cx="883.7" cy="472.5" r="2.7"/>
<circle cx="883.9" cy="472.4" r="2.7"/>
<circle cx="884" cy="472.3" r="2.7"/>
<circle cx="884.2" cy="472.3" r="2.7"/>
<circle cx="884.3" cy="472.2" r="2.7"/>
<circle cx="884.4" cy="472.2" r="2.7"/>
<circle cx="884.6" cy="472.2" r="2.7"/>
<circle cx="884.7" cy="472.1" r="2.7"/>
<circle cx="884.9" cy="471.9" r="2.7"/>
<circle cx="885" cy="471.6" r="2.7"/>
<circle cx="885.1" cy="471.6" r="2.7"/>
<circle cx="885.3" cy="471.6" r="2.7"/>
<circle cx="885.4" cy="471.5" r="2.7"/>
<circle cx="885.6" cy="471.5" r="2.7"/>
<circle cx="885.7" cy="471.1" r="2.7"/>
<circle cx="885.8" cy="471.1" r="2.7"/>
<circle cx="886" cy="471.1" r="2.7"/>
<circle cx="886.1" cy="470.9" r="2.7"/>
<circle cx="886.3" cy="470.9" r="2.7"/>
<circle cx="886.4" cy="470.7" r="2.7"/>
<circle cx="886.5" cy="470.5" r="2.7"/>
<circle cx="886.7" cy="470.5" r="2.7"/>
<circle cx="886.8" cy="470.4" r="2.7"/>
<circle cx="886.9" cy="470.4" r="2.7"/>
<circle cx="887.1" cy="470.1" r="2.7"/>
<circle cx="887.2" cy="470.1" r="2.7"/>
<circle cx="887.3" cy="470.1" r="2.7"/>
<circle cx="887.5" cy="469.9" r="2.7"/>
<circle cx="887.6" cy="469.8" r="2.7"/>
<circle cx="887.7" cy="469.6" r="2.7"/>
<circle cx="887.9" cy="469.6" r="2.7"/>
<circle cx="888" cy="469.6" r="2.7"/>
<circle cx="888.1" cy="469.5" r="2.7"/>
<circle cx="888.3" cy="469.5" r="2.7"/>
<circle cx="888.4" cy="469.5" r="2.7"/>
<circle cx="888.5" cy="469.4" r="2.7"/>
<circle cx="888.7" cy="469.4" r="2.7"/>
<circle cx="888.8" cy="469.3" r="2.7"/>
<circle cx="888.9" cy="469.1" r="2.7"/>
<circle cx="889" cy="469.1" r="2.7"/>
<circle cx="889.2" cy="469.1" r="2.7"/>
<circle cx="889.3" cy="469.1" r="2.7"/>
<circle cx="889.4" cy="469" r="2.7"/>
<circle cx="889.6" cy="468.9" r="2.7"/>
<circle cx="889.7" cy="468.8" r="2.7"/>
<circle cx="889.8" cy="468.6" r="2.7"/>
<circle cx="889.9" cy="468.6" r="2.7"/>
<circle cx="890.1" cy="468.4" r="2.7"/>
<circle cx="890.2" cy="468.4" r="2.7"/>
<circle cx="890.3" cy="468.2" r="2.7"/>
<circle cx="890.5" cy="468.2" r="2.7"/>
<circle cx="890.6" cy="468.2" r="2.7"/>
<circle cx="890.7" cy="468.2" r="2.7"/>
<circle cx="890.8" cy="468.1" r="2.7"/>
<circle cx="891" cy="468" r="2.7"/>
<circle cx="891.1" cy="468" r="2.7"/>
<circle cx="891.2" cy="467.8" r="2.7"/>
<circle cx="891.3" cy="467.7" r="2.7"/>
<circle cx="891.5" cy="467.7" r="2.7"/>
<circle cx="891.6" cy="467.6" r="2.7"/>
<circle cx="891.7" cy="467.5" r="2.7"/>
<circle cx="891.8" cy="467.5" r="2.7"/>
<circle cx="892" cy="467.4" r="2.7"/>
<circle cx="892.1" cy="467.4" r="2.7"/>
<circle cx="892.2" cy="467.2" r="2.7"/>
<circle cx="892.3" cy="467.2" r="2.7"/>
<circle cx="892.5" cy="467.1" r="2.7"/>
<circle cx="892.6" cy="467.1" r="2.7"/>
<circle cx="892.7" cy="467.1" r="2.7"/>
<circle cx="892.8" cy="467" r="2.7"/>
<circle cx="892.9" cy="466.9" r="2.7"/>
<circle cx="893.1" cy="466.9" r="2.7"/>
<circle cx="893.2" cy="466.8" r="2.7"/>
<circle cx="893.3" cy="466.6" r="2.7"/>
<circle cx="893.4" cy="466.4" r="2.7"/>
<circle cx="893.5" cy="466.3" r="2.7"/>
<circle cx="893.7" cy="466.1" r="2.7"/>
<circle cx="893.8" cy="466.1" r="2.7"/>
<circle cx="893.9" cy="466.1" r="2.7"/>
<circle cx="894" cy="465.9" r="2.7"/>
<circle cx="894.1" cy="465.9" r="2.7"/>
<circle cx="894.3" cy="465.9" r="2.7"/>
<circle cx="894.4" cy="465.8" r="2.7"/>
<circle cx="894.5" cy="465.8" r="2.7"/>
<circle cx="894.6" cy="465.7" r="2.7"/>
<circle cx="894.7" cy="465.5" r="2.7"/>
<circle cx="894.9" cy="465.5" r="2.7"/>
<circle cx="895" cy="465.4" r="2.7"/>
<circle cx="895.1" cy="465.3" r="2.7"/>
<circle cx="895.2" cy="465.2" r="2.7"/>
<circle cx="895.3" cy="465.2" r="2.7"/>
<circle cx="895.5" cy="465.1" r="2.7"/>
<circle cx="895.6" cy="465.1" r="2.7"/>
<circle cx="895.7" cy="465.1" r="2.7"/>
<circle cx="895.8" cy="465.1" r="2.7"/>
<circle cx="895.9" cy="465.1" r="2.7"/>
<circle cx="896" cy="465.1" r="2.7"/>
<circle cx="896.2" cy="464.9" r="2.7"/>
<circle cx="896.3" cy="464.8" r="2.7"/>
<circle cx="896.4" cy="464.8" r="2.7"/>
<circle cx="896.5" cy="464.8" r="2.7"/>
<circle cx="896.6" cy="464.7" r="2.7"/>
<circle cx="896.7" cy="464.6" r="2.7"/>
<circle cx="896.9" cy="464.6" r="2.7"/>
<circle cx="897" cy="464.4" r="2.7"/>
<circle cx="897.1" cy="464.3" r="2.7"/>
<circle cx="897.2" cy="464.3" r="2.7"/>
<circle cx="897.3" cy="464.2" r="2.7"/>
<circle cx="897.4" cy="464.1" r="2.7"/>
<circle cx="897.5" cy="463.8" r="2.7"/>
<circle cx="897.7" cy="463.8" r="2.7"/>
<circle cx="897.8" cy="463.8" r="2.7"/>
<circle cx="897.9" cy="463.7" r="2.7"/>
<circle cx="898" cy="463.6" r="2.7"/>
<circle cx="898.1" cy="463.6" r="2.7"/>
<circle cx="898.2" cy="463.6" r="2.7"/>
<circle cx="898.3" cy="463.5" r="2.7"/>
<circle cx="898.5" cy="463.4" r="2.7"/>
<circle cx="898.6" cy="463.3" r="2.7"/>
<circle cx="898.7" cy="463.3" r="2.7"/>
<circle cx="898.8" cy="463.3" r="2.7"/>
<circle cx="898.9" cy="463.2" r="2.7"/>
<circle cx="899" cy="463.1" r="2.7"/>
<circle cx="899.1" cy="463.1" r="2.7"/>
<circle cx="899.2" cy="463.1" r="2.7"/>
<circle cx="899.4" cy="462.9" r="2.7"/>
<circle cx="899.5" cy="462.9" r="2.7"/>
<circle cx="899.6" cy="462.8" r="2.7"/>
<circle cx="899.7" cy="462.8" r="2.7"/>
<circle cx="899.8" cy="462.6" r="2.7"/>
<circle cx="899.9" cy="462.6" r="2.7"/>
<circle cx="900" cy="462.6" r="2.7"/>
<circle cx="900.1" cy="462.6" r="2.7"/>
<circle cx="900.3" cy="462.5" r="2.7"/>
<circle cx="900.4" cy="462.5" r="2.7"/>
<circle cx="900.5" cy="462.4" r="2.7"/>
<circle cx="900.6" cy="462.4" r="2.7"/>
<circle cx="900.7" cy="462.3" r="2.7"/>
<circle cx="900.8" cy="462.3" r="2.7"/>
<circle cx="900.9" cy="462.3" r="2.7"/>
<circle cx="901" cy="462.2" r="2.7"/>
<circle cx="901.1" cy="462.2" r="2.7"/>
<circle cx="901.3" cy="462.1" r="2.7"/>
<circle cx="901.4" cy="462.1" r="2.7"/>
<circle cx="901.5" cy="461.9" r="2.7"/>
<circle cx="901.6" cy="461.8" r="2.7"/>
<circle cx="901.7" cy="461.8" r="2.7"/>
<circle cx="901.8" cy="461.8" r="2.7"/>
<circle cx="901.9" cy="461.7" r="2.7"/>
<circle cx="902" cy="461.6" r="2.7"/>
<circle cx="902.1" cy="461.6" r="2.7"/>
<circle cx="902.2" cy="461.6" r="2.7"/>
<circle cx="902.3" cy="461.4" r="2.7"/>
<circle cx="902.5" cy="461.2" r="2.7"/>
<circle cx="902.6" cy="461.2" r="2.7"/>
<circle cx="902.7" cy="461.2" r="2.7"/>
<circle cx="902.8" cy="461.2" r="2.7"/>
<circle cx="902.9" cy="461.1" r="2.7"/>
<circle cx="903" cy="461" r="2.7"/>
<circle cx="903.1" cy="460.9" r="2.7"/>
<circle cx="903.2" cy="460.9" r="2.7"/>
<circle cx="903.3" cy="460.7" r="2.7"/>
<circle cx="903.4" cy="460.7" r="2.7"/>
<circle cx="903.5" cy="460.7" r="2.7"/>
<circle cx="903.6" cy="460.6" r="2.7"/>
<circle cx="903.8" cy="460.6" r="2.7"/>
<circle cx="903.9" cy="460.6" r="2.7"/>
<circle cx="904" cy="460.5" r="2.7"/>
<circle cx="904.1" cy="460.5" r="2.7"/>
<circle cx="904.2" cy="460.4" r="2.7"/>
<circle cx="904.3" cy="460.2" r="2.7"/>
<circle cx="904.4" cy="460.1" r="2.7"/>
<circle cx="904.5" cy="460.1" r="2.7"/>
<circle cx="904.6" cy="460.1" r="2.7"/>
<circle cx="904.7" cy="460.1" r="2.7"/>
<circle cx="904.8" cy="460.1" r="2.7"/>
<circle cx="904.9" cy="459.9" r="2.7"/>
<circle cx="905" cy="459.8" r="2.7"/>
<circle cx="905.1" cy="459.8" r="2.7"/>
<circle cx="905.3" cy="459.7" r="2.7"/>
<circle cx="905.4" cy="459.7" r="2.7"/>
<circle cx="905.5" cy="459.7" r="2.7"/>
<circle cx="905.6" cy="459.7" r="2.7"/>
<circle cx="905.7" cy="459.6" r="2.7"/>
<circle cx="905.8" cy="459.5" r="2.7"/>
<circle cx="905.9" cy="459.5" r="2.7"/>
<circle cx="906" cy="459.3" r="2.7"/>
<circle cx="906.1" cy="459.2" r="2.7"/>
<circle cx="906.2" cy="459.2" r="2.7"/>
<circle cx="906.3" cy="459.2" r="2.7"/>
<circle cx="906.4" cy="459.2" r="2.7"/>
<circle cx="906.5" cy="459.1" r="2.7"/>
<circle cx="906.6" cy="459.1" r="2.7"/>
<circle cx="906.7" cy="459" r="2.7"/>
<circle cx="906.8" cy="459" r="2.7"/>
<circle cx="906.9" cy="458.8" r="2.7"/>
<circle cx="907.1" cy="458.8" r="2.7"/>
<circle cx="907.2" cy="458.8" r="2.7"/>
<circle cx="907.3" cy="458.8" r="2.7"/>
<circle cx="907.4" cy="458.8" r="2.7"/>
<circle cx="907.5" cy="458.7" r="2.7"/>
<circle cx="907.6" cy="458.5" r="2.7"/>
<circle cx="907.7" cy="458.4" r="2.7"/>
<circle cx="907.8" cy="458.4" r="2.7"/>
<circle cx="907.9" cy="458.3" r="2.7"/>
<circle cx="908" cy="458.2" r="2.7"/>
<circle cx="908.1" cy="458.1" r="2.7"/>
<circle cx="908.2" cy="458.1" r="2.7"/>
<circle cx="908.3" cy="458.1" r="2.7"/>
<circle cx="908.4" cy="458.1" r="2.7"/>
<circle cx="908.5" cy="457.9" r="2.7"/>
<circle cx="908.6" cy="457.7" r="2.7"/>
<circle cx="908.7" cy="457.6" r="2.7"/>
<circle cx="908.8" cy="457.5" r="2.7"/>
<circle cx="908.9" cy="457.5" r="2.7"/>
<circle cx="909" cy="457.4" r="2.7"/>
<circle cx="909.1" cy="457.3" r="2.7"/>
<circle cx="909.2" cy="457" r="2.7"/>
<circle cx="909.4" cy="456.9" r="2.7"/>
<circle cx="909.5" cy="456.9" r="2.7"/>
<circle cx="909.6" cy="456.9" r="2.7"/>
<circle cx="909.7" cy="456.8" r="2.7"/>
<circle cx="909.8" cy="456.8" r="2.7"/>
<circle cx="909.9" cy="456.8" r="2.7"/>
<circle cx="910" cy="456.8" r="2.7"/>
<circle cx="910.1" cy="456.7" r="2.7"/>
<circle cx="910.2" cy="456.5" r="2.7"/>
<circle cx="910.3" cy="456.5" r="2.7"/>
<circle cx="910.4" cy="456.3" r="2.7"/>
<circle cx="910.5" cy="456.2" r="2.7"/>
<circle cx="910.6" cy="456.2" r="2.7"/>
<circle cx="910.7" cy="456.2" r="2.7"/>
<circle cx="910.8" cy="456.1" r="2.7"/>
<circle cx="910.9" cy="456" r="2.7"/>
<circle cx="911" cy="455.9" r="2.7"/>
<circle cx="911.1" cy="455.9" r="2.7"/>
<circle cx="911.2" cy="455.8" r="2.7"/>
<circle cx="911.3" cy="455.6" r="2.7"/>
<circle cx="911.4" cy="455.5" r="2.7"/>
<circle cx="911.5" cy="455.4" r="2.7"/>
<circle cx="911.6" cy="455.4" r="2.7"/>
<circle cx="911.7" cy="455.2" r="2.7"/>
<circle cx="911.8" cy="455.1" r="2.7"/>
<circle cx="911.9" cy="455.1" r="2.7"/>
<circle cx="912" cy="455.1" r="2.7"/>
<circle cx="912.1" cy="455" r="2.7"/>
<circle cx="912.2" cy="455" r="2.7"/>
<circle cx="912.3" cy="455" r="2.7"/>
<circle cx="912.4" cy="454.9" r="2.7"/>
<circle cx="912.6" cy="454.9" r="2.7"/>
<circle cx="912.7" cy="454.7" r="2.7"/>
<circle cx="912.8" cy="454.5" r="2.7"/>
<circle cx="912.9" cy="454.5" r="2.7"/>
<circle cx="913" cy="454.4" r="2.7"/>
<circle cx="913.1" cy="454.4" r="2.7"/>
<circle cx="913.2" cy="454.4" r="2.7"/>
<circle cx="913.3" cy="454.3" r="2.7"/>
<circle cx="913.4" cy="454" r="2.7"/>
<circle cx="913.5" cy="454" r="2.7"/>
<circle cx="913.6" cy="453.9" r="2.7"/>
<circle cx="913.7" cy="453.9" r="2.7"/>
<circle cx="913.8" cy="453.9" r="2.7"/>
<circle cx="913.9" cy="453.8" r="2.7"/>
<circle cx="914" cy="453.8" r="2.7"/>
<circle cx="914.1" cy="453.6" r="2.7"/>
<circle cx="914.2" cy="453.6" r="2.7"/>
<circle cx="914.3" cy="453.5" r="2.7"/>
<circle cx="914.4" cy="453.5" r="2.7"/>
<circle cx="914.5" cy="453.4" r="2.7"/>
<circle cx="914.6" cy="453.2" r="2.7"/>
<circle cx="914.7" cy="453.2" r="2.7"/>
<circle cx="914.8" cy="453.1" r="2.7"/>
<circle cx="914.9" cy="453" r="2.7"/>
<circle cx="915" cy="453" r="2.7"/>
<circle cx="915.1" cy="453" r="2.7"/>
<circle cx="915.2" cy="453" r="2.7"/>
<circle cx="915.3" cy="452.9" r="2.7"/>
<circle cx="915.4" cy="452.7" r="2.7"/>
<circle cx="915.5" cy="452.7" r="2.7"/>
<circle cx="915.6" cy="452.7" r="2.7"/>
<circle cx="915.7" cy="452.6" r="2.7"/>
<circle cx="915.8" cy="452.6" r="2.7"/>
<circle cx="915.9" cy="452.5" r="2.7"/>
<circle cx="916" cy="452.5" r="2.7"/>
<circle cx="916.1" cy="452.5" r="2.7"/>
<circle cx="916.2" cy="452.5" r="2.7"/>
<circle cx="916.3" cy="452.4" r="2.7"/>
<circle cx="916.4" cy="452.3" r="2.7"/>
<circle cx="916.5" cy="452.3" r="2.7"/>
<circle cx="916.6" cy="452.3" r="2.7"/>
<circle cx="916.7" cy="452.1" r="2.7"/>
<circle cx="916.8" cy="452.1" r="2.7"/>
<circle cx="916.9" cy="452" r="2.7"/>
<circle cx="917" cy="452" r="2.7"/>
<circle cx="917.1" cy="452" r="2.7"/>
<circle cx="917.2" cy="452" r="2.7"/>
<circle cx="917.4" cy="451.8" r="2.7"/>
<circle cx="917.5" cy="451.8" r="2.7"/>
<circle cx="917.6" cy="451.8" r="2.7"/>
<circle cx="917.7" cy="451.8" r="2.7"/>
<circle cx="917.8" cy="451.8" r="2.7"/>
<circle cx="917.9" cy="451.6" r="2.7"/>
<circle cx="918" cy="451.5" r="2.7"/>
<circle cx="918.1" cy="451.5" r="2.7"/>
<circle cx="918.2" cy="451.5" r="2.7"/>
<circle cx="918.3" cy="451.3" r="2.7"/>
<circle cx="918.4" cy="451.3" r="2.7"/>
<circle cx="918.5" cy="451.2" r="2.7"/>
<circle cx="918.6" cy="451.2" r="2.7"/>
<circle cx="918.7" cy="451.1" r="2.7"/>
<circle cx="918.8" cy="451.1" r="2.7"/>
<circle cx="918.9" cy="451.1" r="2.7"/>
<circle cx="919" cy="451.1" r="2.7"/>
<circle cx="919.1" cy="451.1" r="2.7"/>
<circle cx="919.2" cy="451" r="2.7"/>
<circle cx="919.3" cy="451" r="2.7"/>
<circle cx="919.4" cy="451" r="2.7"/>
<circle cx="919.5" cy="451" r="2.7"/>
<circle cx="919.6" cy="450.9" r="2.7"/>
<circle cx="919.7" cy="450.8" r="2.7"/>
<circle cx="919.8" cy="450.8" r="2.7"/>
<circle cx="919.9" cy="450.6" r="2.7"/>
<circle cx="920" cy="450.6" r="2.7"/>
<circle cx="920.1" cy="450.5" r="2.7"/>
<circle cx="920.2" cy="450.5" r="2.7"/>
<circle cx="920.3" cy="450.5" r="2.7"/>
<circle cx="920.4" cy="450.4" r="2.7"/>
<circle cx="920.5" cy="450.3" r="2.7"/>
<circle cx="920.6" cy="450.3" r="2.7"/>
<circle cx="920.7" cy="450.3" r="2.7"/>
<circle cx="920.8" cy="450.2" r="2.7"/>
<circle cx="920.9" cy="450.1" r="2.7"/>
<circle cx="921" cy="450" r="2.7"/>
<circle cx="921.1" cy="449.9" r="2.7"/>
<circle cx="921.2" cy="449.8" r="2.7"/>
<circle cx="921.3" cy="449.6" r="2.7"/>
<circle cx="921.4" cy="449.6" r="2.7"/>
<circle cx="921.5" cy="449.6" r="2.7"/>
<circle cx="921.6" cy="449.5" r="2.7"/>
<circle cx="921.7" cy="449.4" r="2.7"/>
<circle cx="921.8" cy="449.3" r="2.7"/>
<circle cx="921.9" cy="449.3" r="2.7"/>
<circle cx="922" cy="449.2" r="2.7"/>
<circle cx="922.2" cy="449.2" r="2.7"/>
<circle cx="922.3" cy="449.1" r="2.7"/>
<circle cx="922.4" cy="449.1" r="2.7"/>
<circle cx="922.5" cy="449" r="2.7"/>
<circle cx="922.6" cy="449" r="2.7"/>
<circle cx="922.7" cy="448.9" r="2.7"/>
<circle cx="922.8" cy="448.8" r="2.7"/>
<circle cx="922.9" cy="448.8" r="2.7"/>
<circle cx="923" cy="448.7" r="2.7"/>
<circle cx="923.1" cy="448.6" r="2.7"/>
<circle cx="923.2" cy="448.6" r="2.7"/>
<circle cx="923.3" cy="448.5" r="2.7"/>
<circle cx="923.4" cy="448.5" r="2.7"/>
<circle cx="923.5" cy="448.5" r="2.7"/>
<circle cx="923.6" cy="448.4" r="2.7"/>
<circle cx="923.7" cy="448.4" r="2.7"/>
<circle cx="923.8" cy="448.3" r="2.7"/>
<circle cx="923.9" cy="448.3" r="2.7"/>
<circle cx="924" cy="448.2" r="2.7"/>
<circle cx="924.1" cy="448.2" r="2.7"/>
<circle cx="924.2" cy="448.1" r="2.7"/>
<circle cx="924.3" cy="448" r="2.7"/>
<circle cx="924.4" cy="448" r="2.7"/>
<circle cx="924.5" cy="447.7" r="2.7"/>
<circle cx="924.6" cy="447.6" r="2.7"/>
<circle cx="924.7" cy="447.6" r="2.7"/>
<circle cx="924.8" cy="447.6" r="2.7"/>
<circle cx="924.9" cy="447.4" r="2.7"/>
<circle cx="925" cy="447.4" r="2.7"/>
<circle cx="925.1" cy="447.4" r="2.7"/>
<circle cx="925.2" cy="447.4" r="2.7"/>
<circle cx="925.4" cy="447.3" r="2.7"/>
<circle cx="925.5" cy="447.3" r="2.7"/>
<circle cx="925.6" cy="447.3" r="2.7"/>
<circle cx="925.7" cy="447.2" r="2.7"/>
<circle cx="925.8" cy="447.2" r="2.7"/>
<circle cx="925.9" cy="447.2" r="2.7"/>
<circle cx="926" cy="447.2" r="2.7"/>
<circle cx="926.1" cy="447.1" r="2.7"/>
<circle cx="926.2" cy="447.1" r="2.7"/>
<circle cx="926.3" cy="447.1" r="2.7"/>
<circle cx="926.4" cy="447" r="2.7"/>
<circle cx="926.5" cy="446.9" r="2.7"/>
<circle cx="926.6" cy="446.9" r="2.7"/>
<circle cx="926.7" cy="446.9" r="2.7"/>
<circle cx="926.8" cy="446.8" r="2.7"/>
<circle cx="926.9" cy="446.5" r="2.7"/>
<circle cx="927" cy="446.5" r="2.7"/>
<circle cx="927.1" cy="446.4" r="2.7"/>
<circle cx="927.2" cy="446.3" r="2.7"/>
<circle cx="927.3" cy="446.3" r="2.7"/>
<circle cx="927.4" cy="446.3" r="2.7"/>
<circle cx="927.5" cy="446.1" r="2.7"/>
<circle cx="927.7" cy="446" r="2.7"/>
<circle cx="927.8" cy="445.9" r="2.7"/>
<circle cx="927.9" cy="445.8" r="2.7"/>
<circle cx="928" cy="445.8" r="2.7"/>
<circle cx="928.1" cy="445.8" r="2.7"/>
<circle cx="928.2" cy="445.7" r="2.7"/>
<circle cx="928.3" cy="445.7" r="2.7"/>
<circle cx="928.4" cy="445.7" r="2.7"/>
<circle cx="928.5" cy="445.5" r="2.7"/>
<circle cx="928.6" cy="445.2" r="2.7"/>
<circle cx="928.7" cy="445.1" r="2.7"/>
<circle cx="928.8" cy="445" r="2.7"/>
<circle cx="928.9" cy="445" r="2.7"/>
<circle cx="929" cy="444.9" r="2.7"/>
<circle cx="929.1" cy="444.9" r="2.7"/>
<circle cx="929.2" cy="444.8" r="2.7"/>
<circle cx="929.3" cy="444.8" r="2.7"/>
<circle cx="929.5" cy="444.7" r="2.7"/>
<circle cx="929.6" cy="444.7" r="2.7"/>
<circle cx="929.7" cy="444.6" r="2.7"/>
<circle cx="929.8" cy="444.6" r="2.7"/>
<circle cx="929.9" cy="444.5" r="2.7"/>
<circle cx="930" cy="444.5" r="2.7"/>
<circle cx="930.1" cy="444.5" r="2.7"/>
<circle cx="930.2" cy="444.5" r="2.7"/>
<circle cx="930.3" cy="444.3" r="2.7"/>
<circle cx="930.4" cy="444.2" r="2.7"/>
<circle cx="930.5" cy="444.1" r="2.7"/>
<circle cx="930.6" cy="444.1" r="2.7"/>
<circle cx="930.7" cy="443.9" r="2.7"/>
<circle cx="930.8" cy="443.9" r="2.7"/>
<circle cx="931" cy="443.8" r="2.7"/>
<circle cx="931.1" cy="443.8" r="2.7"/>
<circle cx="931.2" cy="443.7" r="2.7"/>
<circle cx="931.3" cy="443.6" r="2.7"/>
<circle cx="931.4" cy="443.6" r="2.7"/>
<circle cx="931.5" cy="443.5" r="2.7"/>
<circle cx="931.6" cy="443.5" r="2.7"/>
<circle cx="931.7" cy="443.5" r="2.7"/>
<circle cx="931.8" cy="443.4" r="2.7"/>
<circle cx="931.9" cy="443.2" r="2.7"/>
<circle cx="932" cy="443.2" r="2.7"/>
<circle cx="932.1" cy="443" r="2.7"/>
<circle cx="932.3" cy="443" r="2.7"/>
<circle cx="932.4" cy="443" r="2.7"/>
<circle cx="932.5" cy="443" r="2.7"/>
<circle cx="932.6" cy="442.9" r="2.7"/>
<circle cx="932.7" cy="442.9" r="2.7"/>
<circle cx="932.8" cy="442.9" r="2.7"/>
<circle cx="932.9" cy="442.9" r="2.7"/>
<circle cx="933" cy="442.8" r="2.7"/>
<circle cx="933.1" cy="442.7" r="2.7"/>
<circle cx="933.2" cy="442.7" r="2.7"/>
<circle cx="933.3" cy="442.7" r="2.7"/>
<circle cx="933.5" cy="442.6" r="2.7"/>
<circle cx="933.6" cy="442.6" r="2.7"/>
<circle cx="933.7" cy="442.6" r="2.7"/>
<circle cx="933.8" cy="442.6" r="2.7"/>
<circle cx="933.9" cy="442.5" r="2.7"/>
<circle cx="934" cy="442.5" r="2.7"/>
<circle cx="934.1" cy="442.3" r="2.7"/>
<circle cx="934.2" cy="442.3" r="2.7"/>
<circle cx="934.3" cy="442.3" r="2.7"/>
<circle cx="934.5" cy="442.2" r="2.7"/>
<circle cx="934.6" cy="442" r="2.7"/>
<circle cx="934.7" cy="442" r="2.7"/>
<circle cx="934.8" cy="442" r="2.7"/>
<circle cx="934.9" cy="442" r="2.7"/>
<circle cx="935" cy="441.9" r="2.7"/>
<circle cx="935.1" cy="441.8" r="2.7"/>
<circle cx="935.2" cy="441.8" r="2.7"/>
<circle cx="935.4" cy="441.7" r="2.7"/>
<circle cx="935.5" cy="441.7" r="2.7"/>
<circle cx="935.6" cy="441.7" r="2.7"/>
<circle cx="935.7" cy="441.7" r="2.7"/>
<circle cx="935.8" cy="441.6" r="2.7"/>
<circle cx="935.9" cy="441.5" r="2.7"/>
<circle cx="936" cy="441.5" r="2.7"/>
<circle cx="936.1" cy="441.4" r="2.7"/>
<circle cx="936.3" cy="441.3" r="2.7"/>
<circle cx="936.4" cy="441.2" r="2.7"/>
<circle cx="936.5" cy="441.2" r="2.7"/>
<circle cx="936.6" cy="441.2" r="2.7"/>
<circle cx="936.7" cy="441.1" r="2.7"/>
<circle cx="936.8" cy="441" r="2.7"/>
<circle cx="936.9" cy="441" r="2.7"/>
<circle cx="937.1" cy="441" r="2.7"/>
<circle cx="937.2" cy="440.9" r="2.7"/>
<circle cx="937.3" cy="440.9" r="2.7"/>
<circle cx="937.4" cy="440.8" r="2.7"/>
<circle cx="937.5" cy="440.7" r="2.7"/>
<circle cx="937.6" cy="440.7" r="2.7"/>
<circle cx="937.7" cy="440.7" r="2.7"/>
<circle cx="937.9" cy="440.7" r="2.7"/>
<circle cx="938" cy="440.6" r="2.7"/>
<circle cx="938.1" cy="440.5" r="2.7"/>
<circle cx="938.2" cy="440.4" r="2.7"/>
<circle cx="938.3" cy="440.3" r="2.7"/>
<circle cx="938.4" cy="440.3" r="2.7"/>
<circle cx="938.6" cy="440.1" r="2.7"/>
<circle cx="938.7" cy="440.1" r="2.7"/>
<circle cx="938.8" cy="440.1" r="2.7"/>
<circle cx="938.9" cy="439.9" r="2.7"/>
<circle cx="939" cy="439.8" r="2.7"/>
<circle cx="939.1" cy="439.8" r="2.7"/>
<circle cx="939.3" cy="439.7" r="2.7"/>
<circle cx="939.4" cy="439.4" r="2.7"/>
<circle cx="939.5" cy="439.4" r="2.7"/>
<circle cx="939.6" cy="439.4" r="2.7"/>
<circle cx="939.7" cy="439.3" r="2.7"/>
<circle cx="939.9" cy="439.2" r="2.7"/>
<circle cx="940" cy="439.1" r="2.7"/>
<circle cx="940.1" cy="438.9" r="2.7"/>
<circle cx="940.2" cy="438.4" r="2.7"/>
<circle cx="940.3" cy="438.4" r="2.7"/>
<circle cx="940.5" cy="438.3" r="2.7"/>
<circle cx="940.6" cy="438.2" r="2.7"/>
<circle cx="940.7" cy="438.2" r="2.7"/>
<circle cx="940.8" cy="438" r="2.7"/>
<circle cx="940.9" cy="437.8" r="2.7"/>
<circle cx="941.1" cy="437.8" r="2.7"/>
<circle cx="941.2" cy="437.8" r="2.7"/>
<circle cx="941.3" cy="437.7" r="2.7"/>
<circle cx="941.4" cy="437.6" r="2.7"/>
<circle cx="941.5" cy="437.6" r="2.7"/>
<circle cx="941.7" cy="437.5" r="2.7"/>
<circle cx="941.8" cy="437.5" r="2.7"/>
<circle cx="941.9" cy="437.4" r="2.7"/>
<circle cx="942" cy="437.2" r="2.7"/>
<circle cx="942.1" cy="437.2" r="2.7"/>
<circle cx="942.3" cy="437.1" r="2.7"/>
<circle cx="942.4" cy="436.9" r="2.7"/>
<circle cx="942.5" cy="436.9" r="2.7"/>
<circle cx="942.6" cy="436.8" r="2.7"/>
<circle cx="942.8" cy="436.6" r="2.7"/>
<circle cx="942.9" cy="436.5" r="2.7"/>
<circle cx="943" cy="436.4" r="2.7"/>
<circle cx="943.1" cy="436.4" r="2.7"/>
<circle cx="943.3" cy="436.3" r="2.7"/>
<circle cx="943.4" cy="436.2" r="2.7"/>
<circle cx="943.5" cy="436.1" r="2.7"/>
<circle cx="943.6" cy="436" r="2.7"/>
<circle cx="943.8" cy="435.9" r="2.7"/>
<circle cx="943.9" cy="435.9" r="2.7"/>
<circle cx="944" cy="435.9" r="2.7"/>
<circle cx="944.1" cy="435.8" r="2.7"/>
<circle cx="944.3" cy="435.7" r="2.7"/>
<circle cx="944.4" cy="435.7" r="2.7"/>
<circle cx="944.5" cy="435.5" r="2.7"/>
<circle cx="944.7" cy="435.4" r="2.7"/>
<circle cx="944.8" cy="435.4" r="2.7"/>
<circle cx="944.9" cy="435.4" r="2.7"/>
<circle cx="945" cy="435.3" r="2.7"/>
<circle cx="945.2" cy="435.3" r="2.7"/>
<circle cx="945.3" cy="435.2" r="2.7"/>
<circle cx="945.4" cy="435.2" r="2.7"/>
<circle cx="945.6" cy="435.1" r="2.7"/>
<circle cx="945.7" cy="434.9" r="2.7"/>
<circle cx="945.8" cy="434.9" r="2.7"/>
<circle cx="945.9" cy="434.9" r="2.7"/>
<circle cx="946.1" cy="434.7" r="2.7"/>
<circle cx="946.2" cy="434.5" r="2.7"/>
<circle cx="946.3" cy="434.3" r="2.7"/>
<circle cx="946.5" cy="434.3" r="2.7"/>
<circle cx="946.6" cy="434.2" r="2.7"/>
<circle cx="946.7" cy="434.2" r="2.7"/>
<circle cx="946.9" cy="434.1" r="2.7"/>
<circle cx="947" cy="434" r="2.7"/>
<circle cx="947.1" cy="433.9" r="2.7"/>
<circle cx="947.3" cy="433.9" r="2.7"/>
<circle cx="947.4" cy="433.9" r="2.7"/>
<circle cx="947.5" cy="433.8" r="2.7"/>
<circle cx="947.7" cy="433.8" r="2.7"/>
<circle cx="947.8" cy="433.6" r="2.7"/>
<circle cx="947.9" cy="433.6" r="2.7"/>
<circle cx="948.1" cy="433.5" r="2.7"/>
<circle cx="948.2" cy="433.5" r="2.7"/>
<circle cx="948.3" cy="433.5" r="2.7"/>
<circle cx="948.5" cy="433.3" r="2.7"/>
<circle cx="948.6" cy="433.2" r="2.7"/>
<circle cx="948.8" cy="433.1" r="2.7"/>
<circle cx="948.9" cy="432.8" r="2.7"/>
<circle cx="949" cy="432.7" r="2.7"/>
<circle cx="949.2" cy="432.7" r="2.7"/>
<circle cx="949.3" cy="432.7" r="2.7"/>
<circle cx="949.5" cy="432.6" r="2.7"/>
<circle cx="949.6" cy="432.5" r="2.7"/>
<circle cx="949.7" cy="432.4" r="2.7"/>
<circle cx="949.9" cy="432.4" r="2.7"/>
<circle cx="950" cy="432.3" r="2.7"/>
<circle cx="950.2" cy="432.1" r="2.7"/>
<circle cx="950.3" cy="432" r="2.7"/>
<circle cx="950.4" cy="431.9" r="2.7"/>
<circle cx="950.6" cy="431.7" r="2.7"/>
<circle cx="950.7" cy="431.7" r="2.7"/>
<circle cx="950.9" cy="431.7" r="2.7"/>
<circle cx="951" cy="431.6" r="2.7"/>
<circle cx="951.2" cy="431.5" r="2.7"/>
<circle cx="951.3" cy="431.2" r="2.7"/>
<circle cx="951.4" cy="431.2" r="2.7"/>
<circle cx="951.6" cy="431.1" r="2.7"/>
<circle cx="951.7" cy="431.1" r="2.7"/>
<circle cx="951.9" cy="430.8" r="2.7"/>
<circle cx="952" cy="430.8" r="2.7"/>
<circle cx="952.2" cy="430.6" r="2.7"/>
<circle cx="952.3" cy="430.3" r="2.7"/>
<circle cx="952.5" cy="430.2" r="2.7"/>
<circle cx="952.6" cy="430.2" r="2.7"/>
<circle cx="952.8" cy="430.2" r="2.7"/>
<circle cx="952.9" cy="430.1" r="2.7"/>
<circle cx="953.1" cy="430" r="2.7"/>
<circle cx="953.2" cy="429.9" r="2.7"/>
<circle cx="953.4" cy="429.8" r="2.7"/>
<circle cx="953.5" cy="429.8" r="2.7"/>
<circle cx="953.7" cy="429.8" r="2.7"/>
<circle cx="953.8" cy="429.7" r="2.7"/>
<circle cx="954" cy="429.5" r="2.7"/>
<circle cx="954.1" cy="429.4" r="2.7"/>
<circle cx="954.3" cy="429.2" r="2.7"/>
<circle cx="954.4" cy="429.1" r="2.7"/>
<circle cx="954.6" cy="429" r="2.7"/>
<circle cx="954.7" cy="429" r="2.7"/>
<circle cx="954.9" cy="429" r="2.7"/>
<circle cx="955.1" cy="428.9" r="2.7"/>
<circle cx="955.2" cy="428.9" r="2.7"/>
<circle cx="955.4" cy="428.4" r="2.7"/>
<circle cx="955.5" cy="428.2" r="2.7"/>
<circle cx="955.7" cy="428.1" r="2.7"/>
<circle cx="955.8" cy="428.1" r="2.7"/>
<circle cx="956" cy="428" r="2.7"/>
<circle cx="956.2" cy="427.8" r="2.7"/>
<circle cx="956.3" cy="427.8" r="2.7"/>
<circle cx="956.5" cy="427.7" r="2.7"/>
<circle cx="956.7" cy="427.6" r="2.7"/>
<circle cx="956.8" cy="427.5" r="2.7"/>
<circle cx="957" cy="427.4" r="2.7"/>
<circle cx="957.1" cy="427.4" r="2.7"/>
<circle cx="957.3" cy="427.3" r="2.7"/>
<circle cx="957.5" cy="427.3" r="2.7"/>
<circle cx="957.6" cy="427.3" r="2.7"/>
<circle cx="957.8" cy="427.2" r="2.7"/>
<circle cx="958" cy="427.1" r="2.7"/>
<circle cx="958.1" cy="427" r="2.7"/>
<circle cx="958.3" cy="427" r="2.7"/>
<circle cx="958.5" cy="427" r="2.7"/>
<circle cx="958.7" cy="426.9" r="2.7"/>
<circle cx="958.8" cy="426.8" r="2.7"/>
<circle cx="959" cy="426.7" r="2.7"/>
<circle cx="959.2" cy="426.4" r="2.7"/>
<circle cx="959.3" cy="426.3" r="2.7"/>
<circle cx="959.5" cy="426.2" r="2.7"/>
<circle cx="959.7" cy="426.1" r="2.7"/>
<circle cx="959.9" cy="426.1" r="2.7"/>
<circle cx="960" cy="426" r="2.7"/>
<circle cx="960.2" cy="425.9" r="2.7"/>
<circle cx="960.4" cy="425.7" r="2.7"/>
<circle cx="960.6" cy="425.6" r="2.7"/>
<circle cx="960.8" cy="425.5" r="2.7"/>
<circle cx="960.9" cy="425.4" r="2.7"/>
<circle cx="961.1" cy="425.3" r="2.7"/>
<circle cx="961.3" cy="425.3" r="2.7"/>
<circle cx="961.5" cy="425.3" r="2.7"/>
<circle cx="961.7" cy="425.2" r="2.7"/>
<circle cx="961.9" cy="425.1" r="2.7"/>
<circle cx="962" cy="425.1" r="2.7"/>
<circle cx="962.2" cy="424.4" r="2.7"/>
<circle cx="962.4" cy="424.2" r="2.7"/>
<circle cx="962.6" cy="424.1" r="2.7"/>
<circle cx="962.8" cy="424" r="2.7"/>
<circle cx="963" cy="423.9" r="2.7"/>
<circle cx="963.2" cy="423.7" r="2.7"/>
<circle cx="963.4" cy="423.6" r="2.7"/>
<circle cx="963.6" cy="423.3" r="2.7"/>
<circle cx="963.8" cy="423.3" r="2.7"/>
<circle cx="964" cy="423.1" r="2.7"/>
<circle cx="964.2" cy="423" r="2.7"/>
<circle cx="964.4" cy="422.8" r="2.7"/>
<circle cx="964.6" cy="422.7" r="2.7"/>
<circle cx="964.8" cy="422.4" r="2.7"/>
<circle cx="965" cy="422.1" r="2.7"/>
<circle cx="965.2" cy="422" r="2.7"/>
<circle cx="965.4" cy="422" r="2.7"/>
<circle cx="965.6" cy="421.8" r="2.7"/>
<circle cx="965.8" cy="421.8" r="2.7"/>
<circle cx="966" cy="421.2" r="2.7"/>
<circle cx="966.2" cy="421.1" r="2.7"/>
<circle cx="966.4" cy="420.7" r="2.7"/>
<circle cx="966.6" cy="420.6" r="2.7"/>
<circle cx="966.8" cy="420.6" r="2.7"/>
<circle cx="967.1" cy="420.5" r="2.7"/>
<circle cx="967.3" cy="420" r="2.7"/>
<circle cx="967.5" cy="420" r="2.7"/>
<circle cx="967.7" cy="419.9" r="2.7"/>
<circle cx="967.9" cy="419.8" r="2.7"/>
<circle cx="968.1" cy="419.7" r="2.7"/>
<circle cx="968.4" cy="419.6" r="2.7"/>
<circle cx="968.6" cy="419.6" r="2.7"/>
<circle cx="968.8" cy="419.6" r="2.7"/>
<circle cx="969" cy="419.2" r="2.7"/>
<circle cx="969.3" cy="419" r="2.7"/>
<circle cx="969.5" cy="419" r="2.7"/>
<circle cx="969.7" cy="418.5" r="2.7"/>
<circle cx="970" cy="418.4" r="2.7"/>
<circle cx="970.2" cy="418.3" r="2.7"/>
<circle cx="970.5" cy="418.2" r="2.7"/>
<circle cx="970.7" cy="418.1" r="2.7"/>
<circle cx="970.9" cy="418" r="2.7"/>
<circle cx="971.2" cy="418" r="2.7"/>
<circle cx="971.4" cy="417.9" r="2.7"/>
<circle cx="971.7" cy="417.8" r="2.7"/>
<circle cx="971.9" cy="417.3" r="2.7"/>
<circle cx="972.2" cy="417.3" r="2.7"/>
<circle cx="972.4" cy="416.9" r="2.7"/>
<circle cx="972.7" cy="416.6" r="2.7"/>
<circle cx="972.9" cy="416.6" r="2.7"/>
<circle cx="973.2" cy="416.5" r="2.7"/>
<circle cx="973.5" cy="416.5" r="2.7"/>
<circle cx="973.7" cy="416.3" r="2.7"/>
<circle cx="974" cy="416.2" r="2.7"/>
<circle cx="974.3" cy="415.7" r="2.7"/>
<circle cx="974.6" cy="415.5" r="2.7"/>
<circle cx="974.8" cy="415" r="2.7"/>
<circle cx="975.1" cy="414.8" r="2.7"/>
<circle cx="975.4" cy="414.8" r="2.7"/>
<circle cx="975.7" cy="414.6" r="2.7"/>
<circle cx="976" cy="414.6" r="2.7"/>
<circle cx="976.3" cy="414.4" r="2.7"/>
<circle cx="976.5" cy="414.2" r="2.7"/>
<circle cx="976.8" cy="414" r="2.7"/>
<circle cx="977.1" cy="413.9" r="2.7"/>
<circle cx="977.4" cy="413.8" r="2.7"/>
<circle cx="977.7" cy="413.6" r="2.7"/>
<circle cx="978.1" cy="413.3" r="2.7"/>
<circle cx="978.4" cy="413.2" r="2.7"/>
<circle cx="978.7" cy="412.9" r="2.7"/>
<circle cx="979" cy="412.7" r="2.7"/>
<circle cx="979.3" cy="412.4" r="2.7"/>
<circle cx="979.7" cy="412.2" r="2.7"/>
<circle cx="980" cy="411.9" r="2.7"/>
<circle cx="980.3" cy="411.8" r="2.7"/>
<circle cx="980.7" cy="411.2" r="2.7"/>
<circle cx="981" cy="410.8" r="2.7"/>
<circle cx="981.4" cy="410.7" r="2.7"/>
<circle cx="981.7" cy="410.7" r="2.7"/>
<circle cx="982.1" cy="410.5" r="2.7"/>
<circle cx="982.4" cy="410.5" r="2.7"/>
<circle cx="982.8" cy="410" r="2.7"/>
<circle cx="983.2" cy="409.9" r="2.7"/>
<circle cx="983.6" cy="409.9" r="2.7"/>
<circle cx="984" cy="409.7" r="2.7"/>
<circle cx="984.4" cy="409.6" r="2.7"/>
<circle cx="984.8" cy="409" r="2.7"/>
<circle cx="985.2" cy="408.8" r="2.7"/>
<circle cx="985.6" cy="408.8" r="2.7"/>
<circle cx="986" cy="408.7" r="2.7"/>
<circle cx="986.4" cy="408.6" r="2.7"/>
<circle cx="986.9" cy="408.6" r="2.7"/>
<circle cx="987.3" cy="408.5" r="2.7"/>
<circle cx="987.8" cy="408.2" r="2.7"/>
<circle cx="988.2" cy="408" r="2.7"/>
<circle cx="988.7" cy="408" r="2.7"/>
<circle cx="989.2" cy="407.9" r="2.7"/>
<circle cx="989.7" cy="407.5" r="2.7"/>
<circle cx="990.2" cy="407.3" r="2.7"/>
<circle cx="990.7" cy="407.3" r="2.7"/>
<circle cx="991.2" cy="407" r="2.7"/>
<circle cx="991.8" cy="406.8" r="2.7"/>
<circle cx="992.3" cy="406.3" r="2.7"/>
<circle cx="992.9" cy="406.2" r="2.7"/>
<circle cx="993.5" cy="406.1" r="2.7"/>
<circle cx="994.1" cy="405.3" r="2.7"/>
<circle cx="994.7" cy="404.8" r="2.7"/>
<circle cx="995.3" cy="404" r="2.7"/>
<circle cx="996" cy="403.9" r="2.7"/>
<circle cx="996.6" cy="403.4" r="2.7"/>
<circle cx="997.3" cy="401.9" r="2.7"/>
<circle cx="998" cy="401.8" r="2.7"/>
<circle cx="998.8" cy="400.7" r="2.7"/>
<circle cx="999.6" cy="400.4" r="2.7"/>
<circle cx="1000.4" cy="400.3" r="2.7"/>
<circle cx="1001.2" cy="398.5" r="2.7"/>
<circle cx="1002.1" cy="398.5" r="2.7"/>
<circle cx="1003" cy="397.2" r="2.7"/>
<circle cx="1004" cy="397.2" r="2.7"/>
<circle cx="1005" cy="396.9" r="2.7"/>
<circle cx="1006.1" cy="396.8" r="2.7"/>
<circle cx="1007.2" cy="396.8" r="2.7"/>
<circle cx="1008.4" cy="395.8" r="2.7"/>
<circle cx="1009.7" cy="394.7" r="2.7"/>
<circle cx="1011.1" cy="393.5" r="2.7"/>
<circle cx="1012.6" cy="392.9" r="2.7"/>
<circle cx="1014.3" cy="392.7" r="2.7"/>
<circle cx="1016.2" cy="392.1" r="2.7"/>
<circle cx="1018.3" cy="390" r="2.7"/>
<circle cx="1020.7" cy="389.8" r="2.7"/>
<circle cx="1023.5" cy="388.9" r="2.7"/>
<circle cx="1026.9" cy="386.8" r="2.7"/>
<circle cx="1031.4" cy="377.9" r="2.7"/>
<circle cx="1037.9" cy="377.9" r="2.7"/>
<circle cx="1051.1" cy="374.9" r="2.7"/>
</g></g>
<line x1="767" x2="771" y1="553.1" y2="553.1" stroke="#333" stroke-width="1.1"/>
<text x="763.8" y="558.1" class="tl" text-anchor="end">-4</text>
<line x1="767" x2="771" y1="502.7" y2="502.7" stroke="#333" stroke-width="1.1"/>
<text x="763.8" y="507.7" class="tl" text-anchor="end">-2</text>
<line x1="767" x2="771" y1="452.3" y2="452.3" stroke="#333" stroke-width="1.1"/>
<text x="763.8" y="457.3" class="tl" text-anchor="end">0</text>
<line x1="767" x2="771" y1="401.9" y2="401.9" stroke="#333" stroke-width="1.1"/>
<text x="763.8" y="406.9" class="tl" text-anchor="end">2</text>
<line y1="553" y2="557" x1="836" x2="836" stroke="#333" stroke-width="1.1"/>
<text x="836" y="571.5" class="tl" text-anchor="middle">-2</text>
<line y1="553" y2="557" x1="917.3" x2="917.3" stroke="#333" stroke-width="1.1"/>
<text x="917.3" y="571.5" class="tl" text-anchor="middle">0</text>
<line y1="553" y2="557" x1="998.6" x2="998.6" stroke="#333" stroke-width="1.1"/>
<text x="998.6" y="571.5" class="tl" text-anchor="middle">2</text>
<text x="771.5" y="355.6" class="tt">Normal Q-Q</text>
<text x="917.5" y="590.3" class="at" text-anchor="middle">Theoretical quantiles</text>
<text transform="translate(745.2 459.5) rotate(-90)" class="at" text-anchor="middle">Standardized residuals</text>
<rect x="434" y="636" width="284" height="189" fill="#EBEBEB"/>
<line x1="434" x2="718" y1="786.6" y2="786.6" stroke="#fff" stroke-width="0.55"/>
<line x1="434" x2="718" y1="727.1" y2="727.1" stroke="#fff" stroke-width="0.55"/>
<line x1="434" x2="718" y1="667.6" y2="667.6" stroke="#fff" stroke-width="0.55"/>
<line y1="636" y2="825" x1="485.1" x2="485.1" stroke="#fff" stroke-width="0.55"/>
<line y1="636" y2="825" x1="554.2" x2="554.2" stroke="#fff" stroke-width="0.55"/>
<line y1="636" y2="825" x1="623.4" x2="623.4" stroke="#fff" stroke-width="0.55"/>
<line y1="636" y2="825" x1="692.5" x2="692.5" stroke="#fff" stroke-width="0.55"/>
<line x1="434" x2="718" y1="816.4" y2="816.4" stroke="#fff" stroke-width="1.1"/>
<line x1="434" x2="718" y1="756.9" y2="756.9" stroke="#fff" stroke-width="1.1"/>
<line x1="434" x2="718" y1="697.4" y2="697.4" stroke="#fff" stroke-width="1.1"/>
<line x1="434" x2="718" y1="637.9" y2="637.9" stroke="#fff" stroke-width="1.1"/>
<line y1="636" y2="825" x1="450.6" x2="450.6" stroke="#fff" stroke-width="1.1"/>
<line y1="636" y2="825" x1="519.7" x2="519.7" stroke="#fff" stroke-width="1.1"/>
<line y1="636" y2="825" x1="588.8" x2="588.8" stroke="#fff" stroke-width="1.1"/>
<line y1="636" y2="825" x1="657.9" x2="657.9" stroke="#fff" stroke-width="1.1"/>
<g clip-path="url(#c5)">
<path d="M447.1 816.4V815.8H472.9V816.4ZM472.9 816.4V813.4H498.6V816.4ZM498.6 816.4V800.3H524.3V816.4ZM524.3 816.4V764H550.1V816.4ZM550.1 816.4V679H575.8V816.4ZM575.8 816.4V643.9H601.6V816.4ZM601.6 816.4V683.1H627.3V816.4ZM627.3 816.4V753.9H653.1V816.4ZM653.1 816.4V800.9H678.8V816.4ZM678.8 816.4V814.6H704.6V816.4Z" fill="#0000FF" fill-opacity="0.42"/>
</g>
<line x1="430" x2="434" y1="816.4" y2="816.4" stroke="#333" stroke-width="1.1"/>
<text x="426.8" y="821.4" class="tl" text-anchor="end">0</text>
<line x1="430" x2="434" y1="756.9" y2="756.9" stroke="#333" stroke-width="1.1"/>
<text x="426.8" y="761.9" class="tl" text-anchor="end">100</text>
<line x1="430" x2="434" y1="697.4" y2="697.4" stroke="#333" stroke-width="1.1"/>
<text x="426.8" y="702.4" class="tl" text-anchor="end">200</text>
<line x1="430" x2="434" y1="637.9" y2="637.9" stroke="#333" stroke-width="1.1"/>
<text x="426.8" y="642.9" class="tl" text-anchor="end">300</text>
<line y1="825" y2="829" x1="450.6" x2="450.6" stroke="#333" stroke-width="1.1"/>
<text x="450.6" y="841.8" class="tl" text-anchor="middle">-8</text>
<line y1="825" y2="829" x1="519.7" x2="519.7" stroke="#333" stroke-width="1.1"/>
<text x="519.7" y="841.8" class="tl" text-anchor="middle">-4</text>
<line y1="825" y2="829" x1="588.8" x2="588.8" stroke="#333" stroke-width="1.1"/>
<text x="588.8" y="841.8" class="tl" text-anchor="middle">0</text>
<line y1="825" y2="829" x1="657.9" x2="657.9" stroke="#333" stroke-width="1.1"/>
<text x="657.9" y="841.8" class="tl" text-anchor="middle">4</text>
<text x="434.5" y="622.9" class="tt">Histogram of residuals</text>
<text x="576" y="859.9" class="at" text-anchor="middle">Residuals</text>
<text transform="translate(397.9 730.5) rotate(-90)" class="at" text-anchor="middle">count</text>
<rect x="756" y="636" width="308" height="189" fill="#EBEBEB"/>
<line x1="756" x2="1064" y1="795" y2="795" stroke="#fff" stroke-width="0.55"/>
<line x1="756" x2="1064" y1="752.3" y2="752.3" stroke="#fff" stroke-width="0.55"/>
<line x1="756" x2="1064" y1="709.5" y2="709.5" stroke="#fff" stroke-width="0.55"/>
<line x1="756" x2="1064" y1="666.8" y2="666.8" stroke="#fff" stroke-width="0.55"/>
<line y1="636" y2="825" x1="797.9" x2="797.9" stroke="#fff" stroke-width="0.55"/>
<line y1="636" y2="825" x1="881.5" x2="881.5" stroke="#fff" stroke-width="0.55"/>
<line y1="636" y2="825" x1="965.1" x2="965.1" stroke="#fff" stroke-width="0.55"/>
<line y1="636" y2="825" x1="1048.7" x2="1048.7" stroke="#fff" stroke-width="0.55"/>
<line x1="756" x2="1064" y1="816.4" y2="816.4" stroke="#fff" stroke-width="1.1"/>
<line x1="756" x2="1064" y1="773.6" y2="773.6" stroke="#fff" stroke-width="1.1"/>
<line x1="756" x2="1064" y1="730.9" y2="730.9" stroke="#fff" stroke-width="1.1"/>
<line x1="756" x2="1064" y1="688.1" y2="688.1" stroke="#fff" stroke-width="1.1"/>
<line x1="756" x2="1064" y1="645.4" y2="645.4" stroke="#fff" stroke-width="1.1"/>
<line y1="636" y2="825" x1="839.7" x2="839.7" stroke="#fff" stroke-width="1.1"/>
<line y1="636" y2="825" x1="923.3" x2="923.3" stroke="#fff" stroke-width="1.1"/>
<line y1="636" y2="825" x1="1006.9" x2="1006.9" stroke="#fff" stroke-width="1.1"/>
<g clip-path="url(#c6)">
<polygon points="769.1,816.4 769.1,815.3 770.5,815.2 771.9,815.1 773.3,815 774.8,814.9 776.2,814.8 777.6,814.7 779,814.6 780.5,814.5 781.9,814.4 783.3,814.3 784.7,814.2 786.2,814.1 787.6,814 789,813.9 790.4,813.7 791.9,813.6 793.3,813.4 794.7,813.3 796.1,813.1 797.6,812.9 799,812.7 800.4,812.4 801.8,812.1 803.3,811.8 804.7,811.5 806.1,811.1 807.5,810.7 809,810.2 810.4,809.7 811.8,809.2 813.2,808.7 814.7,808.1 816.1,807.4 817.5,806.8 818.9,806.1 820.4,805.4 821.8,804.6 823.2,803.8 824.6,803 826.1,802.2 827.5,801.3 828.9,800.4 830.3,799.5 831.8,798.6 833.2,797.6 834.6,796.6 836,795.5 837.5,794.4 838.9,793.2 840.3,791.9 841.7,790.6 843.2,789.2 844.6,787.7 846,786.1 847.4,784.5 848.9,782.7 850.3,780.8 851.7,778.7 853.1,776.6 854.6,774.3 856,771.8 857.4,769.3 858.8,766.6 860.3,763.7 861.7,760.8 863.1,757.7 864.5,754.4 866,751.1 867.4,747.7 868.8,744.2 870.2,740.7 871.7,737.1 873.1,733.5 874.5,729.8 875.9,726.2 877.4,722.5 878.8,718.9 880.2,715.4 881.6,711.8 883.1,708.4 884.5,705 885.9,701.7 887.3,698.4 888.8,695.3 890.2,692.2 891.6,689.2 893,686.3 894.5,683.5 895.9,680.8 897.3,678.2 898.8,675.7 900.2,673.3 901.6,671 903,668.8 904.5,666.8 905.9,664.8 907.3,663 908.7,661.4 910.2,659.8 911.6,658.4 913,657.1 914.4,655.9 915.9,654.9 917.3,654.1 918.7,653.4 920.1,652.8 921.6,652.4 923,652.2 924.4,652.2 925.8,652.4 927.3,652.8 928.7,653.3 930.1,654.1 931.5,655.1 933,656.3 934.4,657.7 935.8,659.3 937.2,661.1 938.7,663.1 940.1,665.3 941.5,667.6 942.9,670.1 944.4,672.8 945.8,675.5 947.2,678.4 948.6,681.3 950.1,684.4 951.5,687.4 952.9,690.6 954.3,693.7 955.8,696.9 957.2,700.1 958.6,703.3 960,706.5 961.5,709.7 962.9,712.8 964.3,715.9 965.7,719 967.2,722.1 968.6,725 970,728 971.4,730.8 972.9,733.7 974.3,736.4 975.7,739.1 977.1,741.7 978.6,744.3 980,746.8 981.4,749.2 982.8,751.6 984.3,754 985.7,756.3 987.1,758.5 988.5,760.8 990,762.9 991.4,765.1 992.8,767.2 994.2,769.3 995.7,771.4 997.1,773.5 998.5,775.5 999.9,777.5 1001.4,779.5 1002.8,781.4 1004.2,783.3 1005.6,785.1 1007.1,786.8 1008.5,788.6 1009.9,790.2 1011.3,791.8 1012.8,793.3 1014.2,794.8 1015.6,796.1 1017,797.5 1018.5,798.7 1019.9,799.9 1021.3,801.1 1022.7,802.1 1024.2,803.1 1025.6,804.1 1027,805 1028.4,805.9 1029.9,806.7 1031.3,807.4 1032.7,808.1 1034.1,808.8 1035.6,809.4 1037,810 1038.4,810.5 1039.8,811 1041.3,811.4 1042.7,811.8 1044.1,812.2 1045.5,812.6 1047,812.9 1048.4,813.2 1049.8,813.5 1051.2,813.7 1052.7,814 1052.7,816.4" fill="#00FF00" fill-opacity="0.22" stroke="#000" stroke-width="1.5"/>
<polyline points="769.1,816.2 770.5,816.2 771.9,816.2 773.3,816.2 774.8,816.1 776.2,816.1 777.6,816 779,816 780.5,816 781.9,815.9 783.3,815.8 784.7,815.8 786.2,815.7 787.6,815.6 789,815.5 790.4,815.4 791.9,815.3 793.3,815.2 794.7,815 796.1,814.9 797.6,814.7 799,814.5 800.4,814.3 801.8,814.1 803.3,813.8 804.7,813.6 806.1,813.3 807.5,813 809,812.6 810.4,812.2 811.8,811.8 813.2,811.4 814.7,810.9 816.1,810.4 817.5,809.8 818.9,809.2 820.4,808.6 821.8,807.9 823.2,807.2 824.6,806.4 826.1,805.5 827.5,804.6 828.9,803.6 830.3,802.6 831.8,801.5 833.2,800.3 834.6,799.1 836,797.7 837.5,796.4 838.9,794.9 840.3,793.3 841.7,791.7 843.2,790 844.6,788.2 846,786.3 847.4,784.3 848.9,782.2 850.3,780.1 851.7,777.8 853.1,775.5 854.6,773 856,770.5 857.4,767.9 858.8,765.2 860.3,762.4 861.7,759.5 863.1,756.6 864.5,753.5 866,750.4 867.4,747.2 868.8,744 870.2,740.7 871.7,737.3 873.1,733.9 874.5,730.4 875.9,726.9 877.4,723.3 878.8,719.8 880.2,716.2 881.6,712.6 883.1,709 884.5,705.4 885.9,701.8 887.3,698.3 888.8,694.8 890.2,691.3 891.6,687.9 893,684.5 894.5,681.2 895.9,678 897.3,674.9 898.8,671.9 900.2,669 901.6,666.3 903,663.6 904.5,661.1 905.9,658.7 907.3,656.5 908.7,654.5 910.2,652.6 911.6,650.9 913,649.4 914.4,648 915.9,646.9 917.3,645.9 918.7,645.2 920.1,644.6 921.6,644.3 923,644.1 924.4,644.2 925.8,644.5 927.3,644.9 928.7,645.6 930.1,646.4 931.5,647.5 933,648.8 934.4,650.2 935.8,651.8 937.2,653.6 938.7,655.6 940.1,657.7 941.5,660 942.9,662.5 944.4,665 945.8,667.8 947.2,670.6 948.6,673.6 950.1,676.6 951.5,679.8 952.9,683 954.3,686.4 955.8,689.7 957.2,693.2 958.6,696.7 960,700.2 961.5,703.8 962.9,707.4 964.3,711 965.7,714.6 967.2,718.2 968.6,721.7 970,725.3 971.4,728.8 972.9,732.3 974.3,735.8 975.7,739.2 977.1,742.5 978.6,745.8 980,749 981.4,752.1 982.8,755.2 984.3,758.2 985.7,761.1 987.1,763.9 988.5,766.7 990,769.3 991.4,771.9 992.8,774.4 994.2,776.8 995.7,779.1 997.1,781.3 998.5,783.4 999.9,785.4 1001.4,787.3 1002.8,789.2 1004.2,790.9 1005.6,792.6 1007.1,794.2 1008.5,795.7 1009.9,797.1 1011.3,798.5 1012.8,799.8 1014.2,801 1015.6,802.1 1017,803.2 1018.5,804.2 1019.9,805.1 1021.3,806 1022.7,806.8 1024.2,807.6 1025.6,808.3 1027,809 1028.4,809.6 1029.9,810.1 1031.3,810.7 1032.7,811.2 1034.1,811.6 1035.6,812.1 1037,812.4 1038.4,812.8 1039.8,813.1 1041.3,813.4 1042.7,813.7 1044.1,814 1045.5,814.2 1047,814.4 1048.4,814.6 1049.8,814.8 1051.2,815 1052.7,815.1" fill="none" stroke="#2C4CF2" stroke-width="1.7"/>
</g>
<line x1="752" x2="756" y1="816.4" y2="816.4" stroke="#333" stroke-width="1.1"/>
<line x1="752" x2="756" y1="773.6" y2="773.6" stroke="#333" stroke-width="1.1"/>
<line x1="752" x2="756" y1="730.9" y2="730.9" stroke="#333" stroke-width="1.1"/>
<line x1="752" x2="756" y1="688.1" y2="688.1" stroke="#333" stroke-width="1.1"/>
<line x1="752" x2="756" y1="645.4" y2="645.4" stroke="#333" stroke-width="1.1"/>
<line y1="825" y2="829" x1="839.7" x2="839.7" stroke="#333" stroke-width="1.1"/>
<text x="839.7" y="841.8" class="tl" text-anchor="middle">-4</text>
<line y1="825" y2="829" x1="923.3" x2="923.3" stroke="#333" stroke-width="1.1"/>
<text x="923.3" y="841.8" class="tl" text-anchor="middle">0</text>
<line y1="825" y2="829" x1="1006.9" x2="1006.9" stroke="#333" stroke-width="1.1"/>
<text x="1006.9" y="841.8" class="tl" text-anchor="middle">4</text>
<text x="756.5" y="622.9" class="tt">Residuals vs Normal density</text>
<text x="910" y="859.9" class="at" text-anchor="middle">Residuals</text>
</svg>
</body></html>
